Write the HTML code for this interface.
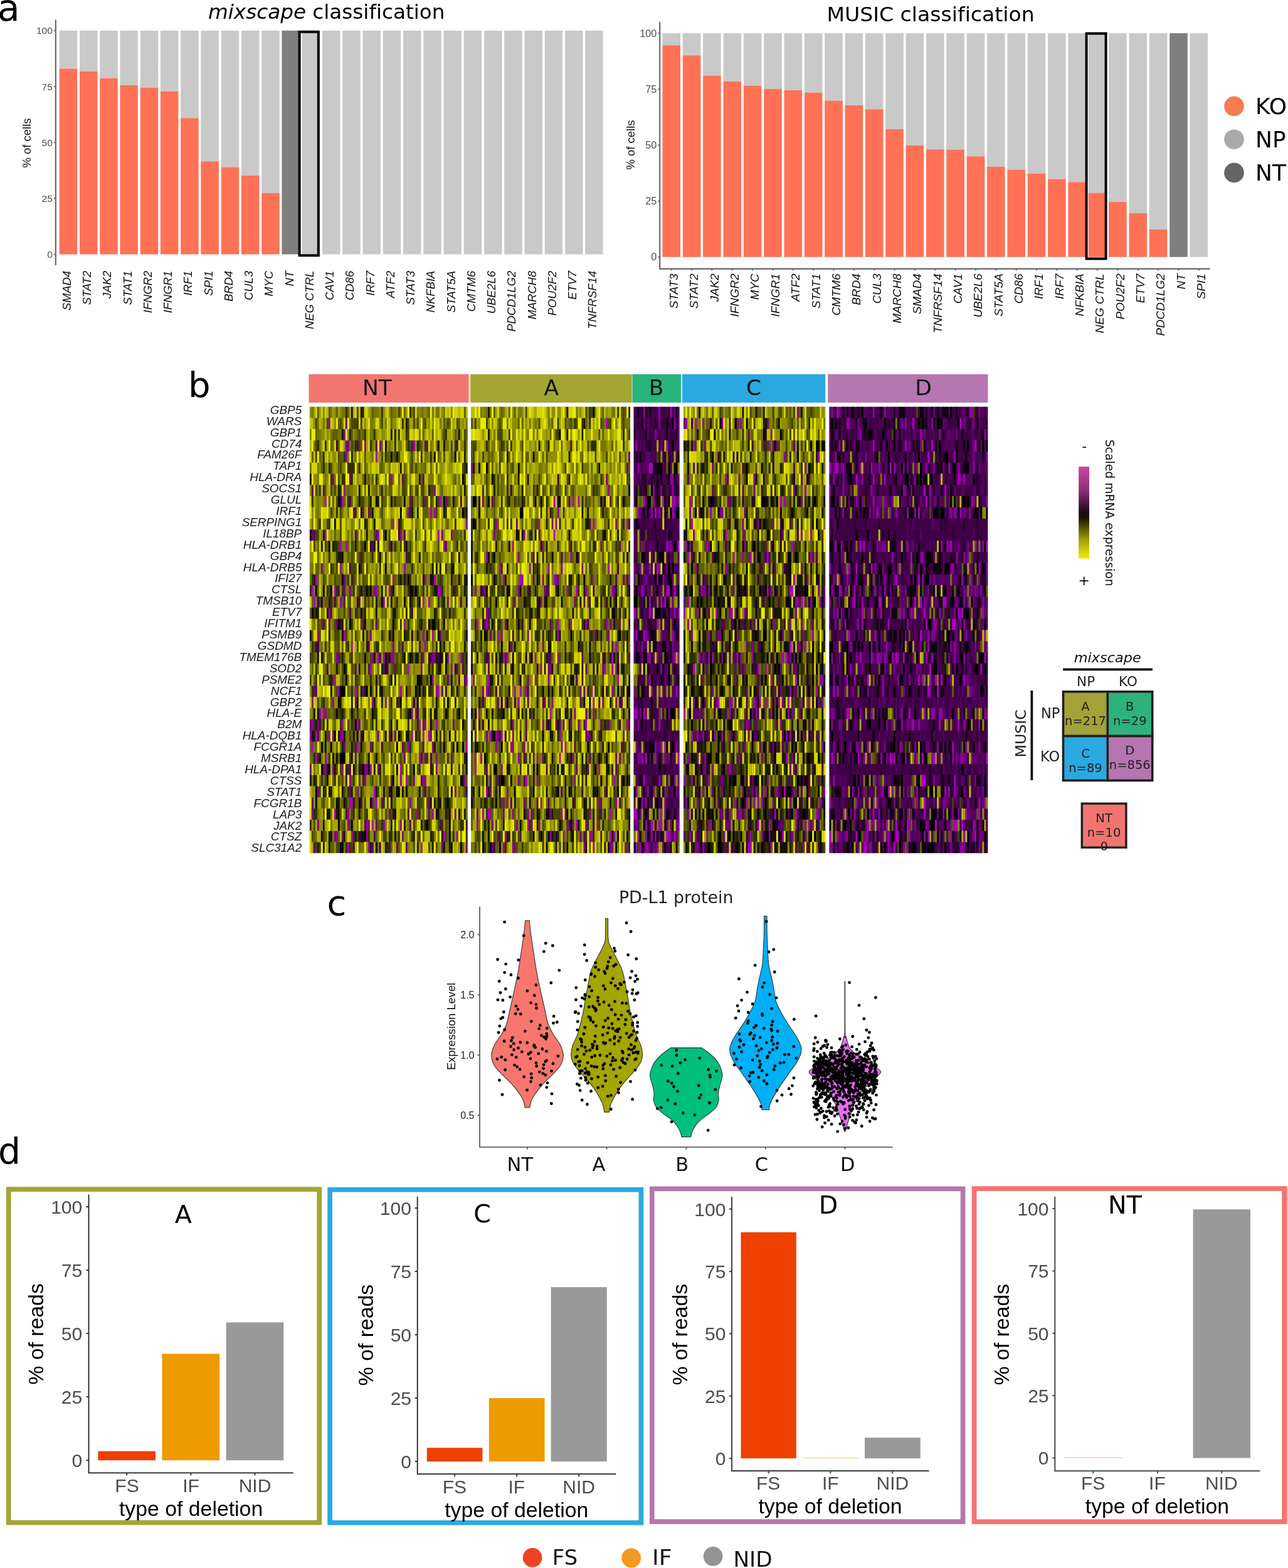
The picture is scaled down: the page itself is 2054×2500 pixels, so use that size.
<!DOCTYPE html>
<html lang="en">
<head>
<meta charset="utf-8">
<title>Figure: mixscape vs MUSIC classification</title>
<style>
html,body{margin:0;padding:0;background:#fff}
body{width:2054px;height:2500px;overflow:hidden}
svg{display:block}
text{white-space:pre;font-variant-ligatures:none;font-kerning:normal}
.s{font-family:"Liberation Sans", sans-serif}
.si{font-family:"Liberation Sans", sans-serif;font-style:italic}
.d{font-family:"DejaVu Sans", "Liberation Sans", sans-serif}
.di{font-family:"DejaVu Sans", "Liberation Sans", sans-serif;font-style:italic}
</style>
</head>
<body>
<svg width="2054" height="2500" viewBox="0 0 2054 2500">
<rect width="2054" height="2500" fill="#fff"/>
<g id="panel_a">
<path fill="#C9C9C9" d="M94.7 48.8h28.5V109.5h-28.5zM127 48.8h28.5V114.1h-28.5zM159.2 48.8h28.5V124.8h-28.5zM191.4 48.8h28.5V135.9h-28.5zM223.7 48.8h28.5V139.8h-28.5zM255.9 48.8h28.5V145.8h-28.5zM288.2 48.8h28.5V188.3h-28.5zM320.4 48.8h28.5V257.2h-28.5zM352.7 48.8h28.5V266.4h-28.5zM384.9 48.8h28.5V280h-28.5zM417.2 48.8h28.5V307.8h-28.5zM481.7 48.8h28.5V405.6h-28.5zM514 48.8h28.5V405.6h-28.5zM546.2 48.8h28.5V405.6h-28.5zM578.5 48.8h28.5V405.6h-28.5zM610.7 48.8h28.5V405.6h-28.5zM643 48.8h28.5V405.6h-28.5zM675.2 48.8h28.5V405.6h-28.5zM707.5 48.8h28.5V405.6h-28.5zM739.7 48.8h28.5V405.6h-28.5zM772 48.8h28.5V405.6h-28.5zM804.2 48.8h28.5V405.6h-28.5zM836.5 48.8h28.5V405.6h-28.5zM868.7 48.8h28.5V405.6h-28.5zM901 48.8h28.5V405.6h-28.5zM933.2 48.8h28.5V405.6h-28.5z"/>
<path fill="#FF7256" d="M94.7 109.5h28.5V405.6h-28.5zM127 114.1h28.5V405.6h-28.5zM159.2 124.8h28.5V405.6h-28.5zM191.4 135.9h28.5V405.6h-28.5zM223.7 139.8h28.5V405.6h-28.5zM255.9 145.8h28.5V405.6h-28.5zM288.2 188.3h28.5V405.6h-28.5zM320.4 257.2h28.5V405.6h-28.5zM352.7 266.4h28.5V405.6h-28.5zM384.9 280h28.5V405.6h-28.5zM417.2 307.8h28.5V405.6h-28.5z"/>
<path fill="#7F7F7F" d="M449.4 48.8h28.5V405.6h-28.5z"/>
<rect x="477.6" y="50.8" width="30.2" height="356.5" fill="none" stroke="#000" stroke-width="4"/>
<path d="M88.8 31.5V423M86.2 405.6h2.6M86.2 316.4h2.6M86.2 227.2h2.6M86.2 138h2.6M86.2 48.8h2.6" fill="none" stroke="#666" stroke-width="2.1"/>
<text class="s" font-size="15.5" text-anchor="end" fill="#4d4d4d" x="83.8" y="411.2">0</text>
<text class="s" font-size="15.5" text-anchor="end" fill="#4d4d4d" x="83.8" y="322">25</text>
<text class="s" font-size="15.5" text-anchor="end" fill="#4d4d4d" x="83.8" y="232.8">50</text>
<text class="s" font-size="15.5" text-anchor="end" fill="#4d4d4d" x="83.8" y="143.6">75</text>
<text class="s" font-size="15.5" text-anchor="end" fill="#4d4d4d" x="83.8" y="54.4">100</text>
<text class="s" font-size="18.5" text-anchor="middle" fill="#111" transform="translate(49 228) rotate(-90)">% of cells</text>
<g class="si" font-size="18.4" text-anchor="end" fill="#111"><text transform="translate(112.8 431.7) rotate(-90)">SMAD4</text><text transform="translate(145 431.7) rotate(-90)">STAT2</text><text transform="translate(177.2 431.7) rotate(-90)">JAK2</text><text transform="translate(209.5 431.7) rotate(-90)">STAT1</text><text transform="translate(241.8 431.7) rotate(-90)">IFNGR2</text><text transform="translate(274 431.7) rotate(-90)">IFNGR1</text><text transform="translate(306.2 431.7) rotate(-90)">IRF1</text><text transform="translate(338.5 431.7) rotate(-90)">SPI1</text><text transform="translate(370.8 431.7) rotate(-90)">BRD4</text><text transform="translate(403 431.7) rotate(-90)">CUL3</text><text transform="translate(435.2 431.7) rotate(-90)">MYC</text><text transform="translate(467.5 431.7) rotate(-90)">NT</text><text transform="translate(499.8 431.7) rotate(-90)">NEG CTRL</text><text transform="translate(532 431.7) rotate(-90)">CAV1</text><text transform="translate(564.2 431.7) rotate(-90)">CD86</text><text transform="translate(596.5 431.7) rotate(-90)">IRF7</text><text transform="translate(628.8 431.7) rotate(-90)">ATF2</text><text transform="translate(661 431.7) rotate(-90)">STAT3</text><text transform="translate(693.2 431.7) rotate(-90)">NKFBIA</text><text transform="translate(725.5 431.7) rotate(-90)">STAT5A</text><text transform="translate(757.8 431.7) rotate(-90)">CMTM6</text><text transform="translate(790 431.7) rotate(-90)">UBE2L6</text><text transform="translate(822.2 431.7) rotate(-90)">PDCD1LG2</text><text transform="translate(854.5 431.7) rotate(-90)">MARCH8</text><text transform="translate(886.8 431.7) rotate(-90)">POU2F2</text><text transform="translate(919 431.7) rotate(-90)">ETV7</text><text transform="translate(951.2 431.7) rotate(-90)">TNFRSF14</text></g>
<path fill="#C9C9C9" d="M1056.4 53h28.6V72.3h-28.6zM1088.8 53h28.6V88.3h-28.6zM1121.1 53h28.6V120.4h-28.6zM1153.5 53h28.6V129.7h-28.6zM1185.8 53h28.6V136.5h-28.6zM1218.2 53h28.6V141.8h-28.6zM1250.5 53h28.6V144h-28.6zM1282.9 53h28.6V147.6h-28.6zM1315.2 53h28.6V160.4h-28.6zM1347.6 53h28.6V167.9h-28.6zM1379.9 53h28.6V174.3h-28.6zM1412.2 53h28.6V206.1h-28.6zM1444.6 53h28.6V232.1h-28.6zM1477 53h28.6V238.2h-28.6zM1509.3 53h28.6V238.5h-28.6zM1541.7 53h28.6V249.2h-28.6zM1574 53h28.6V266h-28.6zM1606.4 53h28.6V270.6h-28.6zM1638.7 53h28.6V276.7h-28.6zM1671.1 53h28.6V285.6h-28.6zM1703.4 53h28.6V290.3h-28.6zM1735.8 53h28.6V307.4h-28.6zM1768.1 53h28.6V321.7h-28.6zM1800.5 53h28.6V339.9h-28.6zM1832.8 53h28.6V365.9h-28.6zM1897.5 53h28.6V409.8h-28.6z"/>
<path fill="#FF7256" d="M1056.4 72.3h28.6V409.8h-28.6zM1088.8 88.3h28.6V409.8h-28.6zM1121.1 120.4h28.6V409.8h-28.6zM1153.5 129.7h28.6V409.8h-28.6zM1185.8 136.5h28.6V409.8h-28.6zM1218.2 141.8h28.6V409.8h-28.6zM1250.5 144h28.6V409.8h-28.6zM1282.9 147.6h28.6V409.8h-28.6zM1315.2 160.4h28.6V409.8h-28.6zM1347.6 167.9h28.6V409.8h-28.6zM1379.9 174.3h28.6V409.8h-28.6zM1412.2 206.1h28.6V409.8h-28.6zM1444.6 232.1h28.6V409.8h-28.6zM1477 238.2h28.6V409.8h-28.6zM1509.3 238.5h28.6V409.8h-28.6zM1541.7 249.2h28.6V409.8h-28.6zM1574 266h28.6V409.8h-28.6zM1606.4 270.6h28.6V409.8h-28.6zM1638.7 276.7h28.6V409.8h-28.6zM1671.1 285.6h28.6V409.8h-28.6zM1703.4 290.3h28.6V409.8h-28.6zM1735.8 307.4h28.6V409.8h-28.6zM1768.1 321.7h28.6V409.8h-28.6zM1800.5 339.9h28.6V409.8h-28.6zM1832.8 365.9h28.6V409.8h-28.6z"/>
<path fill="#7F7F7F" d="M1865.2 53h28.6V409.8h-28.6z"/>
<rect x="1732.6" y="53.4" width="31" height="359.1" fill="none" stroke="#000" stroke-width="4"/>
<path d="M1052.2 35V428.6H1929.7M1049.6 409.8h2.6M1049.6 320.6h2.6M1049.6 231.4h2.6M1049.6 142.2h2.6M1049.6 53h2.6M1070.7 428.6v2.6M1103 428.6v2.6M1135.4 428.6v2.6M1167.8 428.6v2.6M1200.1 428.6v2.6M1232.5 428.6v2.6M1264.8 428.6v2.6M1297.2 428.6v2.6M1329.5 428.6v2.6M1361.9 428.6v2.6M1394.2 428.6v2.6M1426.5 428.6v2.6M1458.9 428.6v2.6M1491.2 428.6v2.6M1523.6 428.6v2.6M1556 428.6v2.6M1588.3 428.6v2.6M1620.7 428.6v2.6M1653 428.6v2.6M1685.4 428.6v2.6M1717.7 428.6v2.6M1750 428.6v2.6M1782.4 428.6v2.6M1814.8 428.6v2.6M1847.1 428.6v2.6M1879.5 428.6v2.6M1911.8 428.6v2.6" fill="none" stroke="#666" stroke-width="2.1"/>
<text class="s" font-size="16.2" text-anchor="end" fill="#4d4d4d" x="1047.3" y="415.4">0</text>
<text class="s" font-size="16.2" text-anchor="end" fill="#4d4d4d" x="1047.3" y="326.2">25</text>
<text class="s" font-size="16.2" text-anchor="end" fill="#4d4d4d" x="1047.3" y="237">50</text>
<text class="s" font-size="16.2" text-anchor="end" fill="#4d4d4d" x="1047.3" y="147.8">75</text>
<text class="s" font-size="16.2" text-anchor="end" fill="#4d4d4d" x="1047.3" y="58.6">100</text>
<text class="s" font-size="18.5" text-anchor="middle" fill="#111" transform="translate(1011.5 231) rotate(-90)">% of cells</text>
<g class="si" font-size="18.8" text-anchor="end" fill="#111"><text transform="translate(1081 436.3) rotate(-90)">STAT3</text><text transform="translate(1113.3 436.3) rotate(-90)">STAT2</text><text transform="translate(1145.7 436.3) rotate(-90)">JAK2</text><text transform="translate(1178 436.3) rotate(-90)">IFNGR2</text><text transform="translate(1210.4 436.3) rotate(-90)">MYC</text><text transform="translate(1242.8 436.3) rotate(-90)">IFNGR1</text><text transform="translate(1275.1 436.3) rotate(-90)">ATF2</text><text transform="translate(1307.5 436.3) rotate(-90)">STAT1</text><text transform="translate(1339.8 436.3) rotate(-90)">CMTM6</text><text transform="translate(1372.2 436.3) rotate(-90)">BRD4</text><text transform="translate(1404.5 436.3) rotate(-90)">CUL3</text><text transform="translate(1436.8 436.3) rotate(-90)">MARCH8</text><text transform="translate(1469.2 436.3) rotate(-90)">SMAD4</text><text transform="translate(1501.5 436.3) rotate(-90)">TNFRSF14</text><text transform="translate(1533.9 436.3) rotate(-90)">CAV1</text><text transform="translate(1566.2 436.3) rotate(-90)">UBE2L6</text><text transform="translate(1598.6 436.3) rotate(-90)">STAT5A</text><text transform="translate(1631 436.3) rotate(-90)">CD86</text><text transform="translate(1663.3 436.3) rotate(-90)">IRF1</text><text transform="translate(1695.7 436.3) rotate(-90)">IRF7</text><text transform="translate(1728 436.3) rotate(-90)">NFKBIA</text><text transform="translate(1760.3 436.3) rotate(-90)">NEG CTRL</text><text transform="translate(1792.7 436.3) rotate(-90)">POU2F2</text><text transform="translate(1825.1 436.3) rotate(-90)">ETV7</text><text transform="translate(1857.4 436.3) rotate(-90)">PDCD1LG2</text><text transform="translate(1889.8 436.3) rotate(-90)">NT</text><text transform="translate(1922.1 436.3) rotate(-90)">SPI1</text></g>
<text class="d" font-size="32" x="332" y="30.4" textLength="377.5" lengthAdjust="spacingAndGlyphs"><tspan font-style="italic">mixscape</tspan> classification</text>
<text class="d" font-size="32" x="1318.4" y="34.1" textLength="331.4" lengthAdjust="spacingAndGlyphs">MUSIC classification</text>
<circle cx="1968" cy="169.3" r="15.8" fill="#F47C50"/>
<text class="d" font-size="36" x="2002" y="181.7">KO</text>
<circle cx="1968" cy="222.2" r="15.8" fill="#A9A9AC"/>
<text class="d" font-size="36" x="2002" y="234.6">NP</text>
<circle cx="1968" cy="275.4" r="15.8" fill="#646566"/>
<text class="d" font-size="36" x="2002" y="287.8">NT</text>
<text class="d" font-size="58" x="-4" y="32.6">a</text>
</g>
<g id="panel_b">
<rect x="746" y="596.6" width="5" height="45.3" fill="#FCDDBE"/>
<rect x="492.4" y="596.6" width="254.9" height="45.3" fill="#F27670"/>
<text class="d" font-size="34.5" text-anchor="middle" fill="#111" x="601.4" y="630.3">NT</text>
<rect x="750.4" y="596.6" width="257.3" height="45.3" fill="#A3A533"/>
<text class="d" font-size="34.5" text-anchor="middle" fill="#111" x="879.3" y="630.3">A</text>
<rect x="1008.4" y="596.6" width="77.7" height="45.3" fill="#27B47B"/>
<text class="d" font-size="34.5" text-anchor="middle" fill="#111" x="1046.7" y="630.3">B</text>
<rect x="1087.9" y="596.6" width="228.3" height="45.3" fill="#2AA9E1"/>
<text class="d" font-size="34.5" text-anchor="middle" fill="#111" x="1202.1" y="630.3">C</text>
<rect x="1320.2" y="596.6" width="255.2" height="45.3" fill="#B676B1"/>
<text class="d" font-size="34.5" text-anchor="middle" fill="#111" x="1472.5" y="630.3">D</text>
<filter id="hb" x="-2%" y="-2%" width="104%" height="104%" color-interpolation-filters="sRGB"><feGaussianBlur stdDeviation="0.7 0.5"/></filter>
<clipPath id="hc0"><rect x="493.8" y="648.6" width="252" height="711.7"/></clipPath>
<g clip-path="url(#hc0)"><g filter="url(#hb)">
<rect x="489.8" y="644.6" width="260" height="719.7" fill="#767600"/>
<g transform="translate(493.8 657.5) scale(3 17.7925)" fill="none" stroke-width="1.02">
<path stroke="#a900bc" d="M35 4h1M8 8h1m8 0h1m51 0h1M64 9h1m1 0h1M44 10h1M8 11h1m59 0h1M16 12h1m2 0h1m51 0h1M3 15h1m62 0h1M1 16h1m11 0h1m28 0h1m25 0h1M2 17h1m57 0h1m2 0h1M18 20h1m46 0h1M22 21h1m38 0h1M36 22h1m2 0h1m40 0h1M32 23h1m19 0h1M13 24h1M24 25h1m23 0h1m19 0h1M7 27h1M25 28h1m32 0h1m8 0h1M3 29h1m50 0h1m5 0h1m2 0h1M1 30h1m23 0h1m57 0h1M3 31h1m54 0h1M48 32h1M51 33h1M34 34h1M21 35h2m12 0h1M13 36h1m42 0h1m8 0h1M33 37h1M22 38h1m48 0h1M20 39h1m38 0h1"/>
<path stroke="#9300a4" d="M10 1h1M29 3h1m7 0h1m17 0h1M19 4h1M43 6h1M18 7h1M52 9h1M36 11h1m11 0h1M16 14h1m33 0h1M44 15h1m16 0h1M35 16h1m33 0h1M16 17h1m22 0h1M10 18h1M6 19h1m43 0h1M4 20h1m55 0h1M33 22h1m9 0h2M75 23h1M65 24h1m17 0h1M15 25h1m51 0h1M12 26h1m20 0h1m6 0h1M5 27h1m2 0h1m45 0h1M1 28h1m15 0h1m43 0h1M0 29h1m9 0h1m6 0h1M52 30h1M8 31h1m58 0h1M8 32h1m23 0h1M21 33h1m26 0h1m11 0h2m20 0h1M25 34h1M53 35h1M20 36h1M20 37h1m9 0h1m8 0h1m8 0h1M14 38h1m15 0h1m47 0h1M31 39h1"/>
<path stroke="#7e008d" d="M18 2h1M19 3h2M12 6h1M66 7h1M61 8h1m10 0h1M28 9h1M83 10h1M70 11h1m4 0h1M42 12h1M6 14h1M21 16h1m12 0h1M73 17h1M32 20h1M44 21h1M14 22h1m45 0h1m4 0h2m6 0h1M59 23h1M28 25h1M1 26h1m22 0h1M56 27h1M4 28h1M12 29h1m3 0h1m19 0h1m27 0h1M32 30h1m32 0h1M61 31h1M12 32h1m4 0h1m11 0h2m36 0h1M29 33h1m25 0h1M4 34h1m72 0h1M33 35h1M1 36h1m40 0h1M4 37h1m26 0h1M13 38h1m35 0h1"/>
<path stroke="#6a0076" d="M19 1h1M54 3h1m6 0h1M21 6h1m27 0h1M53 8h1M23 9h1m7 0h1M1 11h1m33 0h1M33 12h1M18 15h1M18 16h1M10 19h1m3 0h1m13 0h1m6 0h1M69 20h1M15 22h1M39 23h1m5 0h1m32 0h1M73 24h1M2 25h1m67 0h1M0 28h1m25 0h1m33 0h1m15 0h1M42 29h1m2 0h1M18 30h1m5 0h1m24 0h1M50 31h1m24 0h1M0 32h1m6 0h1m28 0h1M28 33h1m14 0h1M21 34h1M38 35h1m24 0h1M63 36h1m13 0h1M35 37h1m17 0h1M17 38h1M46 39h1m4 0h1m18 0h1m12 0h1"/>
<path stroke="#54005e" d="M25 3h1m9 0h1M60 6h1M1 7h1m5 0h1M21 8h1m58 0h1M47 10h1M2 11h1m21 0h1m25 0h1M72 12h1M27 13h1m23 0h1M15 16h1M13 17h1m4 0h1m7 0h1m53 0h1M11 18h1m9 0h1M31 21h1m17 0h1m8 0h1M37 22h1m3 0h1m22 0h1M24 23h1m16 0h1m39 0h1M79 24h1m2 0h1M3 25h1M46 26h1M4 29h1M60 30h1M59 31h1m4 0h1M21 32h1M19 33h1m39 0h1M61 34h1M1 35h1M19 36h1m32 0h1M29 37h1m39 0h1M34 38h1M2 39h1m30 0h1m3 0h1m4 0h1"/>
<path stroke="#3f0046" d="M14 3h1m63 0h1M47 11h1M21 14h1M22 15h1M76 16h1M4 17h1m5 0h1M54 18h1M16 19h1M3 21h2M68 22h1M9 23h1M55 26h1M57 27h1M5 28h1M27 29h1M38 30h1M19 32h1m7 0h1m36 0h1M42 34h1m40 0h1M27 35h1M83 37h1M23 39h1"/>
<path stroke="#2a002f" d="M32 12h1M50 15h1m24 0h1M27 16h1M6 17h1m18 0h1m9 0h1M54 20h1M51 25h1M22 31h1M13 32h1M64 35h1M27 38h2"/>
<path stroke="#150018" d="M22 0h1M66 4h1M15 8h1m27 0h1M36 12h1m14 0h1M79 13h1M64 15h1M3 16h1m40 0h1m8 0h1M38 17h1m19 0h1m24 0h1M27 18h1M29 19h1m33 0h1m7 0h1M17 20h1m10 0h1m15 0h1M4 22h1m24 0h1m39 0h1M40 23h1M38 25h1m39 0h1M25 26h1m31 0h1M4 27h1m9 0h1m7 0h1M24 28h1m39 0h1m16 0h1M25 29h1m2 0h1M27 30h1M14 31h1m68 0h1M9 33h1M17 34h1m40 0h1M18 35h1m7 0h1m5 0h1m36 0h1M45 36h1m28 0h1M15 37h1M6 38h1M17 39h1"/>
<path stroke="#000000" d="M40 3h1m27 0h1M43 4h1m33 0h1M81 6h1M26 7h1M35 8h1m14 0h1m20 0h1m4 0h1M27 9h1m5 0h1m14 0h1m32 0h1M13 10h1m20 0h1M0 11h1m39 0h1M10 12h1m18 0h1M17 13h1M26 14h1m13 0h1M17 15h1m34 0h1m30 0h1M7 16h1m3 0h1m18 0h1m1 0h1m21 0h1m1 0h1M50 17h1m2 0h1M1 18h1M15 19h1m5 0h1m22 0h1m20 0h2M0 20h1m41 0h1m25 0h1m14 0h1M69 21h1M6 22h1m33 0h1m9 0h1m2 0h1m18 0h1M18 23h1m53 0h1M19 24h1m23 0h1m13 0h2m5 0h1M11 25h1m4 0h3m11 0h1m1 0h1m23 0h1m1 0h1M15 26h1m32 0h1m24 0h1M33 27h1m19 0h1m18 0h1m6 0h1M13 29h1m33 0h1m19 0h1m6 0h1M6 30h1m4 0h1m34 0h1m24 0h1m6 0h1m2 0h1M16 31h3M6 32h1m3 0h1m12 0h1m4 0h1m17 0h1m8 0h1m27 0h1M44 33h1m35 0h1M3 34h1m39 0h1m2 0h2m1 0h1m1 0h1m23 0h1M3 35h1m10 0h1m28 0h1m29 0h1M9 36h1m57 0h1M22 37h1m39 0h1m11 0h1M29 38h1m44 0h1M16 39h1m18 0h1m39 0h1m4 0h1"/>
<path stroke="#181800" d="M27 0h1M51 1h1M17 2h1m3 0h1m21 0h1m1 0h1m33 0h1M57 3h1m13 0h1M22 4h1m23 0h1m35 0h1M48 5h1m34 0h1M0 6h1m28 0h1m28 0h1M15 7h1m15 0h1m31 0h1m18 0h1M16 8h1m9 0h1m5 0h1m3 0h1m30 0h1M54 9h1m2 0h1m13 0h1m11 0h1M29 10h1M7 11h1m22 0h1M6 12h1m5 0h1m11 0h1m9 0h1m8 0h1M15 13h2m20 0h1m20 0h1M65 14h1m1 0h1m1 0h1m5 0h2M2 15h1m45 0h1m11 0h1m4 0h1m13 0h1m2 0h1M38 16h1m27 0h2m14 0h1M43 17h1m27 0h1M3 18h2m4 0h1m19 0h1m5 0h1m8 0h2m5 0h1m14 0h1m7 0h1M17 19h1m41 0h1M10 20h1m39 0h1m6 0h1m4 0h1M30 21h1m40 0h1m10 0h1M17 22h1m16 0h1m7 0h1m11 0h1m1 0h2m5 0h1m3 0h1m2 0h1m12 0h1M14 23h1m11 0h1m11 0h1m24 0h1m4 0h2m7 0h1M11 24h1m23 0h1m9 0h1m13 0h1m15 0h1M27 25h1m1 0h1m5 0h1m1 0h1m22 0h1m11 0h1m2 0h1M16 26h1m5 0h1m11 0h1m3 0h1m28 0h1m9 0h1M2 27h1m14 0h1m34 0h1m8 0h1m2 0h1m1 0h2M3 28h1m39 0h1m2 0h1M1 29h2m5 0h1m6 0h1m2 0h1m4 0h1m16 0h1m2 0h1m7 0h2m3 0h1M8 30h1m8 0h1m4 0h1m43 0h1m9 0h1M5 31h1m6 0h1m18 0h1m3 0h1m46 0h1M9 32h1m16 0h1m4 0h1m2 0h1m2 0h1m37 0h1M0 33h1m1 0h1m65 0h1m12 0h1M7 34h1m2 0h2m10 0h1m12 0h1m3 0h1m28 0h1M15 35h1m7 0h1m42 0h1m1 0h1m3 0h1M10 36h1m3 0h2m10 0h1m17 0h1m23 0h1m3 0h1m6 0h1m2 0h1M7 37h1m35 0h1m6 0h1m8 0h1m1 0h1M10 38h2m6 0h1m5 0h1m1 0h1m18 0h1m9 0h1m8 0h1m5 0h1M4 39h1m2 0h1m2 0h1m21 0h1m7 0h1m16 0h1m7 0h1m5 0h1m2 0h1"/>
<path stroke="#2f2f00" d="M19 0h1m8 0h1m9 0h1m14 0h1M25 1h1m23 0h1M29 2h1m4 0h1m12 0h1m3 0h1m20 0h1M4 3h1m3 0h1m15 0h1m7 0h1m12 0h1m6 0h1m9 0h1m14 0h1m4 0h1M7 4h1m10 0h1m21 0h1m18 0h1m4 0h1M7 5h1m2 0h1m9 0h4m2 0h1m55 0h1M11 6h1m5 0h2m3 0h1m12 0h1m46 0h1M5 7h1m10 0h1m21 0h1M1 8h1m18 0h1m17 0h1m6 0h1m8 0h1m5 0h1M14 9h1m9 0h1m28 0h1m18 0h1m9 0h1M5 10h1m4 0h1m19 0h1m17 0h1m28 0h1M39 11h1m16 0h1m25 0h1M13 12h2m30 0h1m4 0h1m10 0h1m16 0h1M10 13h1m3 0h1m18 0h1m6 0h1m11 0h2m21 0h1M11 14h1m15 0h1m9 0h1m16 0h1m17 0h1M1 15h1m18 0h1m26 0h1m5 0h1m15 0h1M0 16h1m8 0h1m4 0h1m2 0h1m5 0h1m2 0h1m2 0h1m1 0h1m11 0h1m8 0h1m2 0h1m1 0h1m2 0h1m9 0h1m6 0h1m5 0h1M11 17h1m17 0h1m16 0h1m7 0h1m2 0h1m10 0h1m1 0h1M2 18h1m21 0h1m28 0h1m13 0h1m3 0h1m10 0h1M7 19h1m14 0h1m25 0h1m3 0h1m5 0h1m5 0h1m3 0h1M30 20h1m7 0h1m12 0h2M1 21h1m6 0h1m11 0h1m14 0h2m30 0h1M22 22h1m26 0h1m9 0h1m21 0h1M3 23h1m15 0h1m9 0h1m1 0h1m33 0h1m17 0h1M3 24h1m6 0h1m13 0h1m7 0h1m4 0h1m24 0h1M1 25h1m20 0h1m34 0h1m3 0h1m1 0h2m17 0h1M7 26h1m35 0h1m3 0h1m23 0h1M16 27h1m8 0h1m3 0h1m4 0h2m24 0h1m12 0h1m4 0h1M2 28h1m4 0h1m1 0h1m6 0h1m5 0h1m10 0h1m1 0h1m2 0h1m13 0h1m4 0h1m13 0h1M48 29h1m9 0h1m10 0h1m1 0h1m5 0h1M33 30h1m19 0h1m15 0h1M2 31h1m1 0h1m5 0h1m10 0h1m2 0h1m1 0h1m16 0h1m18 0h1m10 0h1M20 32h1m37 0h1m6 0h1m13 0h1M3 33h1m2 0h1m6 0h1m9 0h1m13 0h1m15 0h1M8 34h1m11 0h1m6 0h1M19 35h1m19 0h1m17 0h1m16 0h1M2 36h2m19 0h1m6 0h1m27 0h1m14 0h1M0 37h1m37 0h1m24 0h1m6 0h1m9 0h2M23 38h1m7 0h1m10 0h2m3 0h1m6 0h1m10 0h1m10 0h1m6 0h1M19 39h1m1 0h1m19 0h1"/>
<path stroke="#464600" d="M25 0h1m21 0h1m7 0h1M3 1h1m5 0h1m6 0h1m5 0h3m2 0h1m10 0h1m13 0h1m2 0h1m1 0h1m3 0h1m11 0h1m4 0h1M26 2h1m25 0h1m18 0h1m10 0h1M3 3h1m18 0h1m3 0h1m26 0h1m4 0h1m16 0h1M3 4h1m11 0h1m22 0h1m6 0h1m1 0h1m6 0h1m16 0h1M11 5h1m4 0h1m37 0h1m1 0h1m24 0h1M15 6h1m26 0h1m7 0h1M3 7h1m7 0h1m1 0h1m35 0h2m2 0h1m2 0h2m1 0h2m3 0h2M14 8h1m12 0h2m2 0h1m30 0h1m1 0h1m3 0h1m4 0h1m9 0h1M11 9h1m4 0h1m15 0h1m5 0h1m28 0h1M9 10h1m6 0h1m43 0h1M3 11h2m11 0h1m17 0h1m7 0h1m18 0h1M2 12h1m5 0h1m6 0h1m6 0h1m4 0h2m19 0h1m4 0h1m14 0h1m11 0h1m2 0h1M22 13h1m3 0h1m1 0h1m7 0h1M12 14h1m1 0h1m7 0h3m5 0h1m12 0h1m16 0h1M7 15h1m5 0h1m9 0h1m4 0h1m11 0h2m9 0h1m16 0h1m1 0h1M10 16h1m17 0h1m11 0h1m9 0h1m11 0h1m2 0h1m9 0h1m2 0h1M5 17h1m15 0h1m9 0h1m1 0h1m7 0h1M18 18h1m6 0h1m2 0h1m28 0h1m12 0h1m1 0h1m3 0h1M4 19h1m8 0h1m5 0h1m7 0h1m5 0h1m11 0h1m21 0h1m15 0h1M5 20h1m7 0h3m3 0h1m4 0h1m18 0h1m28 0h2m8 0h1M2 21h1m7 0h1m4 0h1m3 0h1m5 0h1m21 0h1m6 0h1M0 22h2m5 0h1m8 0h1m4 0h1m10 0h1m13 0h1m5 0h1m29 0h1M17 23h1m4 0h1m21 0h1m1 0h1m1 0h1m18 0h1m14 0h1M0 24h1m6 0h1m4 0h1m4 0h1m7 0h1m16 0h1m28 0h1M14 25h1m10 0h1m39 0h1m10 0h1M4 26h1m1 0h1M13 27h1m1 0h1m2 0h1m4 0h1m19 0h1m4 0h1m2 0h1m31 0h1M20 28h1m2 0h1m5 0h1m12 0h1m27 0h1m11 0h1M9 29h1m11 0h1m35 0h1m25 0h1M23 30h1m26 0h1m24 0h1M27 31h1m11 0h1m5 0h1m2 0h1m4 0h1M14 32h1m1 0h1m7 0h1m14 0h1m13 0h1m3 0h1m14 0h1m8 0h1M8 33h1m6 0h1m1 0h1m8 0h1m6 0h1m38 0h1M5 34h1m12 0h1m17 0h1m23 0h1m2 0h1m9 0h1m8 0h1M7 35h1m21 0h1m11 0h1m16 0h2m2 0h1m8 0h1M16 36h1m5 0h1m6 0h1m5 0h1m4 0h1m2 0h1m10 0h1m2 0h1M2 37h1m15 0h1m2 0h1m23 0h1m9 0h1m12 0h1m3 0h1M1 38h1m5 0h1m17 0h1m13 0h2m16 0h2m13 0h1M3 39h1m1 0h1m8 0h2m6 0h1m32 0h1m7 0h1m3 0h1"/>
<path stroke="#5e5e00" d="M4 0h1m5 0h1m3 0h1m5 0h1m12 0h1m9 0h1m6 0h1m12 0h1m18 0h1M15 1h1m27 0h1m16 0h1m10 0h1m2 0h1m4 0h1M3 2h1m8 0h3m7 0h1m2 0h1m2 0h1m31 0h1m4 0h1m11 0h1m5 0h1M11 3h1m3 0h1m7 0h1m3 0h1m10 0h1m12 0h1m7 0h1M1 4h1m3 0h1m10 0h2m11 0h1m11 0h2m1 0h1m23 0h1m6 0h1m3 0h1M6 5h1m8 0h1m13 0h1m7 0h2m11 0h1m2 0h1m7 0h1m2 0h1m2 0h1M28 6h1m2 0h1m1 0h1m13 0h1m3 0h1m7 0h1m17 0h1M8 7h1m11 0h1m14 0h1m1 0h1m2 0h1m1 0h2m7 0h1m18 0h1m9 0h1M10 8h1m1 0h1m5 0h1m3 0h1m2 0h1m13 0h2m3 0h1m1 0h3m8 0h1m7 0h1m8 0h1m2 0h1M60 9h3m16 0h1M4 10h1m21 0h1m11 0h1m4 0h1m20 0h1m8 0h1M13 11h1m8 0h1m2 0h1m38 0h1m11 0h3m1 0h1M4 12h1m4 0h1m10 0h1m2 0h1m1 0h1m4 0h1m21 0h1m7 0h1m16 0h1m3 0h1M4 13h1m15 0h1m2 0h1m1 0h1m6 0h1m10 0h1m16 0h1m1 0h1m2 0h1m1 0h3m6 0h1m5 0h1M3 14h2m23 0h1m18 0h1m35 0h1M4 15h1m3 0h1m5 0h3m2 0h1m4 0h1m1 0h1m2 0h2m1 0h1m2 0h1m3 0h1m2 0h1m2 0h1m3 0h1m6 0h1m19 0h2m2 0h1M4 16h1m17 0h1m2 0h1m7 0h1m2 0h1m22 0h1m4 0h1m15 0h1M1 17h1m6 0h2m2 0h1m1 0h1m2 0h1m2 0h1m16 0h1m7 0h1m9 0h1m21 0h1M0 18h1m14 0h1m4 0h1m5 0h1m11 0h1m1 0h1m5 0h1m11 0h2m15 0h1m1 0h1M5 19h1m2 0h1m27 0h1m20 0h1m2 0h2m8 0h1m8 0h1M1 20h1m20 0h1m16 0h1m8 0h1m9 0h1m4 0h1m6 0h2M13 21h2m2 0h1m10 0h1m5 0h1m13 0h1m13 0h1m2 0h1m4 0h1m3 0h1m8 0h1M2 22h1m6 0h3m1 0h1m4 0h1m7 0h1m1 0h1m1 0h1m14 0h1m2 0h1m6 0h1m19 0h1M1 23h1m6 0h1m6 0h1m7 0h1m12 0h1m6 0h1m3 0h1m2 0h2m12 0h1m8 0h1m5 0h1M2 24h1m2 0h1m12 0h1m3 0h1m3 0h1m2 0h1m30 0h2m10 0h1m4 0h1M13 25h1m6 0h1m12 0h1m5 0h1m2 0h1m9 0h2m5 0h1m19 0h1M11 26h1m30 0h1m17 0h1m4 0h1m2 0h1m12 0h1M9 27h2m1 0h1m29 0h1m28 0h1m4 0h1m4 0h1M6 28h1m6 0h1m16 0h1m1 0h1m21 0h1m1 0h1m8 0h1m7 0h1m4 0h1m4 0h1M22 29h1m30 0h1m27 0h2M0 30h1m2 0h1m10 0h1m1 0h1m9 0h1m1 0h1m13 0h1m8 0h1m6 0h2m8 0h1m3 0h1M1 31h1m13 0h1m12 0h1m5 0h1m3 0h1m21 0h1m8 0h3m4 0h1M44 32h1m4 0h1m1 0h1m2 0h1m15 0h1M12 33h1m9 0h1m9 0h1m6 0h2m11 0h1m1 0h1m16 0h1m4 0h1m6 0h1M24 34h1m3 0h1m12 0h1m2 0h1m24 0h1m1 0h2m6 0h1M6 35h1m4 0h2m4 0h1m2 0h1m3 0h2m8 0h1m10 0h1m6 0h1m7 0h1m6 0h1m7 0h1m7 0h1M7 36h1m19 0h1m6 0h1m15 0h1m4 0h1m4 0h1m3 0h1m4 0h1M17 37h1m18 0h2m22 0h1m3 0h1m8 0h1m2 0h1m2 0h1M2 38h1m5 0h1m6 0h1m19 0h1m24 0h1m12 0h1M11 39h2m13 0h1m16 0h1m3 0h1m33 0h1"/>
<path stroke="#8d8d00" d="M0 0h1m6 0h1m5 0h1m2 0h1m15 0h1m4 0h1m1 0h1m2 0h1m3 0h1m11 0h1m2 0h1m8 0h1m4 0h1M2 1h1m10 0h1m15 0h1m4 0h1m9 0h2m10 0h1m6 0h1m1 0h1m15 0h1M0 2h1m5 0h2m1 0h1m10 0h1m2 0h1m11 0h1m2 0h2m36 0h1m3 0h1M18 3h1m15 0h1m6 0h1m1 0h1m12 0h1m3 0h1m4 0h1m14 0h2M10 4h1m1 0h2m9 0h1m2 0h1m5 0h1m4 0h1m17 0h1m7 0h1m1 0h1m8 0h1m8 0h1M5 5h1m3 0h1m2 0h1m1 0h1m3 0h1m32 0h1m3 0h1m2 0h1m10 0h2m3 0h2M2 6h2m3 0h1m1 0h1m6 0h1m8 0h1m6 0h1m20 0h1m2 0h2M0 7h1m13 0h1m8 0h2m2 0h1m11 0h1m1 0h1m19 0h1m14 0h1m2 0h1M3 8h1m1 0h2m17 0h1m5 0h1m11 0h1m6 0h1m2 0h1m3 0h1m18 0h1M1 9h1m3 0h1m4 0h1m18 0h1m9 0h1m3 0h1m24 0h1m8 0h1m2 0h1M7 10h2m10 0h1m3 0h1m9 0h1m20 0h1m6 0h1m1 0h1m3 0h1m2 0h1M6 11h1m4 0h1m2 0h2m13 0h1m2 0h2m7 0h1m12 0h1m2 0h2m12 0h1m9 0h1M3 12h1m22 0h1m13 0h1m6 0h1m18 0h2m5 0h2m7 0h1M0 13h2m7 0h1m3 0h1m4 0h2m9 0h1m1 0h1m2 0h1m3 0h1m6 0h2m9 0h2m8 0h1m3 0h1m2 0h1m7 0h1M5 14h1m2 0h2m9 0h1m11 0h1m1 0h1m5 0h1m4 0h1m4 0h1m9 0h1m2 0h1m17 0h1M6 15h1m5 0h1m21 0h1m2 0h1m16 0h2m2 0h1m12 0h1M6 16h1m9 0h1m20 0h1m7 0h1m1 0h2m9 0h1M23 17h2m7 0h1m11 0h1m2 0h2m12 0h1m3 0h1m13 0h1m1 0h2M7 18h1m11 0h1m11 0h1m2 0h1m12 0h1m12 0h1m3 0h2m2 0h1m14 0h1M1 19h1m9 0h1m8 0h1m2 0h1m1 0h1m4 0h2m6 0h1m3 0h1m11 0h1m1 0h1M8 20h1m3 0h1m3 0h1m3 0h1m5 0h1m13 0h1m4 0h1m35 0h1M0 21h1m8 0h1m17 0h1m10 0h1m2 0h2m2 0h1m4 0h1m5 0h1m9 0h1M38 22h1m37 0h1m1 0h1M0 23h1m11 0h1m3 0h1m8 0h1m1 0h2m13 0h1m10 0h1m2 0h3m15 0h1M34 24h1m3 0h1m2 0h1m9 0h1m3 0h1m14 0h1m5 0h1m1 0h1M0 25h1m48 0h1m5 0h1m25 0h1M5 26h1m7 0h2m2 0h1m65 0h1M0 27h1m26 0h1m3 0h1m6 0h1m5 0h1m13 0h2m3 0h1m4 0h1m8 0h1M18 28h1m26 0h1m9 0h1m16 0h1m1 0h1M7 29h1m18 0h1m17 0h1m4 0h1m16 0h1m12 0h1M5 30h1m3 0h1m2 0h1m23 0h1M40 31h2m10 0h1m3 0h1m17 0h1m4 0h1M4 32h1m20 0h1m17 0h1m16 0h1m8 0h1M27 33h1m2 0h2m2 0h1m3 0h1m25 0h1m5 0h1m2 0h1M1 34h2m26 0h1m2 0h2m4 0h1m11 0h1m2 0h1m1 0h2m2 0h1m10 0h1m9 0h1M2 35h1m1 0h1m3 0h2m3 0h1m14 0h1m8 0h1m11 0h2m29 0h1M5 36h1m12 0h1m9 0h1m4 0h1m25 0h1M1 37h1m3 0h2m16 0h1m18 0h1m4 0h1m3 0h1m15 0h1m3 0h1m5 0h1M19 38h1m12 0h2m2 0h1m1 0h1m2 0h1m2 0h1m5 0h2m23 0h1m1 0h1M13 39h1m16 0h1m22 0h2m3 0h1m5 0h1m3 0h2m9 0h1"/>
<path stroke="#a4a400" d="M2 0h1m2 0h1m6 0h1m2 0h1m5 0h1m9 0h1m19 0h1M6 1h1m1 0h1m30 0h1m10 0h1m2 0h2m3 0h1m3 0h1m7 0h1m5 0h1m3 0h1m1 0h1M10 2h1m19 0h1m5 0h1m3 0h1m8 0h2m10 0h1m1 0h1m3 0h1m5 0h2M6 3h1m2 0h1m20 0h1m13 0h1m24 0h2m3 0h1m1 0h1M30 4h2m4 0h1m2 0h1m8 0h2m2 0h1M13 5h1m13 0h1m4 0h1m8 0h1m5 0h1m17 0h1m5 0h1m1 0h1M26 6h2m42 0h1m4 0h1m2 0h1M9 7h1m22 0h1m3 0h1m34 0h2m1 0h1m3 0h1M2 8h1m16 0h1m14 0h1m16 0h1m6 0h1M13 9h1m1 0h1m2 0h2m5 0h1m8 0h1m9 0h1m25 0h1M0 10h1m2 0h1m17 0h1m9 0h1m8 0h3m15 0h1m6 0h1m2 0h1m5 0h2m6 0h1M5 11h1m4 0h1m1 0h1m6 0h1m1 0h1m1 0h1m7 0h1m20 0h1m14 0h1M0 12h1m20 0h1m35 0h1M5 13h1m2 0h1m2 0h2m28 0h1m6 0h1m1 0h1m3 0h1m8 0h1m8 0h1m4 0h1M32 14h1m1 0h1m1 0h1m4 0h2m5 0h1m9 0h1m2 0h1m1 0h1m17 0h1M21 15h1m5 0h1m8 0h1m35 0h1m1 0h1M8 16h1m52 0h1m10 0h1M15 17h1m12 0h1m27 0h1m10 0h1m4 0h1M12 18h1m1 0h1m8 0h1m12 0h2m40 0h1m2 0h1M34 19h1m4 0h1m29 0h1m4 0h1m3 0h1m2 0h1M11 20h1m17 0h1m5 0h3m3 0h1m4 0h1m6 0h1m1 0h1m21 0h1M7 21h1m13 0h1m2 0h1m4 0h1m10 0h1m23 0h1m7 0h1m5 0h1m1 0h2M19 22h2m40 0h1m12 0h1m2 0h1M10 23h1m19 0h1m4 0h1m18 0h1m6 0h2m7 0h1m5 0h1m3 0h1M1 24h1m25 0h1m20 0h3m15 0h1M6 25h1m19 0h1m4 0h1m13 0h1m8 0h1m14 0h1m3 0h1m3 0h1m2 0h1M66 26h1M19 27h1m29 0h1m19 0h1m4 0h1M27 28h1m3 0h1m31 0h1m5 0h1m5 0h1M68 29h1m4 0h1M13 30h1m16 0h2m30 0h1m17 0h1M7 31h1m17 0h1m3 0h1m3 0h1m3 0h1m6 0h1m9 0h2m22 0h1m2 0h1M3 32h1m7 0h1m26 0h1m29 0h1m8 0h1M10 33h1m7 0h1m5 0h1m11 0h1m29 0h2m10 0h1M12 34h1m10 0h1m6 0h2m34 0h1m11 0h1M5 35h1m49 0h1m14 0h1m7 0h2m2 0h1M6 36h1m17 0h1m50 0h1M3 37h1m4 0h1m3 0h3m4 0h1m4 0h1m3 0h1m5 0h1m43 0h1M5 38h1m3 0h1M1 39h1m7 0h1m24 0h1m4 0h1m5 0h1m31 0h1m4 0h1"/>
<path stroke="#bcbc00" d="M9 0h1m13 0h1m2 0h1m13 0h1m25 0h1m2 0h1m3 0h1m5 0h1m3 0h1M1 1h1m3 0h1m6 0h1m15 0h1m1 0h1m11 0h1m3 0h1m1 0h1m18 0h1m9 0h1M8 2h1m22 0h1m5 0h1m4 0h1m1 0h1m1 0h1m8 0h1m8 0h1m4 0h1m5 0h1m5 0h1M0 3h1m45 0h1m2 0h1M2 4h1m5 0h1m2 0h1m2 0h1m13 0h1m31 0h1m9 0h1m1 0h2m6 0h1M31 5h1m3 0h1m4 0h1m3 0h2m16 0h1m13 0h1m1 0h1M23 6h1m10 0h1m13 0h1m3 0h1m8 0h2m4 0h1m3 0h1m1 0h2M6 7h1m3 0h1m14 0h1m20 0h1m1 0h1m6 0h1m6 0h1m5 0h1m4 0h1m7 0h1M13 8h1m9 0h1m9 0h1M30 9h1m4 0h2m3 0h1m1 0h1m3 0h1m9 0h1M20 10h1m16 0h1m8 0h1m24 0h1M37 11h1m31 0h1M11 12h1m47 0h1m2 0h2m1 0h1m13 0h1M44 13h1m14 0h1m11 0h1m8 0h1M18 14h1m37 0h1m11 0h1M5 15h1m3 0h1m47 0h1m1 0h1m21 0h1M12 16h1m11 0h1m16 0h1m21 0h1m10 0h1m4 0h1M34 17h1m7 0h1m6 0h1m12 0h1m11 0h1M41 18h1m37 0h2M3 19h1m68 0h1M21 20h1m11 0h1m41 0h1m2 0h2M16 21h1m15 0h1m13 0h1m6 0h1m3 0h1m15 0h1M2 23h1M14 24h2m7 0h1m30 0h1M5 25h1m2 0h1m3 0h1m21 0h1M3 26h1m6 0h1m28 0h1m4 0h1m19 0h1M3 27h1m16 0h1m18 0h1m30 0h1m4 0h1M14 28h1m19 0h1m1 0h1m14 0h1m7 0h1M30 29h1m1 0h1m4 0h1m8 0h1m12 0h1m2 0h1M34 30h1m2 0h1m10 0h1m6 0h1m17 0h1m3 0h1M11 31h1m7 0h1m3 0h1m33 0h1m5 0h1m8 0h1m4 0h1M59 32h1m18 0h1M42 33h1m2 0h1m3 0h1m6 0h1m5 0h2m10 0h1m4 0h1M0 34h1m36 0h1m10 0h1m18 0h1M30 35h2m4 0h1m9 0h2m28 0h1M39 36h1m6 0h2m3 0h1m14 0h1M9 37h1m44 0h1M4 38h1m11 0h1m4 0h1m30 0h1m8 0h3M24 39h1m19 0h1m31 0h1m1 0h1"/>
<path stroke="#d4d400" d="M3 0h1m2 0h1m1 0h1m15 0h1m4 0h2m10 0h1m14 0h1m15 0h1m1 0h1m2 0h2m1 0h2M0 1h1m10 0h1m6 0h1m7 0h1m8 0h2m4 0h1m22 0h1m3 0h1m6 0h1M41 2h1m6 0h1m4 0h2m2 0h1m1 0h1m2 0h1m5 0h1M7 3h1m5 0h1m2 0h2m13 0h1m18 0h1m12 0h1m2 0h1m12 0h1M0 4h1m8 0h1m17 0h1m6 0h1m21 0h1m21 0h1m2 0h1M1 5h3m24 0h1m4 0h2m1 0h1m6 0h1m2 0h1m2 0h1m2 0h1m10 0h1m4 0h1m3 0h1m4 0h1m1 0h1M10 6h1m13 0h1m12 0h1m1 0h1m14 0h1m25 0h1m2 0h1M2 7h1m14 0h1m10 0h1m1 0h1m13 0h2m12 0h1m8 0h1m7 0h1m1 0h1M0 8h1m8 0h1m1 0h1m25 0h1m3 0h1m24 0h1m12 0h1m1 0h1M2 9h1m4 0h2m12 0h1m23 0h1m1 0h1m2 0h1m7 0h1m15 0h1M11 10h1m2 0h2m1 0h2m6 0h1m2 0h1m3 0h1m2 0h2m13 0h4m1 0h1m6 0h1m6 0h1m6 0h1m1 0h2m1 0h1M17 11h2m7 0h1m1 0h1m15 0h2m5 0h1m7 0h1m2 0h1m9 0h2m9 0h1M5 12h1m1 0h1m27 0h1m19 0h1m2 0h1m10 0h1m5 0h1M42 13h1m6 0h1m14 0h1M2 14h1m17 0h1m4 0h1m19 0h1m31 0h2m3 0h1M25 15h1m7 0h1m4 0h1m4 0h1M5 16h1m33 0h1m6 0h1m2 0h1M0 17h1m18 0h1m2 0h1m4 0h1m24 0h1m6 0h1m18 0h1M8 18h1m4 0h1m16 0h1m1 0h2m8 0h1m5 0h1m6 0h1m6 0h2M18 19h1m5 0h1m1 0h1m10 0h1m24 0h1m12 0h1m1 0h1M2 20h2m3 0h1m15 0h1m3 0h1m6 0h1m29 0h1m2 0h1m8 0h1M11 21h2m5 0h1m4 0h1m2 0h1m6 0h1m29 0h1m4 0h1m10 0h1M8 22h1m3 0h1m10 0h1m38 0h1M20 23h2m12 0h1m25 0h1m5 0h1m4 0h1M21 24h1m6 0h1m10 0h2m39 0h2M4 25h1m14 0h1m16 0h1m13 0h1m15 0h1m4 0h1m2 0h1M0 26h1m1 0h1m15 0h1m1 0h1m5 0h1m1 0h1m1 0h1m1 0h1m4 0h1m3 0h1m3 0h1m4 0h1m1 0h1m5 0h1m4 0h1m5 0h1m2 0h1m5 0h1m3 0h1M30 27h1m5 0h1m3 0h2m13 0h1m9 0h1M8 28h1m1 0h2m3 0h1m21 0h1m2 0h2m2 0h1m2 0h2m1 0h1m2 0h1m8 0h1M6 29h1m22 0h1m3 0h2m6 0h1m19 0h1m8 0h1m4 0h2m1 0h1M15 30h1m29 0h1m10 0h2m3 0h1m1 0h2m9 0h1M20 31h1m11 0h1m13 0h1M1 32h1m13 0h1m17 0h1m1 0h1m4 0h2m3 0h1m10 0h1m4 0h1m12 0h1m1 0h1M4 33h1m6 0h1m2 0h1m10 0h1m21 0h1m9 0h2m16 0h1M6 34h1m2 0h1m3 0h2m1 0h1m59 0h1M40 35h1m1 0h1m5 0h1m2 0h1m4 0h1m20 0h1m3 0h1M0 36h1m11 0h1m4 0h1m13 0h1m5 0h1m23 0h1m14 0h1m1 0h1m2 0h1M32 37h1m8 0h1m2 0h1m12 0h2m6 0h2m8 0h1M0 38h1m19 0h1m27 0h1m7 0h1m10 0h1M0 39h1m7 0h1m29 0h1m11 0h1m5 0h1m3 0h3"/>
<path stroke="#ebeb00" d="M49 0h1m2 0h1m11 0h1m11 0h1M14 1h1m5 0h1m10 0h1m15 0h1m11 0h1m6 0h1M1 2h2m16 0h1m36 0h1m9 0h1M1 3h1m8 0h1m17 0h1m7 0h1m2 0h1M4 4h1m16 0h1m3 0h1m24 0h2m6 0h1m8 0h1M19 5h1m4 0h1m41 0h1m13 0h1M1 6h1m3 0h2m7 0h1m4 0h2m17 0h1m2 0h1m3 0h2m8 0h1m10 0h1m5 0h1M52 7h1M63 8h1M0 9h1m5 0h1m2 0h1m12 0h1m3 0h1m14 0h1m7 0h1m9 0h1m9 0h1m3 0h1m4 0h1M2 10h1m3 0h1m5 0h1m11 0h1m2 0h1m17 0h1m13 0h1m6 0h1m13 0h1M9 11h1m28 0h1m4 0h1m2 0h1m8 0h1m4 0h1m2 0h1m1 0h2m7 0h1M1 12h1m29 0h1m5 0h2m10 0h1m14 0h1m5 0h1M2 13h2m2 0h1m17 0h1m10 0h1m3 0h1m15 0h1m18 0h1m3 0h1M10 14h1m4 0h1m13 0h1m8 0h1m7 0h1m19 0h1m3 0h2M31 15h1M40 17h1m25 0h1m9 0h1M5 18h1m44 0h1m1 0h1m3 0h1m12 0h1M0 19h1m8 0h1m31 0h1m5 0h1m1 0h1m5 0h1m24 0h1M6 20h1m2 0h1m39 0h1m24 0h1m5 0h1M37 21h1m14 0h1m2 0h1m19 0h2M5 22h1m45 0h1m19 0h1M5 23h2m30 0h1m11 0h1M4 24h1m1 0h1m37 0h1m1 0h1m22 0h1M7 25h1m1 0h2m32 0h1m2 0h1m15 0h1M19 26h1m1 0h1m1 0h1m5 0h1m6 0h1m12 0h1m3 0h1m8 0h1m7 0h1m4 0h2M37 27h1m8 0h2m14 0h1m19 0h1M19 28h1m29 0h1m30 0h1M11 29h1m2 0h1m23 0h1m11 0h1m4 0h1m9 0h1m14 0h1M4 30h1m42 0h1M42 31h1m8 0h1m28 0h1M5 32h1m12 0h1m3 0h1m19 0h1m4 0h1m2 0h1m1 0h1m9 0h2m2 0h1m4 0h1m1 0h1m6 0h1M20 33h1m29 0h1M74 34h1M0 35h1m9 0h1m50 0h1m3 0h1M8 36h1m23 0h1m20 0h1M10 37h1m15 0h1m19 0h1m2 0h1m32 0h1M37 38h1m21 0h1m9 0h1m9 0h1m1 0h2M6 39h1m18 0h1m3 0h1m19 0h1m16 0h1"/>
</g></g></g>
<clipPath id="hc1"><rect x="751" y="648.6" width="254.1" height="711.7"/></clipPath>
<g clip-path="url(#hc1)"><g filter="url(#hb)">
<rect x="747" y="644.6" width="262.1" height="719.7" fill="#8d8d00"/>
<g transform="translate(751 657.5) scale(2.9894 17.7925)" fill="none" stroke-width="1.02">
<path stroke="#a900bc" d="M72 1h1M44 8h1m9 0h1m2 0h1M36 10h1m28 0h1m17 0h1M44 11h1M22 12h1M15 14h1m57 0h1M17 15h1m8 0h1m17 0h1m39 0h1M56 16h1M3 19h1m42 0h1m6 0h1M14 20h1M77 21h1M17 22h1m57 0h1M71 23h1M9 24h1m68 0h1M23 25h1m2 0h1m37 0h1M65 26h1M42 27h1M61 28h1M10 29h1m5 0h1M47 31h1M2 32h1m65 0h1M29 33h1m46 0h1M6 36h1m2 0h1m38 0h1m25 0h1M30 37h1m25 0h1M74 38h1"/>
<path stroke="#9300a4" d="M0 5h1M73 7h1M46 9h1M13 10h1m31 0h1M28 11h1M38 12h1M8 13h1m44 0h1M31 14h1m9 0h1M27 15h1M2 16h1m48 0h1m9 0h1m13 0h1M37 17h1M8 19h1m52 0h1m10 0h1M46 20h1M19 22h1m14 0h1m11 0h1M37 23h1m37 0h1m1 0h1M1 24h1m32 0h1M8 25h1m20 0h1M18 26h1m6 0h1M4 27h1m60 0h1M83 28h1M13 29h1m33 0h1m14 0h1M13 30h1m7 0h1m28 0h1M2 31h1m2 0h1m19 0h1m9 0h1M16 32h1M35 33h1m19 0h1M8 34h1M16 35h1m2 0h1m17 0h1m39 0h1M10 36h1m11 0h1m7 0h1M3 37h1m32 0h1m30 0h1M18 38h1m23 0h1m6 0h1m13 0h2m11 0h1M17 39h1m47 0h1"/>
<path stroke="#7e008d" d="M72 6h1M6 8h1M43 10h1m33 0h1M12 11h1M69 12h1M25 13h1M48 14h1m10 0h1M38 15h1m6 0h1M7 16h1m17 0h1M55 17h1M8 18h1M18 19h1m55 0h1M16 20h1m13 0h1m42 0h1M38 21h1M42 23h1M41 24h1M6 25h1m68 0h1M43 26h1m26 0h1m6 0h1M55 27h1M22 28h1m15 0h1M8 29h1m13 0h1M22 30h1m5 0h1m19 0h1M54 31h1M25 33h1M19 34h1M68 35h1M42 36h1m20 0h1M24 37h1m7 0h1m18 0h1m2 0h1M22 39h2m36 0h1m13 0h2m6 0h1"/>
<path stroke="#6a0076" d="M84 4h1M83 5h1M11 8h1M24 10h1M79 12h1M46 15h1m17 0h1m16 0h1M6 16h1m32 0h1m36 0h1M23 17h1M7 19h1m71 0h1M10 20h1m55 0h1M21 21h1m53 0h1M18 22h1M41 23h1m19 0h1m8 0h1M30 24h1M9 25h1m48 0h1m1 0h1M14 26h1m24 0h1m18 0h1M61 27h1M45 28h1m3 0h1m3 0h1m3 0h1m11 0h1m3 0h1m10 0h1M14 29h1m66 0h1M38 31h1m38 0h1m1 0h1M8 32h1m47 0h1M14 33h1M10 34h1M28 35h1m40 0h1M3 36h1m13 0h1m14 0h1m17 0h1M11 37h1m40 0h1m8 0h1M14 38h1m43 0h1M11 39h1"/>
<path stroke="#54005e" d="M53 3h1M52 8h1m21 0h1M63 10h1M36 11h1M33 13h1m14 0h1m8 0h1M33 15h1m43 0h1M40 16h2M60 17h1m2 0h1M9 18h1M9 19h1m32 0h1M9 22h1m21 0h1m9 0h2m16 0h1m24 0h1M9 23h1M56 24h1M6 26h1m23 0h1m7 0h1m41 0h1M29 28h1m17 0h1m12 0h1M2 29h1m12 0h1m13 0h1m31 0h1m1 0h1m4 0h1M55 30h1m24 0h1M28 31h1m34 0h1M40 32h1m21 0h1m14 0h1M10 33h1m17 0h1M48 34h1M21 35h1m19 0h1m13 0h1m23 0h1M69 36h1M26 38h1m33 0h1m8 0h1"/>
<path stroke="#3f0046" d="M46 6h1M21 7h1M42 9h1M53 12h1M78 14h1M30 16h1M72 17h1M27 19h1m34 0h1m21 0h1M22 20h1m41 0h1M8 22h1m62 0h1M21 23h1M59 24h1M13 25h1m16 0h1m41 0h1M23 26h1m44 0h1m10 0h1M4 28h1m1 0h1m33 0h1m38 0h1M75 32h1M80 33h1M59 34h1m12 0h1M35 35h1M20 38h1M12 39h1"/>
<path stroke="#2a002f" d="M65 16h1M76 19h1M78 22h1M0 23h1M1 28h1M70 30h1M0 35h1M65 37h1M45 38h1"/>
<path stroke="#150018" d="M19 4h1M34 8h1m12 0h1m23 0h1M35 13h1M12 15h1M20 16h1m5 0h1m50 0h1m6 0h1M54 18h1m20 0h2M31 19h1M23 21h1m33 0h1M3 22h1m18 0h1m6 0h1M43 23h1m12 0h1m8 0h1m1 0h1M26 24h1m27 0h1M83 25h1M74 26h1M31 27h1M41 28h1M53 31h1m5 0h1M69 33h1m13 0h1M40 34h1M28 36h1m12 0h1M6 38h1m68 0h1m2 0h1M73 39h1"/>
<path stroke="#000000" d="M65 0h1M47 2h1M36 3h1M33 4h1M4 5h1m3 0h1m16 0h1m42 0h1M11 6h1M84 7h1M1 8h2m6 0h1m27 0h1m8 0h1m22 0h1m11 0h1M4 9h1m21 0h2m31 0h1M1 10h1M24 11h1m2 0h1m6 0h1m17 0h1m18 0h1M20 12h1M9 13h1m2 0h1m30 0h1m12 0h1M0 15h1m34 0h1m24 0h1M8 16h1m10 0h1m26 0h1M13 17h1m22 0h1m11 0h1m9 0h1m18 0h1M11 19h1m7 0h1m5 0h1M7 20h1m39 0h1m5 0h1m25 0h1M16 21h1m46 0h1M13 22h1m18 0h1m30 0h1M22 23h1m55 0h1M10 24h1m42 0h1M20 25h1m17 0h1m2 0h1m1 0h1m26 0h1m7 0h1m5 0h1M16 26h1m2 0h1m40 0h1m2 0h1m19 0h1M2 27h1m14 0h1m32 0h1M9 28h1M12 29h1m5 0h1m19 0h1m14 0h1M16 30h1m45 0h1m10 0h1M7 31h1m35 0h1m24 0h1m3 0h1M12 32h2m5 0h1m13 0h1m1 0h1m10 0h1m1 0h1m17 0h1M16 33h2m3 0h1m59 0h1M23 34h1m9 0h1m12 0h1m5 0h1m12 0h1m1 0h1m10 0h1M13 35h1m17 0h1m28 0h1M35 36h1m4 0h1m10 0h1m8 0h1M26 37h1m20 0h1m5 0h1m3 0h1M9 38h1m23 0h1m3 0h1m3 0h1m1 0h1m10 0h1m28 0h1M6 39h1m3 0h1m4 0h1m24 0h1m10 0h1m9 0h1m15 0h1"/>
<path stroke="#181800" d="M9 0h1m41 0h1M60 1h1M9 2h1m41 0h1m7 0h1M41 3h1M52 4h1M1 5h1M25 6h1m4 0h1m21 0h1M12 7h1m14 0h1m7 0h1M4 8h1m15 0h1m6 0h1m12 0h1M62 9h1m7 0h1M2 10h1m37 0h1m6 0h1m13 0h2M25 11h1m44 0h1m7 0h1M0 12h1m12 0h1m23 0h1m2 0h1m5 0h1m18 0h1M0 13h1m37 0h1m44 0h1M8 14h1m10 0h1m13 0h1m1 0h1M18 15h1m22 0h1m10 0h2m3 0h1m16 0h1M5 16h1m25 0h1m2 0h1m10 0h1m14 0h1M19 17h1m8 0h2m5 0h1m3 0h2m28 0h1m4 0h1M24 18h1m6 0h2m2 0h2m26 0h1m15 0h1M6 19h1m53 0h1M5 20h1m2 0h1m26 0h1m2 0h1m2 0h1m3 0h1m21 0h1m1 0h1m8 0h1m4 0h1M20 21h1m20 0h2m40 0h1M15 22h2m23 0h1m9 0h1m19 0h1m3 0h1m1 0h1M15 23h1m2 0h1m9 0h1m6 0h1m3 0h1m15 0h1m3 0h1m20 0h2M11 24h1m2 0h1m66 0h1m2 0h1M35 25h1m11 0h1m4 0h1m9 0h1m18 0h1M4 26h1m30 0h1m15 0h1M0 27h1m7 0h1m2 0h1m4 0h1m8 0h1m1 0h1m1 0h1m3 0h1m13 0h1m3 0h1m1 0h1m9 0h1m17 0h1m2 0h1M21 28h1m24 0h1m5 0h1m18 0h1M0 29h1m10 0h1m14 0h1m15 0h2m2 0h1m5 0h1m11 0h1m4 0h1M2 30h2m34 0h1M39 31h1m11 0h1m9 0h1m3 0h1M20 32h1m9 0h1m18 0h1m9 0h1m1 0h1m10 0h2M8 33h1m6 0h1m17 0h1m16 0h1m10 0h1m10 0h1M1 34h1m2 0h1m4 0h1m3 0h1m1 0h1m29 0h1m4 0h1m2 0h1m12 0h1m13 0h1M7 35h1m3 0h1m11 0h1m26 0h1m3 0h1m6 0h1m1 0h1m10 0h1M36 36h1m6 0h1m9 0h1m7 0h1m3 0h1m5 0h1m5 0h1m6 0h1M7 37h1m1 0h1m7 0h1m17 0h1m34 0h1m13 0h1M19 38h1m26 0h1m6 0h1M45 39h1m3 0h1m21 0h1"/>
<path stroke="#2f2f00" d="M63 0h1m14 0h1m5 0h1M46 1h1m8 0h1m3 0h1m3 0h1M20 2h1m25 0h1m34 0h1M8 3h1m7 0h1m4 0h1m42 0h3m14 0h1M59 5h1M12 6h1m6 0h1m49 0h1M6 7h1m12 0h1m13 0h1m8 0h1m3 0h1m3 0h1m14 0h1M16 8h1m2 0h1m3 0h1m4 0h1m30 0h1m18 0h1M37 9h1m2 0h1m8 0h1M0 10h1m8 0h1m2 0h1m6 0h1m1 0h1m32 0h1m18 0h1m7 0h1m2 0h1M0 11h1m30 0h2m47 0h1M66 12h1m10 0h1m6 0h1M2 13h2m7 0h1m28 0h1m40 0h1M10 14h1m5 0h1m46 0h1M13 15h1m22 0h1m46 0h1M0 16h1m10 0h1m2 0h1m1 0h2m34 0h2m3 0h1m12 0h2m1 0h1m9 0h1M8 17h1m1 0h1m19 0h2m34 0h2m8 0h1m3 0h1M6 18h1m3 0h1m11 0h1m2 0h1m43 0h1m3 0h1m3 0h1m4 0h1M2 19h1m11 0h2m19 0h1m3 0h1m12 0h1m6 0h1m11 0h1M2 20h1m9 0h1m12 0h1m1 0h1m6 0h1m1 0h1m5 0h1m15 0h1m4 0h1m17 0h1M0 21h1m1 0h1m2 0h1m29 0h1m14 0h1m7 0h2M0 22h1m6 0h1m44 0h2M13 23h1m13 0h1m18 0h1m10 0h1M16 24h1m27 0h1m20 0h1M2 25h1m7 0h1m4 0h1m39 0h1m10 0h1m13 0h1M41 26h1M14 27h2m5 0h1m18 0h1m4 0h1m29 0h2M35 28h1m6 0h1m22 0h1m6 0h1M55 29h1m1 0h1M0 30h1m5 0h1m25 0h1m25 0h1m22 0h1M8 31h1m6 0h1m13 0h1m1 0h1m1 0h1m18 0h1m3 0h1m12 0h1M7 32h1m18 0h1m15 0h1m1 0h1m7 0h1m7 0h1m4 0h1m17 0h1M13 33h1m39 0h1m5 0h1m18 0h1m5 0h1M0 34h1m30 0h1m11 0h1m11 0h1m15 0h1m4 0h1M5 35h1m2 0h1m6 0h1M8 36h1m20 0h1m32 0h1m5 0h1m14 0h1M31 37h1m16 0h1m13 0h1M15 38h1m6 0h1m13 0h1m1 0h1m5 0h1m16 0h1m3 0h1M7 39h1m1 0h1m8 0h1m8 0h1m10 0h1m8 0h1m6 0h1m29 0h1"/>
<path stroke="#464600" d="M29 0h1m31 0h1m2 0h1m16 0h1M2 1h1m5 0h1m6 0h1m20 0h1m13 0h1m2 0h1m2 0h1m12 0h1m3 0h2m6 0h1M14 2h3m28 0h1m22 0h1m15 0h1M1 3h2m14 0h1m1 0h1m7 0h1m34 0h1M1 4h1m4 0h1m8 0h1m24 0h1m25 0h1m5 0h1m6 0h1M15 5h1m3 0h1m2 0h1m27 0h1M8 6h1m5 0h1m21 0h1m14 0h1m31 0h2M8 7h1m5 0h1m23 0h1m6 0h1m8 0h1m11 0h2M8 8h1m3 0h1m12 0h1m7 0h1m27 0h1m8 0h1m11 0h1M16 9h1m26 0h1m28 0h1M4 10h1m29 0h2m44 0h1M4 11h1m9 0h1m52 0h1m6 0h1M16 12h1m35 0h1m2 0h1m7 0h1m14 0h1M15 13h1m14 0h1m1 0h1m32 0h1m4 0h1m2 0h1m3 0h2M0 14h1m2 0h1m5 0h1m1 0h1m12 0h1m9 0h1m1 0h1m27 0h1M15 15h1m24 0h1m15 0h1m10 0h1M10 16h1m1 0h1m2 0h1m12 0h1m6 0h1m13 0h1m19 0h1M4 17h1m2 0h1m14 0h1m20 0h2m11 0h1m5 0h1m8 0h1m12 0h1M27 18h1m1 0h1m4 0h1m5 0h1m18 0h1m12 0h1m8 0h1m2 0h1M12 19h1m11 0h1m1 0h1m9 0h2m5 0h1m1 0h1m31 0h2M3 20h1m36 0h1m2 0h1m10 0h1m10 0h1m6 0h1m9 0h1M8 21h1m5 0h1m14 0h1m23 0h1m12 0h1m2 0h1m3 0h1m7 0h1M11 22h1m13 0h2m10 0h1m1 0h1m7 0h1m6 0h1m9 0h2m1 0h2m4 0h1m3 0h1m2 0h1m2 0h1M7 23h1m17 0h1m27 0h1M22 24h1m2 0h1m9 0h1m15 0h1m11 0h1m2 0h1m3 0h1m5 0h1M0 25h1m10 0h1m25 0h1m10 0h1m1 0h1m3 0h1m8 0h1m3 0h1m1 0h1m3 0h1m2 0h1M5 26h1m22 0h1m30 0h1M32 27h1m33 0h1M32 28h1m37 0h1m7 0h1M56 29h1m20 0h1m5 0h1M4 30h1m3 0h1m6 0h1m3 0h1m7 0h1m5 0h1m23 0h1m5 0h1m2 0h1m8 0h1m6 0h1m1 0h1M19 31h1m6 0h1m13 0h1m26 0h1m3 0h1m11 0h2M36 32h1m6 0h1m34 0h1M6 33h1m11 0h1m12 0h1m4 0h1m6 0h1m3 0h1m9 0h1m7 0h1m1 0h1m14 0h1M32 34h1m11 0h1m23 0h1m8 0h1M1 35h1m8 0h1m6 0h1m11 0h1m14 0h1m22 0h1m8 0h1m5 0h1M20 36h1m12 0h1m10 0h4m19 0h1m14 0h1M13 37h1m24 0h1m29 0h1m4 0h1M3 38h2m7 0h1m3 0h1m6 0h1m1 0h1m5 0h2m7 0h1m10 0h1m4 0h1m15 0h1m8 0h1M2 39h1m1 0h1m19 0h1m44 0h1m13 0h1"/>
<path stroke="#5e5e00" d="M12 0h1m3 0h1m3 0h1m2 0h1m46 0h1m9 0h1m1 0h1M0 1h1m24 0h1m1 0h1m15 0h1m8 0h1m8 0h1m8 0h1m9 0h1M42 2h1m27 0h1M0 3h1m8 0h1m5 0h1m24 0h1m7 0h1m7 0h1m18 0h1M0 4h1m8 0h1m1 0h1m4 0h1m3 0h1m6 0h1m1 0h2m7 0h1m20 0h1m22 0h1M9 5h1m1 0h1m9 0h1m7 0h1m26 0h1m7 0h1m2 0h1m16 0h1M0 6h2m14 0h1m23 0h1m21 0h1m3 0h1m3 0h1M16 7h1m8 0h1m8 0h1m1 0h1m2 0h1m7 0h1m5 0h1m7 0h1m2 0h1m3 0h1m9 0h1M0 8h1m23 0h1m1 0h1m3 0h1m5 0h1m1 0h1m2 0h1m9 0h1m10 0h2m1 0h1m11 0h1m2 0h1m2 0h2M8 9h1m3 0h1m2 0h1m53 0h1m1 0h1m6 0h1M14 10h1m12 0h1m4 0h1m38 0h1M13 11h1m1 0h1m48 0h2m6 0h1m8 0h1M3 12h2m3 0h1m61 0h1m1 0h1M42 13h1m4 0h1m2 0h1m3 0h1m7 0h3M7 14h1m4 0h1m30 0h1m11 0h1m5 0h1m8 0h2M2 15h1m6 0h1m1 0h1m13 0h1m21 0h1m2 0h1m3 0h1m8 0h1m1 0h1m6 0h2m1 0h1m6 0h1M24 16h1m4 0h1m3 0h1m13 0h1m14 0h1m17 0h1M14 17h1m10 0h3m51 0h1M2 18h1m9 0h2m12 0h1m3 0h1m12 0h1m7 0h1m4 0h1m1 0h1M16 19h1m52 0h2m2 0h1m1 0h1m5 0h1M15 20h1m4 0h1m3 0h1m27 0h1m7 0h1m7 0h1m11 0h1m3 0h1M1 21h1m2 0h1m2 0h1m14 0h1m9 0h1m21 0h1m6 0h1m3 0h1m12 0h1M43 22h1m7 0h1m14 0h1M2 23h1m13 0h1m65 0h3M8 24h1m20 0h1m17 0h1m1 0h1m17 0h1m14 0h1M16 25h1m1 0h2m8 0h1m3 0h1m3 0h1m5 0h1m14 0h1M7 26h1m5 0h1m6 0h2m62 0h1M1 27h1m7 0h1m3 0h1m5 0h1m4 0h1m10 0h1m2 0h1m7 0h1m21 0h1m9 0h1M2 28h1m8 0h1m2 0h1m9 0h1m1 0h1m7 0h1m1 0h1m37 0h1M20 29h1m13 0h1m13 0h1m9 0h1M9 30h1m4 0h1m15 0h1m12 0h1m21 0h1m3 0h1m7 0h1M0 31h1m19 0h1m23 0h1m5 0h1m11 0h1m18 0h1M0 32h1m9 0h1m4 0h1m39 0h1m11 0h1m14 0h1M0 33h1m1 0h3m14 0h1m6 0h1m19 0h1m5 0h1m1 0h1m9 0h1m10 0h1m1 0h1M12 34h1m68 0h1m1 0h1M6 35h1m5 0h1m5 0h1m21 0h1m6 0h1m11 0h1m5 0h1m14 0h1M0 36h1m10 0h1m2 0h1m1 0h1m6 0h1m1 0h1m13 0h1m14 0h1m18 0h1m1 0h1M0 37h1m7 0h1m14 0h1m15 0h1m6 0h1m27 0h1M2 38h1m10 0h1m70 0h1M13 39h2m14 0h1m20 0h1m5 0h1m6 0h1"/>
<path stroke="#767600" d="M5 0h1m1 0h2m1 0h1m4 0h1m1 0h1m7 0h2m14 0h1m14 0h1m5 0h1m12 0h2M14 1h1m1 0h1m2 0h1m11 0h1m2 0h1m6 0h1m9 0h1m2 0h1m16 0h1m5 0h1m4 0h3M12 2h1m9 0h1m7 0h1m2 0h1m1 0h1m47 0h1M11 3h2m13 0h1m7 0h1m9 0h1m24 0h3m5 0h1M10 4h1m11 0h1m11 0h2m12 0h1m9 0h1m11 0h1M13 5h1m22 0h2m2 0h1m8 0h1m4 0h1m5 0h3m11 0h1m4 0h1m2 0h1M7 6h1m1 0h1m7 0h1m5 0h1m5 0h1m3 0h1m3 0h1m18 0h1m7 0h1m2 0h1M9 7h1m5 0h1m1 0h1m4 0h1m6 0h1m13 0h1m7 0h1m3 0h1m16 0h1m1 0h2m5 0h1M13 8h1m4 0h1m2 0h2m30 0h1m1 0h1m12 0h1M0 9h1m10 0h1m7 0h1m1 0h1m9 0h1m3 0h1m9 0h1m9 0h1m9 0h1m7 0h1m2 0h1m4 0h1M5 10h1m1 0h1m9 0h1m11 0h1m3 0h1m7 0h1m8 0h1m8 0h1m6 0h1m5 0h1m5 0h1M2 11h2m4 0h1m21 0h1m10 0h1m9 0h1m8 0h1m7 0h2m12 0h1M6 12h1m7 0h1m4 0h1m6 0h2m5 0h1m2 0h1m2 0h1m7 0h1m8 0h1m1 0h1m16 0h2m5 0h1M4 13h1m2 0h1m2 0h1m2 0h2m1 0h2m4 0h1m3 0h1m14 0h1m9 0h1m3 0h1m3 0h2m14 0h1M4 14h1m9 0h1m7 0h1m15 0h1m26 0h3m7 0h1m7 0h2M14 15h1m1 0h1m3 0h1m11 0h1m1 0h1m8 0h1m22 0h1m3 0h2m4 0h1M1 16h1m20 0h2m3 0h1m4 0h1m17 0h1m23 0h1m3 0h1M3 17h1m5 0h1m2 0h1m5 0h1m22 0h2m6 0h2m22 0h1M15 18h1m17 0h1m12 0h1m17 0h2m5 0h1m6 0h1M0 19h2m19 0h2m7 0h1m7 0h1m1 0h2m2 0h1m2 0h1m17 0h1M4 20h1m4 0h1m1 0h1m16 0h1m3 0h1m23 0h1m13 0h1M12 21h1m2 0h1m8 0h1m5 0h1m15 0h2m16 0h1m6 0h1m4 0h1m3 0h1m3 0h1M6 22h1m7 0h1m9 0h1m23 0h1m11 0h3m9 0h1m8 0h1M1 23h1m28 0h1m3 0h1m15 0h1m11 0h1m10 0h1M12 24h1m11 0h1m3 0h1m2 0h1m29 0h1m2 0h1m4 0h1m7 0h1M5 25h1m16 0h1m16 0h2m3 0h1m11 0h1M0 26h1m1 0h1m39 0h1m11 0h1m20 0h1M5 27h1m22 0h1m48 0h1m2 0h1m1 0h1M0 28h1m4 0h1m10 0h1m2 0h2m12 0h1m14 0h1m9 0h1m16 0h1m5 0h2M7 29h1m1 0h1m14 0h1m3 0h1m7 0h1m7 0h1m20 0h1m1 0h1m3 0h1m12 0h1M1 30h1m3 0h1m6 0h1m22 0h1m5 0h1m4 0h1m6 0h1m2 0h1m11 0h1m3 0h1m3 0h1M1 31h1m7 0h1m1 0h1m2 0h1m7 0h2m12 0h2m26 0h1m1 0h1m6 0h1M1 32h1m12 0h1m9 0h1m28 0h1m10 0h1M9 33h1m2 0h1m10 0h1m3 0h1m4 0h1m7 0h2m2 0h1m6 0h1m14 0h1M3 34h1m2 0h1m7 0h1m5 0h1m15 0h1m1 0h1m3 0h1m6 0h1m7 0h1m3 0h2M3 35h2m4 0h1m4 0h1m10 0h1m6 0h1m1 0h1m7 0h1m8 0h1m21 0h1m1 0h1M1 36h1m13 0h1m18 0h1m2 0h1m18 0h1m7 0h1m5 0h1M4 37h1m1 0h1m9 0h1m8 0h1m1 0h1m16 0h1m13 0h1m12 0h2m4 0h1m3 0h1m1 0h1M7 38h1m22 0h1m19 0h1m1 0h1m4 0h1m1 0h1M0 39h2m1 0h1m4 0h1m16 0h2m1 0h1m1 0h1m1 0h1m11 0h1m22 0h1m10 0h1"/>
<path stroke="#a4a400" d="M13 0h1m4 0h1m15 0h1m5 0h1m16 0h1m15 0h2M3 1h1m43 0h1m17 0h1m1 0h1M17 2h2m6 0h1m12 0h2m1 0h1m20 0h2m1 0h3m3 0h2m2 0h1M3 3h2m5 0h1m11 0h1m6 0h1m2 0h2m3 0h1m7 0h2m26 0h1m8 0h1M2 4h1m2 0h1m7 0h1m9 0h1m2 0h1m42 0h1m7 0h1m2 0h2m1 0h1M3 5h1m1 0h1m8 0h1m8 0h2m7 0h1m1 0h2m12 0h1m8 0h1m12 0h1m2 0h1m1 0h1M10 6h1m20 0h1m10 0h1m11 0h1m8 0h1m4 0h1m6 0h2m1 0h1M11 7h1m6 0h1m5 0h1m19 0h1m11 0h1m12 0h1m1 0h1m7 0h2M10 8h1m18 0h1m5 0h1m22 0h1m7 0h1M7 9h1m16 0h1m7 0h1m8 0h1m8 0h1m1 0h1m10 0h2m1 0h1m10 0h1m2 0h1m2 0h1M3 10h1m35 0h1m17 0h1m17 0h1M5 11h1m13 0h1m3 0h1m9 0h1m12 0h1m30 0h1m5 0h1M15 12h1m2 0h1m2 0h1m2 0h1m6 0h1m12 0h2m8 0h1m7 0h1m1 0h1m3 0h1m4 0h1m7 0h1M1 13h1m16 0h2m16 0h1m30 0h1m1 0h1m1 0h1M23 14h1m15 0h1m4 0h2m26 0h1m6 0h3M7 15h2m13 0h1m26 0h1m12 0h1m16 0h1M36 16h1m17 0h1m4 0h1m6 0h1M0 17h1m4 0h1m10 0h1m16 0h1M1 18h1m12 0h1m27 0h1m10 0h1m8 0h1m7 0h1m9 0h1M23 19h1m33 0h1m6 0h1M6 20h1m6 0h1m4 0h1m20 0h1m10 0h1m10 0h2m14 0h1M17 21h2m18 0h1m13 0h1m3 0h2m5 0h1m4 0h1m2 0h1m8 0h1M28 22h1m4 0h1m1 0h1M3 23h1m7 0h1m2 0h1m8 0h1m20 0h1m18 0h1m5 0h1m9 0h1M5 24h1m17 0h1m13 0h2m3 0h1m2 0h1M3 25h1m20 0h2m5 0h1m1 0h1m11 0h1m7 0h1m14 0h1m8 0h1M1 26h1m8 0h1m4 0h1m17 0h1m37 0h1m6 0h1M10 27h1m43 0h1m17 0h2M23 28h1m6 0h1m8 0h1m11 0h1m2 0h1m12 0h1M39 29h1m1 0h1m7 0h1M7 30h1m32 0h1m1 0h1m2 0h1m5 0h1m22 0h1m8 0h1M16 31h2m6 0h1m2 0h1m6 0h1m7 0h1m15 0h1m23 0h1M22 32h2m8 0h1m48 0h1M1 33h1m36 0h1m6 0h1m22 0h1m2 0h1m1 0h1M2 34h1m38 0h1m9 0h1M20 35h1m5 0h2m2 0h1m7 0h1m4 0h1m1 0h1m10 0h1m13 0h3M13 36h1m10 0h1m1 0h1m11 0h1m13 0h1m4 0h2m13 0h1M1 37h2m17 0h1m16 0h1m5 0h1m19 0h1m5 0h1M5 38h1m4 0h1m18 0h1m5 0h1m30 0h1m13 0h1m1 0h1M34 39h2m5 0h1m10 0h1m15 0h1m7 0h1"/>
<path stroke="#bcbc00" d="M0 0h2m1 0h1m15 0h1m4 0h1m3 0h1m1 0h1m2 0h1m25 0h1m11 0h1M13 1h1m7 0h1m6 0h1m1 0h1m1 0h1m4 0h1m2 0h1m8 0h1m25 0h1m2 0h1M5 2h1m1 0h1m3 0h1m1 0h1m5 0h1m49 0h1m6 0h2M5 3h2m23 0h1m4 0h1m14 0h1m3 0h1m2 0h1m2 0h2m5 0h1M25 4h1m5 0h1m5 0h1m1 0h1m7 0h1m1 0h3m4 0h1m7 0h1m2 0h1m5 0h1M12 5h1m4 0h2m11 0h1m2 0h1m7 0h1m3 0h1m6 0h1m10 0h1m1 0h2m2 0h1M2 6h3m1 0h1m20 0h1m4 0h1m5 0h1m5 0h2m4 0h1m20 0h1m5 0h1M0 7h1m22 0h1m8 0h1m19 0h1m9 0h1m14 0h1M15 8h1m26 0h1m2 0h1m10 0h1M2 9h1m2 0h1m8 0h1m10 0h1m22 0h1m4 0h2m1 0h1m3 0h1m6 0h1m16 0h1M31 10h1m5 0h1m10 0h1m18 0h1m2 0h1M7 11h1m14 0h1m16 0h1m5 0h1m1 0h1m9 0h1m17 0h1M9 12h1m2 0h1m28 0h1m6 0h1M28 13h1m2 0h1m7 0h1m36 0h1m2 0h1m2 0h1M13 14h1m7 0h1m8 0h1m1 0h1m17 0h1m11 0h1m13 0h1M5 15h1m31 0h1m1 0h1M44 16h1M24 17h1m7 0h1m12 0h1m1 0h1m4 0h1m4 0h1M17 18h1m19 0h2m5 0h1m10 0h1m4 0h1m5 0h1m7 0h1m8 0h1M48 19h1m6 0h2m11 0h1m14 0h1M1 20h1m15 0h1m5 0h1m2 0h1m2 0h1m7 0h1m6 0h1m3 0h1m6 0h1m3 0h1m14 0h1M9 21h2m2 0h1m5 0h1m14 0h1m9 0h1m23 0h1m3 0h1m1 0h1M4 22h1m5 0h1m19 0h1m26 0h1M12 23h1m6 0h1m9 0h1m24 0h1m9 0h1m1 0h1m1 0h1m5 0h1m1 0h1M6 24h2m7 0h1m24 0h1m16 0h1m25 0h1M46 25h1m2 0h1m11 0h1M22 26h1m4 0h1m16 0h1M3 27h1m33 0h1m1 0h1m31 0h1M7 28h1m5 0h1m13 0h1m15 0h1m15 0h1m17 0h1m2 0h1M31 29h1m41 0h1m6 0h1M23 30h1m23 0h1m12 0h1m18 0h1M4 31h1m8 0h1m16 0h1m45 0h1m1 0h1M11 32h1m13 0h1m31 0h1m11 0h1m10 0h1M11 33h1m8 0h1m39 0h1M11 34h1m5 0h1m8 0h1m33 0h1m2 0h1m6 0h1m4 0h1M22 35h1m23 0h1m5 0h2m8 0h1m15 0h1m2 0h1m2 0h1M2 36h1m4 0h1m4 0h1m5 0h1m8 0h1m38 0h1m14 0h1M12 37h1m15 0h1m11 0h1m25 0h1m12 0h2M1 38h1m22 0h1m2 0h2m10 0h1m27 0h1M20 39h2m9 0h1m1 0h1m5 0h1m6 0h1m25 0h1m8 0h1"/>
<path stroke="#d4d400" d="M14 0h1m17 0h1m2 0h3m1 0h1m2 0h1m5 0h1m3 0h2m6 0h1m6 0h1m9 0h1m1 0h1M10 1h1m1 0h1m7 0h1m5 0h1m11 0h1m5 0h1m3 0h1m15 0h1m1 0h1M0 2h1m1 0h3m3 0h1m17 0h1m7 0h1m1 0h1m19 0h1m1 0h1m23 0h1M20 3h1m3 0h2m12 0h1m3 0h2m5 0h1m26 0h1m1 0h2m4 0h1M3 4h1m10 0h1m6 0h1m39 0h1m1 0h1m1 0h1m2 0h1m6 0h1m2 0h1M6 5h1m3 0h1m31 0h1m4 0h1m10 0h1m12 0h1m5 0h1m2 0h2M22 6h1m20 0h1m5 0h1m3 0h1m3 0h1m1 0h1m14 0h1m4 0h1m1 0h1M1 7h1m2 0h2m1 0h1m33 0h1m28 0h1M5 8h1m11 0h1m13 0h2m15 0h1m23 0h1M6 9h1m13 0h1m8 0h1m8 0h2m11 0h1m5 0h1m21 0h1m2 0h1M8 10h1m2 0h1m4 0h1m5 0h1m2 0h1m2 0h1m1 0h1m7 0h1m5 0h1m4 0h1m1 0h2m2 0h1m12 0h2m4 0h1M1 11h1m4 0h1m2 0h2m9 0h1m5 0h1m2 0h1m10 0h1m1 0h2m5 0h2m3 0h3m22 0h1m4 0h1M5 12h1m23 0h2m4 0h1m13 0h1m1 0h1m5 0h1m13 0h1m2 0h1M37 13h1m8 0h1m33 0h1M17 14h1m11 0h1m7 0h1m8 0h1m2 0h1m2 0h2m6 0h1m7 0h1m5 0h1M1 15h1m1 0h2m5 0h1m12 0h1m7 0h1m23 0h1m12 0h1M9 16h1m3 0h1m7 0h1m21 0h1m14 0h1m13 0h1m6 0h1M1 17h1m4 0h1m8 0h1m1 0h1m16 0h1m24 0h1m1 0h1m3 0h1m2 0h1m9 0h1m3 0h1M0 18h1m6 0h1m11 0h1m21 0h1m6 0h1m12 0h1m5 0h1M5 19h1m23 0h1m3 0h1m15 0h1m30 0h1m1 0h1M0 20h1m32 0h1M28 21h1m11 0h1m4 0h1M12 22h1m8 0h1m5 0h1m8 0h1m18 0h2m12 0h1m9 0h1M4 23h1m3 0h1m1 0h1m6 0h1m2 0h1m5 0h1m5 0h1m15 0h2m1 0h2M2 24h1m24 0h1m8 0h1m2 0h1m31 0h1m7 0h2M7 25h1m6 0h1m36 0h1m7 0h1m5 0h1m5 0h1m2 0h1m7 0h1M8 26h1m3 0h1m4 0h1m8 0h1m2 0h1m1 0h1m5 0h1m2 0h1m4 0h2m2 0h1m3 0h1m2 0h2m3 0h1m2 0h1m2 0h1m1 0h1m2 0h1m8 0h2M6 27h1m13 0h1m1 0h2m2 0h1m3 0h1m10 0h1m2 0h1m4 0h1m6 0h1m17 0h1M8 28h1m1 0h1m1 0h1m5 0h1m6 0h1m5 0h1m5 0h1m18 0h1m5 0h2M6 29h1m10 0h1m5 0h1m1 0h1m1 0h1m2 0h1m2 0h1m1 0h1m4 0h1m4 0h1m8 0h1m11 0h1m5 0h1m1 0h1m3 0h2M17 30h1m6 0h1m4 0h1m4 0h1m2 0h1m14 0h1m1 0h1m4 0h1m7 0h1m3 0h1M6 31h1m3 0h1m21 0h1m8 0h1m4 0h1m1 0h2m7 0h1m2 0h1m14 0h1M3 32h4m2 0h1m7 0h2m9 0h1m2 0h1m5 0h3m1 0h1m5 0h1m3 0h1m2 0h1m8 0h1m6 0h2m4 0h1M7 33h1m48 0h1m5 0h1M5 34h1m18 0h2m4 0h1m3 0h1m2 0h1m1 0h1m33 0h1M57 35h1m8 0h1M5 36h1m13 0h1m39 0h1M14 37h1m4 0h1m1 0h1m7 0h1m4 0h1m6 0h1m3 0h1m14 0h1m15 0h1M0 38h1m20 0h1m12 0h1m13 0h1m19 0h1m1 0h1M37 39h1m10 0h1m8 0h1m1 0h1m6 0h1"/>
<path stroke="#ebeb00" d="M2 0h1m1 0h1m6 0h1m9 0h1m9 0h1m6 0h1m6 0h1m3 0h1m4 0h2m12 0h1m14 0h1M5 1h3m9 0h2m20 0h1m5 0h1m11 0h2m9 0h1m7 0h1m2 0h1M1 2h1m19 0h1m2 0h1m3 0h1m2 0h2m4 0h1m5 0h1m4 0h2m2 0h1m1 0h2m4 0h1m3 0h1m8 0h1m4 0h2M13 3h1m14 0h1m18 0h1m7 0h1m2 0h1m9 0h1m11 0h1M18 4h1m5 0h1m3 0h1m7 0h1m9 0h1m7 0h2m1 0h1m2 0h1M7 5h1m8 0h1m11 0h1m15 0h1m1 0h1m4 0h1m3 0h1M18 6h1m7 0h1m1 0h1m10 0h1m8 0h1m9 0h1m2 0h1m20 0h1M3 7h1m6 0h1m17 0h1m8 0h1m11 0h1m13 0h1m12 0h1M39 8h1m3 0h1m6 0h1m22 0h1m2 0h1m2 0h1M18 9h1m9 0h1m1 0h1m2 0h1m2 0h1m21 0h1m9 0h1m5 0h1M10 10h1m4 0h1m2 0h1m1 0h1m2 0h1m18 0h1m3 0h1m9 0h1m1 0h1m17 0h1m2 0h1M17 11h2m2 0h1m13 0h1m2 0h1m19 0h1m3 0h1m3 0h1m6 0h1m2 0h1M11 12h1m11 0h1m4 0h1m3 0h1m1 0h1m24 0h2m6 0h1m15 0h1M5 13h2m16 0h1m5 0h1m4 0h1m23 0h1m7 0h1m5 0h1M1 14h1m16 0h1m6 0h1m1 0h2m13 0h1m8 0h1m6 0h1m23 0h1M6 15h1m14 0h1m6 0h2m12 0h1m8 0h1M42 16h1m21 0h1m16 0h1M2 17h1m17 0h1m43 0h1M16 18h1m6 0h1m21 0h1m1 0h1m9 0h1m10 0h1M13 19h1m20 0h1m19 0h1m3 0h1M21 20h1m9 0h1m44 0h1M11 21h1m15 0h1m3 0h1m11 0h1m38 0h1M1 22h1m21 0h1m14 0h1m6 0h1m12 0h1m23 0h1M5 23h1m32 0h1m1 0h1m17 0h1m1 0h1M13 24h1m7 0h1m11 0h1m9 0h1m2 0h1m3 0h1m7 0h1m1 0h1m11 0h1M21 25h1m12 0h1M9 26h1m1 0h1m35 0h1m4 0h1m9 0h1m3 0h1m6 0h1m2 0h1M48 27h1m8 0h4m18 0h1M3 28h1m13 0h1m26 0h1m5 0h1M1 29h1m1 0h1m15 0h1m1 0h1m29 0h1m7 0h2m14 0h2m5 0h1M20 30h1m10 0h1m7 0h1m9 0h1m14 0h1M3 31h1m14 0h1m2 0h1m52 0h1M27 32h1m1 0h1m20 0h1M48 33h1m9 0h1m4 0h1m10 0h1m4 0h1M7 34h1m8 0h1m62 0h1m4 0h1M36 35h1m2 0h1m18 0h1m5 0h1M49 36h1m28 0h2M5 37h1m12 0h1m3 0h1m10 0h1m25 0h1M11 38h1m5 0h1m37 0h1m6 0h1m16 0h1M5 39h1m30 0h1m5 0h2m11 0h1m6 0h1m1 0h1m5 0h1m8 0h1"/>
</g></g></g>
<clipPath id="hc2"><rect x="1010.5" y="648.6" width="73.2" height="711.7"/></clipPath>
<g clip-path="url(#hc2)"><g filter="url(#hb)">
<rect x="1006.5" y="644.6" width="81.2" height="719.7" fill="#3f0046"/>
<g transform="translate(1010.5 657.5) scale(3.05 17.7925)" fill="none" stroke-width="1.02">
<path stroke="#a900bc" d="M19 0h1M17 3h1M8 5h2M5 8h1m9 0h1m5 0h1M11 9h1m8 0h1M17 12h1m5 0h1M8 14h1m3 0h1M4 16h1m12 0h2m2 0h1M8 17h1m5 0h1m1 0h1M0 18h1m7 0h1m12 0h1M12 19h1M1 20h1m3 0h1M9 25h1m12 0h1M1 27h1m3 0h1M13 28h1M16 30h1M6 31h1m4 0h1m11 0h1M5 33h1M0 36h2m12 0h1M6 37h1m2 0h1m3 0h2M6 38h1m10 0h2m2 0h1M1 39h1m1 0h1m2 0h1"/>
<path stroke="#9300a4" d="M5 0h1m7 0h1M21 1h1M1 3h1M2 5h1M19 6h2M10 7h1m9 0h1M10 8h1m9 0h1M2 9h1m6 0h1m3 0h1M19 12h1M13 14h1M15 15h1M6 20h1m13 0h1M7 22h2m12 0h1m1 0h1M14 23h1M8 24h1M13 25h1M0 27h1m12 0h1M2 28h1M11 30h1m2 0h1m7 0h1M4 31h1M13 33h1M1 34h1m5 0h1m8 0h1M4 35h1m1 0h1M2 38h1m6 0h1m1 0h1M7 39h1m4 0h1"/>
<path stroke="#7e008d" d="M13 1h1M11 2h1M14 7h1M23 8h1M21 9h1M5 12h1m12 0h1M3 14h1M6 15h1m5 0h1M23 18h1M14 20h1M4 21h1m15 0h1M12 22h1m7 0h1M0 25h1M3 27h1m14 0h1M0 28h1M1 30h1M2 31h2m12 0h1m1 0h1M21 33h1M10 34h1m11 0h1M16 35h1M16 36h1M1 37h1m17 0h1m2 0h2M19 38h1M10 39h1"/>
<path stroke="#6a0076" d="M21 0h1M5 1h1M23 2h1M14 3h1M7 4h1M3 9h1M3 12h1M0 14h1m16 0h1M0 15h1m4 0h1m14 0h1M5 16h1m1 0h1M20 17h1M9 18h1m9 0h1M6 19h1M7 20h1m13 0h1M0 21h1m1 0h1m14 0h1M4 22h1M17 23h1M16 24h1M6 27h1M13 30h1M17 31h1M23 33h1M3 36h1m19 0h1M17 37h1M13 38h1m8 0h1"/>
<path stroke="#54005e" d="M12 0h1m4 0h1m2 0h1m2 0h1M7 1h1m15 0h1M1 2h2m4 0h1m4 0h1m1 0h2m2 0h1M3 3h1m1 0h1m15 0h3M6 4h1m1 0h1m1 0h1M0 5h1m2 0h1m1 0h3m7 0h1M0 6h2m1 0h1m3 0h1m8 0h1m6 0h1M0 7h1m16 0h1M0 8h1m5 0h1m10 0h1m4 0h1M6 9h1m1 0h1m3 0h1M8 10h1m3 0h1m10 0h1M0 11h1m16 0h1M0 12h1m6 0h4m9 0h1M9 13h1m9 0h1m3 0h1M5 14h1m1 0h1m11 0h1m1 0h1m1 0h1M7 15h1m8 0h1m6 0h1M2 16h2m4 0h1m2 0h1m1 0h2m5 0h1M10 17h1m2 0h1M5 18h2m10 0h1m2 0h1m1 0h1M1 19h1m18 0h1M0 20h1m15 0h2M12 21h2m7 0h3M0 22h1m9 0h1m3 0h1M3 23h1m5 0h1m6 0h1m3 0h1m2 0h1M7 24h1m4 0h1m4 0h1m1 0h1m1 0h1M15 25h2m1 0h1m1 0h2M0 26h2m3 0h1m1 0h1m2 0h1m3 0h2m1 0h5M8 27h1M5 28h1m1 0h1m3 0h1m2 0h1M7 29h1m10 0h1M5 30h1m6 0h1M8 31h1m11 0h1M1 32h1m10 0h1m8 0h1m1 0h1M1 33h1m4 0h1m1 0h1m5 0h1M4 34h1m1 0h1m12 0h2m2 0h1M0 35h1m7 0h1m8 0h1m3 0h1M20 36h1M0 37h1m1 0h1m5 0h1M20 38h1M5 39h1m2 0h1m2 0h1m3 0h1m1 0h2"/>
<path stroke="#2a002f" d="M4 0h1M11 1h1m3 0h1M19 2h1M7 3h1M1 4h1m14 0h1m1 0h1M4 6h2m3 0h1M3 7h1m1 0h1m5 0h1m3 0h1m6 0h2M10 9h1M2 10h1m8 0h1m4 0h1M4 11h1m6 0h1m7 0h1M15 12h1M10 13h1m7 0h1M9 14h1M6 16h1M4 18h1M2 19h1m4 0h1m10 0h1M2 20h3m3 0h1m2 0h1m6 0h1M1 21h1m17 0h1M19 22h1M15 24h1M5 25h1m4 0h1M4 26h1M1 28h1m4 0h1m5 0h1M16 29h1M19 30h1M16 32h1M4 33h1m14 0h1M9 35h1M2 36h1m15 0h1"/>
<path stroke="#150018" d="M2 0h1m5 0h1m13 0h1M4 1h1m12 0h1M0 2h1m5 0h1m10 0h1m4 0h1M8 3h1M10 5h4m7 0h1M12 6h1m1 0h1m6 0h1M1 7h1m4 0h1m5 0h1M12 8h2m2 0h1M5 9h1M1 10h1M18 11h1M12 12h1M5 13h1m9 0h1M2 15h1m10 0h1m4 0h1M23 16h1M5 17h1m1 0h1m9 0h1m5 0h1M11 18h1m3 0h2m1 0h1M10 20h1m11 0h1M11 21h1m3 0h2M1 22h2m2 0h2m2 0h1m7 0h1M7 23h1m13 0h1M14 24h1M4 27h1m14 0h1m1 0h1M9 28h1M6 30h1m2 0h2M13 31h1m5 0h1M3 33h1m16 0h1M5 34h1m2 0h2m3 0h1m7 0h1M2 35h2m7 0h2M21 36h1M7 37h1M14 38h1M0 39h1m15 0h1m2 0h1"/>
<path stroke="#000000" d="M20 1h1M20 3h1M3 4h1m19 0h1M14 5h1m3 0h1m3 0h1M18 6h1M9 7h1M1 8h1m5 0h2m9 0h1M7 9h1m8 0h1m2 0h1m2 0h2M21 12h1M4 13h1m8 0h2M15 14h1m2 0h1m1 0h1M11 15h1m2 0h1m4 0h1M1 16h1m10 0h1m6 0h1M0 17h2m7 0h1M12 18h2M21 19h1M9 20h1M10 21h1M16 22h1M5 23h1m6 0h1m2 0h1m2 0h1M9 24h1m8 0h1m4 0h1M2 25h1m1 0h1M9 26h1M17 27h1m2 0h1M4 28h1M8 30h1m8 0h1m2 0h1M7 31h1m1 0h1M13 32h1M0 34h1m14 0h1M7 35h1M6 36h1m3 0h1m6 0h1M5 37h1m10 0h1M3 38h1m3 0h1m2 0h1m1 0h1M4 39h1m17 0h1"/>
<path stroke="#181800" d="M6 0h1m11 0h1M16 7h1M8 19h1M9 27h1M17 28h1M10 33h1M12 36h1M20 37h1"/>
<path stroke="#2f2f00" d="M12 34h1"/>
<path stroke="#464600" d="M12 4h1M2 7h1m4 0h1M6 11h1M4 12h1M2 13h1M22 15h1M2 17h1M4 19h1M1 25h1M23 27h1M10 31h1M17 34h1M2 39h1"/>
<path stroke="#5e5e00" d="M17 5h1M3 8h1m5 0h1M3 13h1m17 0h2M1 15h1M9 16h1M2 23h1M3 25h1M16 27h1M21 28h1M15 31h1M3 37h1M4 38h1m18 0h1"/>
<path stroke="#767600" d="M17 4h1M8 7h1M2 8h1m1 0h1M1 9h1M6 17h1m5 0h1M13 19h1m5 0h1M19 20h1M15 22h1M0 24h2m4 0h1m13 0h1M14 27h1M10 28h1M18 33h1M11 34h1M11 36h1m1 0h1M10 37h1m1 0h1m5 0h1M0 38h1m4 0h1M23 39h1"/>
<path stroke="#8d8d00" d="M14 4h1M20 5h1m2 0h1M18 9h1M11 13h1M15 16h1M19 17h1m1 0h2M2 18h1M13 20h1M19 23h1M17 25h1M12 26h1M23 28h1M15 33h1m6 0h1M2 34h1M4 36h1m4 0h1M4 37h1M21 39h1"/>
<path stroke="#a4a400" d="M12 3h1M21 4h1M14 8h1M2 11h1M2 12h1M4 14h1M22 22h1M1 23h1M12 25h1m6 0h1M4 30h1M14 34h1M8 36h1M15 37h1M16 38h1M13 39h2"/>
<path stroke="#bcbc00" d="M16 3h1M19 8h1M0 9h1m14 0h1M16 13h1M21 15h1M10 18h1M3 19h1m11 0h1M12 20h1M7 21h1m1 0h1M11 22h1M6 23h1M14 25h1M7 27h1m14 0h1M15 30h1m2 0h1M22 31h1M0 33h1m15 0h1M3 34h1M10 35h1m4 0h1M15 36h1M20 39h1"/>
<path stroke="#d4d400" d="M15 10h1M8 13h1M10 14h1m3 0h1M0 23h1m3 0h1M8 25h1M20 28h1m1 0h1M0 30h1M1 35h1M21 37h1M1 38h1"/>
</g></g></g>
<clipPath id="hc3"><rect x="1090" y="648.6" width="226.2" height="711.7"/></clipPath>
<g clip-path="url(#hc3)"><g filter="url(#hb)">
<rect x="1086" y="644.6" width="234.2" height="719.7" fill="#181800"/>
<g transform="translate(1090 657.5) scale(3.016 17.7925)" fill="none" stroke-width="1.02">
<path stroke="#a900bc" d="M6 1h1m23 0h1M5 3h1m39 0h1M22 6h1M3 8h1m47 0h1m1 0h1M14 9h1M4 10h1M22 11h1m44 0h1M12 12h1m44 0h1M2 13h1m23 0h1m4 0h1m3 0h1m8 0h1m22 0h1M6 14h1M58 15h1M44 16h1m11 0h2M62 17h1M7 18h1M13 20h1m54 0h1M56 21h1m7 0h1M13 22h1m1 0h1m12 0h1m1 0h1m21 0h1m1 0h1M5 23h1m33 0h1m3 0h1M46 24h1m12 0h1M70 25h1M18 26h1m5 0h1m12 0h1m2 0h1m2 0h1m6 0h1m4 0h1m6 0h1M0 27h1m23 0h1m21 0h1M4 29h1M24 32h1M13 33h1M43 34h1m9 0h1M27 35h1m5 0h1m5 0h1m1 0h1M48 36h1m10 0h1m10 0h1M14 37h1m24 0h1m5 0h1m13 0h1m8 0h1M35 38h1m5 0h1M34 39h1m11 0h1"/>
<path stroke="#9300a4" d="M60 0h1M1 1h1m8 0h1m9 0h1m7 0h1M46 2h1M11 3h1m37 0h1M53 4h1m17 0h1M64 7h1M31 10h1m7 0h1M32 11h1M1 12h1m11 0h1m18 0h1M22 14h1M9 16h1m3 0h1m32 0h1M2 17h1m56 0h2m6 0h1M0 18h1m16 0h1m6 0h2m6 0h1M2 19h1m45 0h1M4 20h1m23 0h1M8 22h1m27 0h1M32 23h1M72 24h2M56 25h1M5 26h1m19 0h1m20 0h1m19 0h1M38 27h1M33 28h1m17 0h1M7 29h1m2 0h1m5 0h1m3 0h1m3 0h1m29 0h1m1 0h1M11 31h1m17 0h1m24 0h1M0 33h1m3 0h1M38 34h1m10 0h1m24 0h1M37 35h1m34 0h1M24 36h1m4 0h2m1 0h1M64 37h1m1 0h1M3 38h1m2 0h1m5 0h1m32 0h1m6 0h1M7 39h1m2 0h1m24 0h1"/>
<path stroke="#7e008d" d="M15 5h1m48 0h1M29 6h1m7 0h1M37 7h1m20 0h1M23 8h1m38 0h1M3 9h1m15 0h2m11 0h1M47 10h1M5 11h1m56 0h1M3 12h1M42 13h1M10 16h2m14 0h1m44 0h1M64 17h1m7 0h1M27 18h1m31 0h1M56 19h1M18 20h2m43 0h1M33 21h1m2 0h1m24 0h1M10 22h1m9 0h1m35 0h1M30 23h1M10 24h1m16 0h1M15 25h1m35 0h1M11 26h1m5 0h1m34 0h1m18 0h1m1 0h1M8 27h1m1 0h1m44 0h1m1 0h1m3 0h1M34 28h1M63 29h1M32 30h1m40 0h1M2 31h1m38 0h1m15 0h1M11 32h1m3 0h1m7 0h1M44 33h1M10 34h1m9 0h1m15 0h1m22 0h1M1 35h1m5 0h1m39 0h1M2 36h1m68 0h1M21 38h1m35 0h1M6 39h1m56 0h1"/>
<path stroke="#6a0076" d="M0 1h1m43 0h1M34 2h1M42 3h1m4 0h1m10 0h1M15 7h1m15 0h1M24 8h1M52 11h1M43 12h1M45 13h1m22 0h1M48 14h1m13 0h1M11 15h1m14 0h1m38 0h1M74 16h1M0 17h1m73 0h1M30 19h1m6 0h1m24 0h1m5 0h1M52 20h1M39 21h1m20 0h1M11 22h1m46 0h1M12 23h1m14 0h1m17 0h1m5 0h1m7 0h1M33 25h1m14 0h1m9 0h1M38 26h1m18 0h1M6 27h1m29 0h1M12 28h1m25 0h1M6 29h1m6 0h1m13 0h1m6 0h1m17 0h1m18 0h1M40 30h1m6 0h1M7 31h1M10 32h1m14 0h1m1 0h1m28 0h1m1 0h1M19 33h2m15 0h1M15 34h1m15 0h1m9 0h1m24 0h1M56 35h1M19 36h2m7 0h1M22 37h3m16 0h1m9 0h1M64 38h1M22 39h1"/>
<path stroke="#54005e" d="M5 5h1m25 0h1m26 0h1M2 6h1m59 0h1m3 0h1M8 9h1M51 10h1m4 0h1M60 11h1M22 12h1m23 0h1M4 13h1m10 0h1m27 0h1m26 0h1M40 14h1M42 17h1m7 0h1M13 18h1M20 19h2m3 0h1M56 20h1M22 21h1M24 22h1m1 0h2m19 0h1m7 0h1M58 23h1M39 24h1m10 0h1m15 0h1M39 25h1m19 0h1M9 26h1m6 0h1m10 0h1m5 0h1M5 27h1m1 0h1m14 0h1m3 0h1m6 0h1m5 0h1M32 28h1m16 0h1m16 0h1M8 29h2m27 0h2m28 0h1M29 30h1m15 0h1m6 0h1m1 0h1M10 31h1m19 0h1m16 0h1M11 33h1m21 0h1m21 0h1m10 0h1m4 0h1M7 34h1m26 0h1m15 0h1m6 0h1m4 0h1M18 35h1m48 0h1M22 36h1m22 0h1m9 0h1m4 0h1M7 37h1m4 0h1m37 0h1m1 0h1m18 0h1M0 38h1m7 0h1m47 0h1M8 39h1m2 0h1m11 0h1m2 0h1m32 0h1m6 0h1m4 0h1"/>
<path stroke="#3f0046" d="M4 1h1m9 0h1M36 3h1M18 4h1M16 8h1m14 0h1M12 11h1m38 0h1M37 13h1M45 14h1m7 0h1M10 15h1m28 0h1M31 16h1m1 0h1m7 0h1m7 0h1M33 18h1m13 0h1M26 19h1m5 0h1m2 0h1m17 0h1M14 21h1m1 0h1m23 0h1M9 22h1m55 0h1M4 23h1m32 0h2m17 0h1M65 25h1M16 27h1m34 0h1M35 28h1M12 29h1m45 0h1m9 0h1M8 30h1m11 0h1m29 0h1M0 31h1M7 32h1m5 0h1m45 0h1m8 0h1m4 0h1M35 33h1m27 0h1M51 34h1M0 35h1m24 0h1m9 0h1m26 0h1m10 0h1M46 36h1M3 37h1m30 0h1m3 0h1m23 0h1M33 38h1M33 39h1"/>
<path stroke="#2a002f" d="M43 2h1M0 3h1M26 4h1M42 6h1M36 8h1M24 10h1m12 0h1M51 12h1M24 14h1m29 0h1M2 15h1m11 0h1m56 0h1M61 16h1M10 18h1M48 21h1m9 0h1M12 22h1M50 25h1M68 26h1M42 27h1m30 0h1M1 32h1m18 0h1M51 33h1M47 34h1M16 35h1M4 36h1m57 0h1M42 38h1m8 0h1M20 39h1m21 0h1"/>
<path stroke="#150018" d="M42 2h1M15 4h1m12 0h1M58 6h1m6 0h1M43 8h1M51 9h1m13 0h1m7 0h1M27 10h1m14 0h1M47 12h1M16 13h1m39 0h1M7 15h1m48 0h1m13 0h1M1 16h1m10 0h1m1 0h1m2 0h1m25 0h1m15 0h2m7 0h1M23 17h1m14 0h1m15 0h1m3 0h1m7 0h1M11 18h1m26 0h1m29 0h1M73 19h1M24 20h1m26 0h1m22 0h1M0 21h1m3 0h1m12 0h1m6 0h1m29 0h1m7 0h1M21 22h1m46 0h1M2 23h1m7 0h1m54 0h1M14 24h1m16 0h1m9 0h1M73 25h1M49 26h1M21 28h1m2 0h1m35 0h1m7 0h1M15 29h1m10 0h1m26 0h1M21 30h1m20 0h1m16 0h1m3 0h1M14 31h1m50 0h1M2 32h1m6 0h1M30 33h1m31 0h1m1 0h2m7 0h1M8 34h1m3 0h1M13 35h1m44 0h1M10 36h1m2 0h1m3 0h1m17 0h1m11 0h1m1 0h1m14 0h1M26 37h1m21 0h2m10 0h1M48 38h1m5 0h1M39 39h1m8 0h1m2 0h1m1 0h1"/>
<path stroke="#000000" d="M19 1h1m7 0h1m5 0h1M16 2h1m34 0h1M48 3h1m18 0h1m2 0h2m1 0h1M60 4h1M2 5h1m30 0h1m7 0h1m24 0h1M33 6h1M10 8h1m3 0h2m25 0h2m3 0h1m2 0h1m16 0h1m2 0h1M6 9h1m2 0h1m8 0h1m38 0h1M40 10h1m11 0h1m17 0h1M44 11h1m26 0h1M2 12h1m11 0h1m16 0h1m5 0h1M0 13h1m38 0h1m15 0h1m3 0h1M4 14h1m28 0h1m22 0h1M21 15h1m6 0h1M4 16h1m24 0h1m2 0h1m7 0h1m7 0h1m15 0h2M7 17h1m1 0h1m8 0h1m5 0h1m20 0h1m9 0h1m13 0h1m3 0h1M19 18h1m8 0h1M12 19h1m14 0h1m1 0h1m9 0h1M0 20h1m7 0h1m11 0h1m6 0h1m10 0h1m3 0h2M8 21h1m32 0h1m26 0h1M14 22h1m29 0h1m4 0h1m9 0h1m1 0h1m9 0h1m1 0h1M14 23h1m33 0h1m1 0h1m19 0h1m2 0h1M0 24h1m6 0h1m9 0h1m6 0h1m8 0h1m9 0h1m8 0h1m7 0h1m7 0h1M4 25h1m4 0h1m10 0h1m5 0h1m10 0h1m25 0h1m2 0h1M6 26h1m3 0h1m59 0h1M3 27h1m15 0h1m15 0h1m11 0h1m1 0h1M4 28h1m5 0h1m6 0h1m7 0h1m38 0h1m8 0h1M18 29h1m17 0h1m23 0h1m1 0h1M1 30h1m16 0h1m17 0h1m11 0h1m8 0h1M4 31h1m8 0h1m3 0h1m30 0h1m14 0h1m2 0h1m4 0h1M6 32h1m14 0h1m27 0h1m4 0h1M24 33h1m1 0h2m3 0h1m6 0h1m2 0h1m18 0h1M0 34h1m31 0h1m19 0h1m2 0h2m8 0h1m5 0h1M2 35h1m28 0h1m11 0h1m6 0h1m8 0h1m5 0h1M6 36h1m8 0h1m23 0h1m3 0h1m10 0h1m2 0h1m5 0h1m10 0h1M47 37h1M19 38h1m4 0h1m1 0h1m3 0h1m12 0h2m1 0h1m3 0h1m16 0h1m1 0h1m2 0h1M1 39h1m7 0h1m3 0h1m4 0h2m8 0h1m2 0h1m9 0h1m30 0h1"/>
<path stroke="#2f2f00" d="M24 1h1m41 0h1M13 2h1m17 0h1M1 3h1m7 0h1m33 0h1M2 4h1m8 0h2m1 0h1m4 0h1m23 0h1m12 0h1M7 5h1m4 0h1m4 0h1m14 0h1m12 0h1m16 0h1m4 0h2M23 6h1m24 0h1m8 0h1M8 7h1m12 0h2m6 0h1m16 0h1m1 0h1m2 0h1m16 0h1M17 8h1m1 0h1m7 0h1m28 0h1m7 0h1m5 0h1M12 9h1m9 0h1m3 0h1m11 0h2m5 0h1m10 0h1m1 0h1m5 0h1m3 0h1M23 10h1m20 0h1m17 0h1M55 11h1M33 12h1m7 0h2m10 0h1m5 0h1m1 0h1m8 0h1m2 0h1M12 13h1m34 0h2m2 0h1m6 0h1m7 0h1M2 14h1m15 0h1m7 0h1m9 0h1m4 0h1m32 0h1M8 15h1m3 0h1m11 0h1m5 0h1m2 0h1m8 0h1m2 0h1m1 0h2m18 0h1m6 0h1M0 16h1m19 0h1m14 0h2m18 0h1M4 17h1m3 0h1m1 0h1m3 0h1m2 0h1m19 0h1m1 0h1m1 0h1m2 0h1m16 0h1M18 18h1m21 0h1m2 0h1M10 19h1m4 0h1m3 0h1m11 0h1m1 0h1m17 0h1m7 0h1M3 20h1m13 0h1m32 0h1m9 0h1m1 0h1m1 0h1M23 21h1m4 0h1m13 0h1m2 0h1m5 0h1m19 0h1m2 0h1M3 22h3m10 0h1m5 0h1m15 0h3m21 0h1m3 0h2M8 23h1m7 0h1m4 0h1m2 0h1m4 0h1m1 0h1m15 0h1m14 0h2M2 24h1m2 0h1m3 0h1m2 0h1m15 0h1m3 0h1m14 0h1m1 0h1m1 0h1m2 0h1m7 0h1m7 0h1M1 25h1m5 0h1m2 0h1m3 0h1m2 0h1m3 0h1m5 0h2m2 0h2m14 0h1m4 0h2m17 0h1M0 26h1m13 0h1m7 0h2m29 0h1m5 0h2m11 0h1M9 27h1m2 0h1m7 0h2m23 0h1m24 0h1M2 28h1m11 0h2m21 0h1m14 0h2M2 29h1m2 0h1m19 0h1m14 0h1m2 0h1m20 0h1m5 0h1M2 30h1m1 0h1m5 0h1m13 0h1m1 0h1m4 0h1m17 0h1m8 0h1m3 0h1m8 0h1M9 31h1m10 0h3m2 0h1m2 0h1m3 0h2m2 0h1m9 0h1m9 0h1m3 0h1M8 32h1m17 0h1m2 0h1m1 0h1m8 0h1m12 0h1m11 0h1M2 33h2m8 0h1m2 0h1m2 0h1m2 0h1m28 0h1m3 0h1m1 0h2M2 34h1m19 0h2m2 0h1m6 0h1m1 0h1m3 0h1m33 0h1M8 35h1m2 0h2m7 0h1m21 0h1m1 0h1m3 0h1m2 0h1m18 0h1M31 36h1m8 0h1m3 0h1m7 0h1m19 0h1M10 37h1m5 0h1m12 0h1m6 0h1m24 0h1m5 0h1m6 0h1M2 38h1m1 0h1m22 0h1m6 0h1m2 0h2m20 0h1m11 0h1M2 39h1m12 0h1m5 0h1m21 0h2m16 0h2m2 0h1m2 0h1m4 0h1"/>
<path stroke="#464600" d="M19 0h1m15 0h1m11 0h1m3 0h1m6 0h1m8 0h1M37 1h1m11 0h1m7 0h1M12 2h1m15 0h1m23 0h1m3 0h1m8 0h1M6 3h1m7 0h1m16 0h1m12 0h1m5 0h1m3 0h1m7 0h1m1 0h1M30 4h1m8 0h1m6 0h1m7 0h1m8 0h1m4 0h1M11 5h1m7 0h1m3 0h1m10 0h1m3 0h1m4 0h1m8 0h1M11 6h1m7 0h1m12 0h1m14 0h1M4 7h1m2 0h1m3 0h1m4 0h1m25 0h2m9 0h1m6 0h1m9 0h1m3 0h1M6 8h1m1 0h1m16 0h1m3 0h1m3 0h1m14 0h1m16 0h1M24 9h1m2 0h1m15 0h1m23 0h1M3 10h1m6 0h1m4 0h1m1 0h1m23 0h1m3 0h2m10 0h1m9 0h1M15 11h1m13 0h1m1 0h1m4 0h1m10 0h1m25 0h1M11 12h1m11 0h1m14 0h1m19 0h1m1 0h1m7 0h1M1 13h1m26 0h1m4 0h2m6 0h1m10 0h1m11 0h1M23 14h1m4 0h1m13 0h1m30 0h1M4 15h1m18 0h1m13 0h1m2 0h1m3 0h1m5 0h1m1 0h1M2 16h1m19 0h1m2 0h1M1 17h1m4 0h1m4 0h1m1 0h1m15 0h1m6 0h1m6 0h1m2 0h1m1 0h2m1 0h1M6 18h1m5 0h1m26 0h1m4 0h1m21 0h2M4 19h1m2 0h1m14 0h2m4 0h1m5 0h1m1 0h1m10 0h1m1 0h1m2 0h1m2 0h1m9 0h1m1 0h1m2 0h1m3 0h1M12 20h1m8 0h1m3 0h1m3 0h1m2 0h2m11 0h1m19 0h1m5 0h1M7 21h1m4 0h2m12 0h1m7 0h2m1 0h1M6 22h1m36 0h1m6 0h1m9 0h1m9 0h1m1 0h1M7 23h1m3 0h1m14 0h1m14 0h1m19 0h1m4 0h1M3 24h1m9 0h1m1 0h2m2 0h2m5 0h1m11 0h1m1 0h1m1 0h1m13 0h1m7 0h1m2 0h1M6 25h1m5 0h1m11 0h1m5 0h1m36 0h1M48 26h1m9 0h1m2 0h1M2 27h1m29 0h1m15 0h1m9 0h1m9 0h1M5 28h2m23 0h1m8 0h2m2 0h1m4 0h1M44 29h2m1 0h1m1 0h1M53 30h1m1 0h1m11 0h2m1 0h1M3 31h1M18 32h2m2 0h1m5 0h1m19 0h1m1 0h1m11 0h2M1 33h1m6 0h1m7 0h2m5 0h1m8 0h1m9 0h1m3 0h1m12 0h1m10 0h1m1 0h1m1 0h1M4 34h1m14 0h1m5 0h1m3 0h1m18 0h1m9 0h1m8 0h3M5 35h1m58 0h1m4 0h1M1 36h1m36 0h1m27 0h1M2 37h1m10 0h1m6 0h1m25 0h1m6 0h1m2 0h1M1 38h1m14 0h1m3 0h1m8 0h1m6 0h1m18 0h1m5 0h1m8 0h1M40 39h1m16 0h1m2 0h1m13 0h1"/>
<path stroke="#5e5e00" d="M15 0h1m4 0h1m3 0h1m14 0h2m9 0h1m3 0h1m1 0h1m4 0h1m3 0h2m1 0h1M12 1h2m3 0h1m11 0h1m17 0h1m8 0h1m3 0h1m1 0h1M4 2h1m1 0h1m3 0h2m24 0h1m17 0h1m3 0h1m7 0h1m4 0h1M10 3h1m9 0h1m1 0h1m18 0h1m15 0h1m8 0h1M0 4h1M27 5h1m14 0h1m27 0h1M9 6h1m33 0h2m9 0h1m1 0h1m16 0h1M0 7h1m16 0h1m2 0h1m2 0h1m10 0h2m19 0h2m5 0h1M0 8h1m3 0h1m6 0h1m6 0h1m13 0h1m1 0h1m19 0h2m17 0h1M5 9h1m10 0h1m27 0h1m2 0h1m1 0h1m5 0h1m3 0h1m2 0h2m10 0h1M14 10h1m6 0h1m12 0h1m24 0h1m11 0h1M9 11h1m7 0h1m6 0h1m16 0h1m6 0h2m22 0h1M0 12h1m20 0h1m7 0h1m10 0h1m3 0h1m10 0h2m10 0h1M6 13h1m6 0h1m5 0h2m2 0h2m4 0h2m1 0h1m5 0h1m7 0h1m16 0h1m10 0h1M5 14h1m2 0h3m1 0h1m1 0h1m2 0h1m7 0h1m1 0h1m7 0h1m2 0h2m12 0h1m10 0h1m1 0h1M3 15h1m9 0h1m2 0h1m19 0h1m1 0h1m2 0h1M18 16h1m20 0h1m7 0h1m2 0h1m1 0h1m1 0h1M5 17h1m27 0h1m18 0h1m12 0h1M3 18h1m19 0h1m5 0h1m6 0h2m15 0h1m16 0h1M45 19h1M15 20h2m13 0h1m9 0h1m6 0h1m6 0h2m3 0h1M38 21h1m8 0h1m15 0h1m2 0h1m3 0h1M18 22h1m12 0h1m19 0h1M0 23h2m11 0h1m5 0h1m2 0h1m2 0h1m2 0h1m4 0h2m7 0h1m11 0h2m11 0h1m6 0h1M44 24h1m12 0h1m5 0h1M3 25h1m36 0h1m19 0h1M12 26h1m23 0h1m5 0h1m1 0h1m20 0h1M13 27h1m9 0h1m19 0h1m16 0h1m8 0h1M0 28h1m2 0h1m9 0h1m2 0h1m12 0h1m1 0h1m4 0h1m4 0h1m5 0h1m26 0h1M17 29h1m5 0h1m4 0h1m32 0h1M15 30h3m1 0h1m2 0h2m6 0h1m4 0h1m1 0h1m3 0h1m19 0h1m4 0h1M1 31h1m13 0h2m7 0h1m13 0h1m3 0h1m21 0h1m7 0h1m1 0h1M32 32h1m18 0h1M6 33h1m41 0h1m3 0h1M1 34h1m1 0h1m38 0h1m27 0h1M9 35h1m16 0h1m2 0h1m22 0h1m10 0h1m7 0h1M0 36h1m6 0h1m17 0h1m7 0h1m3 0h1m3 0h1m11 0h1m4 0h1m9 0h1M0 37h2m30 0h1m4 0h1m4 0h1m12 0h1m7 0h1m9 0h1M14 38h1m10 0h1M17 39h1"/>
<path stroke="#767600" d="M7 0h1m4 0h1m9 0h2m12 0h2m17 0h1m13 0h3M7 1h2m6 0h1m15 0h1m3 0h1m9 0h1m9 0h1m2 0h1m4 0h1m1 0h1m8 0h1M2 2h1m5 0h1m9 0h1m1 0h1m1 0h1m3 0h2m5 0h1m1 0h1m3 0h1m1 0h1m18 0h1M3 3h1m15 0h1m4 0h1m5 0h1m2 0h1m12 0h1M22 4h1m9 0h1m3 0h1m5 0h1m15 0h2m2 0h1m1 0h2m1 0h1m6 0h1M16 5h1m3 0h1m5 0h1m1 0h2m31 0h1m12 0h1M1 6h1m1 0h2m2 0h1m4 0h2m1 0h2m14 0h1m7 0h1m9 0h1m17 0h2M10 7h1m8 0h1m4 0h1m1 0h1m12 0h1m29 0h1m1 0h1m1 0h1M7 8h1m13 0h1m13 0h1m9 0h1m6 0h1M23 9h1m12 0h1m4 0h1m11 0h1M16 10h1m5 0h1m6 0h1m42 0h1m1 0h1M11 11h1m1 0h1m9 0h1m14 0h1m4 0h1m6 0h1m8 0h1M5 12h2m3 0h1m6 0h1m9 0h1m35 0h1m2 0h1M10 13h1m43 0h1m2 0h1m3 0h2m6 0h1M3 14h1m11 0h2m2 0h1m9 0h1m1 0h1m28 0h1m7 0h1m2 0h1M6 15h1m20 0h1M6 16h2m7 0h1m22 0h1m28 0h1M27 17h1m25 0h1m9 0h1M15 18h1m42 0h1m2 0h1m12 0h1M0 19h1m7 0h2m14 0h1m38 0h1m2 0h1M23 20h1m10 0h1m31 0h2M3 21h1m5 0h1m11 0h1m21 0h2M7 22h1m24 0h1m2 0h1m12 0h1m4 0h1m9 0h2M17 23h1m17 0h1m4 0h1m3 0h1m1 0h1m5 0h1m4 0h1M6 24h1m4 0h1m10 0h1m13 0h2M34 26h1M15 27h1m11 0h1m36 0h1m2 0h1M7 28h1m11 0h1m2 0h1m33 0h1m4 0h2m2 0h1m1 0h1M42 29h1m7 0h1M3 30h1m8 0h1m20 0h1m31 0h1M44 31h1m10 0h1M0 32h1m37 0h1m2 0h1m18 0h1m6 0h1M28 33h2m15 0h1m23 0h1M9 34h1m1 0h1m2 0h1m2 0h1m10 0h1m1 0h1m30 0h1M3 35h1m2 0h1m8 0h1m1 0h1m4 0h1m11 0h1m1 0h1m20 0h1M9 36h1m6 0h1m1 0h1m31 0h1m18 0h1m3 0h1M5 37h2m4 0h1m6 0h1m14 0h1m20 0h1m17 0h1M13 38h1m3 0h1m22 0h1m17 0h1m3 0h1m2 0h1M30 39h1m7 0h1"/>
<path stroke="#8d8d00" d="M2 0h1m2 0h1m21 0h1m5 0h1m7 0h1m3 0h2m5 0h1m4 0h1m5 0h1m9 0h1M11 1h1m10 0h1m3 0h1m7 0h1m11 0h1m1 0h1m3 0h3m13 0h1M29 2h1m10 0h1m8 0h2m2 0h1m19 0h1M17 3h1m3 0h1m15 0h1m1 0h1m12 0h2m1 0h1m3 0h1m3 0h1m4 0h1m3 0h1M1 4h1m7 0h1m7 0h1m19 0h1m2 0h2m2 0h1m7 0h1M1 5h1m1 0h1m4 0h1m13 0h1m12 0h2m7 0h1m20 0h1M0 6h1m5 0h1m1 0h1m8 0h1m3 0h1m5 0h1m22 0h1m9 0h1m9 0h1M5 7h1m26 0h1m3 0h1m12 0h1m11 0h1m4 0h1M12 8h1m15 0h1m28 0h1m9 0h1m3 0h2M13 9h1m1 0h1m9 0h1m2 0h1m5 0h2m4 0h1m1 0h1m9 0h1m1 0h1m5 0h2m4 0h1m3 0h2M26 10h1m3 0h1m18 0h1M25 11h1m8 0h1m2 0h1m16 0h1m13 0h1M7 12h1m11 0h2m9 0h1m4 0h1m12 0h1m1 0h1M3 13h1m5 0h1m4 0h1M11 14h1m1 0h1m7 0h1m22 0h1m1 0h1m2 0h1m9 0h1M0 15h1m14 0h1m2 0h1m1 0h1m30 0h1m11 0h1m2 0h1m1 0h1M21 16h1m2 0h1m2 0h1m44 0h1M3 17h1m67 0h1M20 18h1m10 0h1m13 0h1m9 0h1m13 0h1m2 0h1M60 19h1M2 20h1m4 0h1m14 0h1m21 0h1m8 0h1m7 0h1m8 0h1m2 0h1M2 21h1m3 0h1m12 0h1m10 0h1m1 0h1m19 0h1m4 0h1M1 22h1m32 0h1m10 0h1M6 23h1m57 0h1m6 0h1M18 24h1m16 0h1m17 0h1m1 0h1m13 0h1m1 0h1M18 25h1m15 0h1m6 0h1m27 0h1M26 26h1M11 27h1m2 0h1m35 0h1M1 28h1m9 0h1m30 0h1m15 0h2m12 0h1M3 29h1m18 0h1m8 0h1m42 0h1M13 30h1m14 0h1m9 0h1m5 0h1m11 0h1M40 31h1m4 0h1M4 32h1m9 0h1m24 0h1M14 33h1m32 0h1m1 0h1m3 0h1M45 34h1m18 0h1M40 35h1m4 0h2M3 36h1m17 0h1M17 37h1m7 0h1m2 0h1m1 0h1m34 0h1M31 38h1M0 39h1m54 0h1m14 0h1"/>
<path stroke="#a4a400" d="M0 0h1m3 0h1m6 0h1m6 0h1m2 0h1m22 0h1m3 0h2m24 0h1M2 1h1m2 0h1m45 0h1m7 0h1m10 0h3M5 2h1m19 0h1m4 0h1m17 0h1m15 0h1m5 0h1m3 0h1M18 3h1m6 0h1m6 0h1m18 0h1m4 0h1m4 0h1M10 4h1m2 0h1m2 0h1m16 0h1m14 0h2m1 0h1m3 0h1M0 5h1m12 0h1m23 0h1m2 0h1m7 0h3m5 0h2m1 0h1m12 0h1M18 6h1m1 0h1m9 0h1m20 0h1m7 0h1m3 0h2m6 0h2M1 7h1m11 0h2m48 0h1m1 0h1m6 0h1M9 8h1m12 0h1m7 0h1m19 0h1m8 0h1m3 0h1M0 9h1m10 0h1m18 0h1m15 0h1m1 0h1m1 0h1M12 10h1m12 0h1m27 0h1m9 0h1m1 0h1M2 11h1m27 0h1m11 0h1m21 0h2M34 12h1m27 0h1m2 0h1M11 13h1m13 0h1m1 0h1m43 0h1M1 14h1m30 0h1m17 0h1m6 0h1m8 0h1m2 0h1m2 0h1M5 15h1m3 0h1m25 0h1m17 0h1m5 0h1m12 0h1M69 16h1M15 17h1M1 18h1m3 0h1m3 0h1m11 0h1m41 0h1m7 0h1M6 19h1m4 0h1m4 0h1m24 0h1m2 0h1m26 0h1M9 20h1m31 0h1M5 21h1m23 0h1m1 0h1m18 0h1m14 0h1m3 0h1M25 22h1M29 24h1m4 0h1m26 0h1M13 25h1m2 0h1m5 0h2m1 0h1m23 0h1m14 0h1M1 26h1m72 0h1M17 27h1m11 0h1m14 0h1m8 0h1m17 0h2M27 28h1m17 0h1m8 0h1m14 0h1m1 0h1M27 30h1m23 0h1m8 0h1m11 0h1M19 31h1m7 0h1m6 0h1m27 0h1M3 32h1M27 34h1m35 0h1M14 35h1m23 0h1M11 36h1M4 37h1m22 0h1m30 0h1M11 38h1m20 0h1M50 39h1"/>
<path stroke="#bcbc00" d="M9 0h1m4 0h1m11 0h1m3 0h1M9 1h1m28 0h1m2 0h1m19 0h1M3 2h1m5 0h1m7 0h1m3 0h1m22 0h2m9 0h1m6 0h1m5 0h1M7 3h1m4 0h2m13 0h3m8 0h1M7 4h2m11 0h1m3 0h1m9 0h1m15 0h1m10 0h1M30 5h1m15 0h1M26 6h1m1 0h1m11 0h1m4 0h2m5 0h1m16 0h1M2 7h1m22 0h1m7 0h1m4 0h1m1 0h1M20 8h1m17 0h1M1 9h1m2 0h1m16 0h1m9 0h1m40 0h1M7 10h1m28 0h1M6 11h1m9 0h1m1 0h1m1 0h1m12 0h1M16 12h1m52 0h1m1 0h2M7 13h1m13 0h1m14 0h1m35 0h1M30 14h1M34 16h1m18 0h1M70 17h1M1 19h1m3 0h1m32 0h1m30 0h1m2 0h1M31 20h1m3 0h1m33 0h1M25 21h1m33 0h1M69 22h1M9 23h1M21 24h1m3 0h1m4 0h1M45 25h1M8 26h1M34 27h1m28 0h1M9 28h1m8 0h1m1 0h1m29 0h1M35 29h1m36 0h1M5 30h1m28 0h1M61 31h1M16 32h1m18 0h1M13 34h1m58 0h1M21 35h1m31 0h1m1 0h1M27 36h1M15 38h1"/>
<path stroke="#d4d400" d="M10 0h1m2 0h1m2 0h2m10 0h2m13 0h1m9 0h1m5 0h1m4 0h1m7 0h1M3 1h1m12 0h1m1 0h1m4 0h1m15 0h1m24 0h1m2 0h1M0 2h1m22 0h1m8 0h1m4 0h2m22 0h1m10 0h1M15 3h1m7 0h1m2 0h1m13 0h1m28 0h1M4 4h3m20 0h1m1 0h1m1 0h1m13 0h1m11 0h1m8 0h1m2 0h1m2 0h1M4 5h1m1 0h1m7 0h1m3 0h1m5 0h1m14 0h1m14 0h2m4 0h1M10 6h1m3 0h1m9 0h1m10 0h2m4 0h1m11 0h1m1 0h1m18 0h1M6 7h1m2 0h1m2 0h1m14 0h1m2 0h1m13 0h2m8 0h1m2 0h1m9 0h1M1 8h2M2 9h1m4 0h1m9 0h1m51 0h1M2 10h1m3 0h1m1 0h1m9 0h3m11 0h1m17 0h1m3 0h2m2 0h1m2 0h1m4 0h1M3 11h1m15 0h1m7 0h1m7 0h1m17 0h1m2 0h3m2 0h1m4 0h1M8 12h2m35 0h1m8 0h1M49 13h1m3 0h1m11 0h1M0 14h1m42 0h1m7 0h1m6 0h1M31 15h1m17 0h1M5 16h1m52 0h1m7 0h1m3 0h1M22 17h1m3 0h1m4 0h2m1 0h2m4 0h1m16 0h1M4 18h1m9 0h1m1 0h1m9 0h1m3 0h1m4 0h1m16 0h1m1 0h1m5 0h1m4 0h1M3 19h1m9 0h2m25 0h1m9 0h1m6 0h2m2 0h1m2 0h1M1 20h1m3 0h2m39 0h1m2 0h1M1 21h1m44 0h1m2 0h1m17 0h1M2 22h1m20 0h1M53 23h1m15 0h1M1 24h1m46 0h1m9 0h1M2 25h1m8 0h1m17 0h1m6 0h1m6 0h1m18 0h1m9 0h1M13 26h1m5 0h1m1 0h1m9 0h1m13 0h1m5 0h1m2 0h1m1 0h1m10 0h1m1 0h1M1 27h1m2 0h1m26 0h1m20 0h1m21 0h1M44 28h1m1 0h1m8 0h1m14 0h1M0 29h1m28 0h1m11 0h1m6 0h1m2 0h1m13 0h1m3 0h1M6 30h1m32 0h1m29 0h1M8 31h1m14 0h1m7 0h1m17 0h3m7 0h1m9 0h2M5 32h1m11 0h1m16 0h1m1 0h1m18 0h1m1 0h1m3 0h1m2 0h1m5 0h1m1 0h1m1 0h1M9 33h1m48 0h1M5 34h1m34 0h1M4 35h1m5 0h1m49 0h1m5 0h1M5 36h1m20 0h1m9 0h1M31 37h1m8 0h1m28 0h1M5 38h1m33 0h1m13 0h1m19 0h1M3 39h1m12 0h1m7 0h1m7 0h1m3 0h1m10 0h1m10 0h1m5 0h1m2 0h1"/>
<path stroke="#ebeb00" d="M1 0h1m1 0h1m2 0h1m18 0h1m6 0h1m1 0h1M21 1h1m3 0h1m6 0h1m3 0h1m3 0h1m28 0h1m3 0h1M1 2h1m12 0h2m3 0h1m27 0h1m9 0h1m1 0h1m3 0h1m3 0h1m1 0h1M8 3h1m7 0h1m18 0h1m29 0h1M3 4h1m19 0h1m1 0h1m12 0h1m34 0h1M21 5h1m31 0h1m9 0h1m5 0h1m1 0h1M5 6h1m19 0h1m8 0h1m26 0h1M3 7h1m14 0h1m9 0h1m18 0h1m2 0h1M5 8h1m33 0h2M29 9h1m7 0h1M0 10h1m4 0h1m3 0h1m1 0h1m1 0h1m21 0h1m12 0h1m15 0h1m4 0h1m3 0h1M4 11h1m2 0h2m5 0h1m11 0h1m13 0h1m5 0h1m16 0h1m5 0h2m3 0h1M15 12h1m9 0h2m22 0h1m2 0h1m21 0h1M34 14h1m26 0h1M1 15h1m17 0h1m5 0h1m8 0h1m11 0h1m10 0h1m11 0h1M25 17h1M2 18h1m31 0h1m6 0h2m3 0h1m17 0h1M54 19h1M26 20h1m31 0h1m13 0h1M18 21h1m53 0h1M74 22h1M23 23h1M8 24h1m36 0h1M2 26h1m1 0h1m10 0h1m4 0h1m7 0h1m3 0h1m2 0h1m5 0h1m22 0h1M30 27h1m9 0h1m18 0h1M26 28h1m1 0h1M1 29h1m12 0h1m15 0h1m2 0h1m12 0h1m12 0h1M0 30h1m24 0h1m38 0h1M37 32h1m4 0h1m3 0h1m5 0h1m18 0h1M34 33h1m5 0h1m26 0h1M24 35h1m24 0h1M67 36h1M21 37h1m35 0h1M10 38h1m11 0h1m26 0h1m18 0h1m5 0h1M69 39h1"/>
</g></g></g>
<clipPath id="hc4"><rect x="1322.4" y="648.6" width="253" height="711.7"/></clipPath>
<g clip-path="url(#hc4)"><g filter="url(#hb)">
<rect x="1318.4" y="644.6" width="261" height="719.7" fill="#3f0046"/>
<g transform="translate(1322.4 657.5) scale(3.0119 17.7925)" fill="none" stroke-width="1.02">
<path stroke="#a900bc" d="M4 0h1M44 1h1m24 0h1M23 3h1m16 0h1m13 0h1m22 0h1M52 4h1m13 0h1M0 5h1m2 0h2m17 0h1m9 0h1m30 0h1M14 6h1m8 0h1m5 0h1m38 0h1m2 0h1M50 7h1m10 0h1M23 8h1m27 0h1M25 9h1m15 0h1m5 0h1M3 12h1m12 0h1m1 0h1m45 0h1m12 0h1m5 0h1M43 13h1M10 14h1m3 0h1m7 0h1m56 0h1M5 15h1m29 0h1m11 0h1m22 0h1M13 16h1m10 0h1M13 17h1m3 0h1m8 0h2m17 0h1m2 0h1m11 0h2M4 18h1m12 0h1m9 0h1m9 0h1m12 0h1m17 0h1m1 0h1m10 0h1M8 19h1m8 0h1m13 0h1m19 0h1m13 0h2M10 20h1m13 0h1m23 0h1m33 0h1M16 22h1m5 0h1m12 0h1m3 0h1m42 0h1M53 23h1m26 0h1M9 24h1m3 0h1m6 0h1m26 0h1m1 0h1m3 0h1m2 0h1m2 0h1m11 0h1M2 25h1m1 0h1m47 0h1m4 0h1M9 27h2m31 0h1m7 0h1M44 28h1m13 0h1m9 0h1m10 0h1M65 30h1M1 31h1m13 0h1m16 0h1m1 0h1m11 0h1m2 0h1m5 0h1m27 0h1M49 33h2m15 0h1M31 34h1m29 0h1M0 35h1m22 0h1m26 0h1m28 0h1m2 0h1M13 36h1m9 0h1m26 0h1m21 0h1m6 0h1M20 37h1m9 0h1m4 0h1m5 0h1m14 0h1m9 0h2m2 0h1m5 0h1M0 38h1m3 0h1m9 0h1m20 0h2m5 0h1m21 0h1m12 0h1M18 39h2m14 0h1"/>
<path stroke="#9300a4" d="M1 0h1m21 0h1m5 0h1m44 0h2M9 1h2m29 0h1m13 0h1M16 2h1m31 0h1m9 0h1m23 0h1M5 3h1M3 4h1M7 5h1m8 0h1m9 0h1m7 0h1m16 0h1m16 0h1m7 0h1M2 6h1m14 0h1M7 7h1m14 0h1m16 0h1m13 0h1M14 8h1m60 0h2M7 9h1m24 0h1m2 0h1m9 0h1m18 0h1m1 0h1m2 0h1m4 0h1M6 12h1m34 0h1m17 0h1m2 0h1m18 0h1M33 13h1m15 0h1m17 0h1m3 0h1M36 14h1m28 0h1M9 15h1m19 0h1m19 0h1m25 0h1M1 16h1m3 0h2m22 0h1m47 0h1m2 0h1M71 17h1m1 0h1m7 0h1M6 18h1m32 0h1m3 0h1m14 0h1M3 19h1m11 0h1m25 0h1m13 0h2m14 0h1M52 20h1m19 0h1M11 21h1m10 0h1m7 0h1m21 0h1m13 0h1M1 22h1m23 0h2m2 0h1m3 0h1m2 0h1m14 0h1m2 0h1m11 0h1m4 0h1M11 23h1M2 24h1m25 0h1m7 0h1M28 25h1m45 0h1M16 27h1m5 0h1m15 0h1m15 0h2m2 0h2m22 0h1M1 28h1m36 0h1m8 0h1m23 0h1M20 30h1m36 0h1m14 0h1M27 31h1m12 0h1m13 0h1m10 0h1m4 0h1m4 0h1M2 33h1m21 0h1M12 34h1m2 0h1m12 0h1m10 0h1m6 0h1m16 0h1m2 0h1M14 35h1m10 0h1m20 0h1M7 36h1m18 0h1m33 0h1M3 37h1m18 0h1m19 0h1m8 0h1m12 0h1M9 38h1m9 0h2m3 0h1m6 0h1m18 0h1m1 0h1m18 0h1m4 0h1M1 39h1m19 0h1m9 0h1m9 0h1m28 0h1"/>
<path stroke="#7e008d" d="M5 0h1m73 0h1M15 1h1m22 0h1m32 0h1m4 0h1M42 3h1m5 0h1m27 0h1M19 4h1m56 0h1m6 0h1M2 5h1m3 0h1m32 0h1m1 0h1m4 0h1m8 0h1M7 6h1m37 0h1m23 0h1M0 7h1m39 0h1m2 0h1M5 8h1m11 0h1m11 0h1m3 0h1m19 0h1m29 0h1M21 9h1m1 0h1m43 0h1m3 0h1M25 12h1m2 0h2m33 0h1m9 0h1M48 13h1m24 0h1M0 14h1m7 0h1m15 0h1m3 0h1m35 0h1m9 0h1m8 0h1M2 15h1m11 0h1m19 0h1m20 0h1m23 0h1M8 16h1m28 0h1m2 0h1m30 0h1m3 0h1M0 17h1m11 0h1m37 0h1m16 0h1M2 18h1m41 0h1m21 0h1m2 0h1M6 19h1m62 0h1M54 20h2m11 0h1M64 21h1m12 0h1m5 0h1M5 22h1m8 0h1m12 0h1m2 0h1m13 0h1m18 0h1M17 23h1m16 0h1m11 0h1M42 24h1m21 0h1m8 0h1M8 25h1m3 0h1m7 0h1m18 0h1m13 0h1M1 27h2m75 0h1m4 0h1M5 28h2m23 0h1m2 0h1m7 0h1m1 0h1M2 30h1m8 0h1m2 0h2m13 0h1m7 0h2m6 0h1m33 0h1M2 31h1m15 0h1m11 0h1m2 0h1m33 0h1m1 0h1m1 0h1M26 33h1m28 0h1m21 0h1M7 34h1m10 0h1m8 0h1m5 0h1m7 0h1m29 0h1m9 0h1M34 35h1m9 0h1m15 0h2m11 0h1M11 36h1m29 0h1m1 0h1m21 0h1m2 0h1M19 37h1m3 0h1m2 0h1m18 0h1m31 0h1M8 38h1m9 0h1m9 0h1m1 0h1m27 0h1m21 0h1M0 39h1m21 0h1m16 0h1m24 0h1m4 0h1m1 0h1m7 0h1"/>
<path stroke="#6a0076" d="M55 0h1M60 1h1M3 2h1m11 0h1m34 0h1m12 0h1m3 0h1M13 3h1m15 0h1m50 0h1M44 4h1M24 5h1m2 0h1m32 0h1m18 0h1M66 7h1M10 8h1m14 0h3m2 0h1m7 0h1m3 0h1m5 0h1m6 0h2m6 0h1M26 9h1m36 0h1M17 12h1m3 0h1m4 0h2m16 0h1m23 0h1M6 13h2M47 14h1m2 0h1M10 15h1m42 0h1m5 0h1m13 0h1m9 0h1M9 16h1m6 0h1m15 0h1m13 0h1m5 0h1m21 0h1m3 0h1M3 17h1m1 0h1m31 0h1m1 0h1m11 0h1m4 0h1m19 0h1M10 18h1m9 0h2m10 0h1m16 0h1m32 0h1M14 19h1m52 0h1m13 0h1M11 20h1m15 0h1m12 0h1M25 21h1m15 0h1m6 0h1m18 0h1m11 0h1M23 22h1m10 0h1m38 0h1M2 23h1m1 0h1m24 0h1m8 0h1m9 0h1m17 0h1m7 0h1M75 25h1M0 27h1m34 0h1m1 0h1M6 30h1m44 0h2M78 31h1M43 33h1m26 0h1M67 34h1m10 0h1M20 35h1m34 0h1m2 0h1m3 0h1m18 0h1M9 36h1m11 0h1m9 0h1m7 0h1m17 0h1m16 0h1M13 37h1m11 0h1m2 0h1m23 0h1m9 0h1m16 0h2M5 38h2m72 0h1m1 0h1M3 39h1m2 0h1m8 0h1"/>
<path stroke="#54005e" d="M0 0h1m5 0h1m1 0h1m9 0h3m3 0h1m6 0h3m1 0h1m5 0h1m1 0h1m1 0h1m6 0h1m10 0h1m6 0h2m8 0h2m1 0h1M11 1h2m3 0h1m3 0h1m5 0h1m1 0h1m8 0h1m4 0h1m2 0h1m6 0h1m8 0h2m12 0h1m3 0h2M0 2h1m3 0h1m1 0h1m3 0h1m13 0h1m6 0h1m3 0h2m1 0h1m1 0h1m1 0h1m1 0h2m3 0h1m5 0h1m6 0h1m1 0h2m9 0h2m2 0h1M4 3h1m3 0h1m7 0h1m1 0h1m2 0h2m1 0h1m3 0h1m3 0h1m2 0h1m3 0h1m1 0h1m9 0h2m4 0h1m3 0h2m1 0h2m9 0h1m6 0h1M2 4h1m3 0h1m1 0h2m5 0h3m3 0h3m4 0h1m1 0h1m1 0h1m5 0h1m2 0h1m6 0h1m14 0h1m1 0h1m9 0h1m3 0h1M1 5h1m3 0h1m2 0h1m4 0h1m1 0h1m2 0h1m1 0h1m2 0h1m1 0h1m3 0h2m5 0h2m7 0h1m4 0h1m3 0h1m9 0h1m2 0h1m6 0h2m4 0h1m1 0h2M5 6h1m2 0h1m6 0h2m5 0h1m2 0h1m6 0h1m3 0h2m4 0h1m1 0h1m10 0h1m2 0h1m1 0h1m6 0h1m2 0h1m2 0h3m5 0h1m1 0h1M3 7h2m3 0h2m5 0h2m4 0h1m1 0h1m3 0h1m2 0h1m2 0h2m21 0h1m1 0h1m3 0h1m7 0h2m4 0h2m2 0h2M0 8h1m2 0h1m9 0h1m1 0h1m4 0h2m9 0h1m7 0h2m8 0h1m8 0h3m20 0h1M0 9h3m1 0h1m1 0h1m8 0h1m8 0h1m4 0h2m3 0h1m14 0h3m2 0h1m6 0h1m3 0h1m4 0h1m1 0h1m2 0h1m3 0h1M2 10h2m16 0h1m23 0h1m9 0h2m1 0h1M0 11h1m1 0h1m38 0h1m6 0h1m27 0h1M2 12h1m4 0h1m2 0h1m2 0h1m1 0h1m4 0h1m15 0h2m2 0h1m2 0h1m2 0h1m6 0h1m1 0h1m10 0h2m12 0h1M0 13h1m1 0h1m1 0h1m7 0h1m13 0h1m3 0h1m5 0h1m4 0h1m13 0h1m1 0h1m2 0h1m15 0h1M3 14h2m2 0h1m15 0h1m1 0h1m7 0h2m7 0h1m1 0h1m15 0h1m7 0h1m6 0h1M3 15h1m4 0h1m4 0h1m4 0h1m2 0h1m2 0h1m1 0h1m1 0h1m8 0h1m3 0h2m1 0h1m1 0h1m9 0h3m1 0h4m1 0h3M2 16h1m9 0h1m2 0h1m2 0h1m4 0h1m2 0h2m2 0h1m7 0h1m12 0h1m10 0h3m7 0h1m3 0h1m2 0h1M15 17h1m5 0h2m8 0h3m4 0h1m1 0h1m3 0h1m8 0h1m1 0h1m1 0h1m4 0h1m3 0h1m10 0h1m2 0h1m1 0h2M3 18h1m3 0h1m5 0h1m1 0h2m6 0h1m1 0h2m13 0h1m1 0h1m3 0h1m4 0h1m12 0h1m9 0h1m8 0h1M20 19h2m21 0h1m5 0h1m4 0h1m7 0h1m17 0h1m2 0h1M4 20h4m4 0h2m1 0h1m1 0h1m2 0h1m1 0h2m12 0h1m8 0h2m2 0h3m5 0h1m8 0h1m4 0h1m8 0h1M2 21h3m1 0h1m3 0h1m7 0h2m7 0h3m1 0h2m12 0h1m1 0h1m17 0h1m2 0h1m1 0h1m4 0h1M3 22h2m2 0h1m7 0h1m1 0h4m7 0h1m18 0h1m9 0h1m7 0h1m1 0h2m7 0h2M5 23h2m6 0h1m1 0h2m1 0h1m3 0h1m1 0h1m6 0h1m3 0h1m4 0h1m6 0h1m2 0h1m1 0h1m4 0h1m6 0h1m6 0h1m1 0h1M5 24h1m2 0h1m9 0h1m6 0h1m1 0h1m4 0h1m1 0h1m5 0h1m4 0h1m9 0h1m16 0h1m1 0h1m1 0h2M11 25h1m15 0h1m4 0h1m3 0h1m7 0h1m4 0h1m18 0h1m1 0h1m5 0h2m1 0h1m2 0h1M7 26h1m5 0h3m6 0h1m3 0h1m1 0h2m2 0h1m2 0h1m1 0h1m1 0h1m4 0h1m3 0h2m5 0h1m1 0h1m2 0h1m3 0h2m3 0h1m2 0h1m3 0h2m1 0h3M6 27h1m1 0h1m8 0h1m7 0h1m1 0h1m15 0h2m3 0h1m4 0h1m6 0h2m1 0h2m1 0h2m2 0h1m2 0h2M13 28h2m12 0h1m14 0h1m2 0h1m2 0h4m13 0h1m1 0h1m4 0h1m4 0h1M6 29h1m9 0h1m9 0h1m2 0h1m2 0h1m15 0h1m1 0h1m4 0h1m4 0h1m7 0h1m7 0h1m2 0h1M3 30h1m6 0h1m5 0h1m9 0h1m1 0h1m6 0h1m24 0h1m1 0h1m4 0h1m9 0h1m2 0h1M0 31h1m5 0h1m3 0h1m1 0h1m3 0h1m3 0h2m3 0h1m5 0h1m4 0h1m8 0h1m11 0h2m1 0h1m2 0h1m4 0h1m3 0h1m3 0h2m1 0h3M2 32h2m31 0h1m12 0h1m11 0h1m6 0h1m4 0h1m2 0h1m3 0h1m1 0h1M0 33h1m2 0h1m1 0h2m1 0h1m5 0h1m1 0h1m12 0h1m1 0h2m6 0h3m9 0h1m4 0h3m8 0h1m5 0h1m2 0h1m4 0h1m1 0h1M8 34h2m7 0h1m3 0h2m2 0h2m15 0h1m2 0h1m29 0h1m4 0h1M1 35h2m1 0h1m1 0h2m8 0h1m9 0h1m1 0h2m8 0h1m1 0h1m10 0h2m14 0h1m2 0h1m5 0h1m1 0h1M3 36h1m1 0h1m12 0h1m10 0h1m6 0h1m9 0h1m26 0h1m1 0h3M16 37h1m21 0h2m4 0h1m13 0h3m8 0h1m1 0h1m11 0h1M7 38h1m14 0h1m3 0h2m4 0h1m6 0h1m4 0h4m12 0h1m1 0h1m4 0h1m7 0h1M5 39h1m11 0h1m10 0h1m1 0h1m1 0h1m24 0h2m1 0h1m4 0h1m11 0h1m2 0h1"/>
<path stroke="#2a002f" d="M9 0h1m24 0h1m16 0h1m21 0h1m4 0h1M8 1h1m22 0h1m18 0h1m12 0h1m10 0h1m8 0h1M2 2h1m6 0h1m9 0h2m8 0h1m27 0h1m22 0h1M6 3h1m4 0h1m24 0h1m9 0h1M7 4h1m5 0h1m10 0h1m20 0h1m14 0h1M21 5h1m6 0h1m13 0h1m15 0h1m19 0h1M18 6h1m15 0h1m21 0h1m20 0h2M19 7h1m16 0h1m5 0h1m8 0h1m3 0h1m9 0h1m12 0h1M19 8h1m25 0h2m25 0h1M19 9h1m42 0h1M13 10h1m5 0h1m6 0h1m32 0h1m1 0h1m9 0h1m6 0h1M34 11h1m11 0h1m18 0h1m12 0h1M19 12h1m12 0h1m21 0h1m16 0h1M3 13h1m1 0h1m4 0h1m9 0h1m1 0h2m11 0h1m4 0h1m18 0h1m4 0h2m4 0h1m7 0h1M15 14h1m30 0h1m5 0h1m6 0h1M80 15h1m1 0h1M29 17h1m40 0h1M1 19h1m2 0h1m5 0h1m17 0h1m3 0h1m25 0h1m14 0h1m3 0h1M68 20h1M34 21h1m43 0h1M31 22h1m5 0h1m5 0h1m8 0h1m11 0h1M0 23h1m71 0h1m3 0h1m4 0h1m1 0h1M24 24h1m6 0h1m9 0h1m40 0h1M6 25h1m11 0h1m11 0h1m9 0h1m9 0h1m9 0h1M5 27h1m12 0h1m10 0h1m4 0h1m5 0h1M7 28h1m16 0h1m12 0h1m40 0h1m3 0h1M78 29h1M30 30h2m14 0h1M13 31h1m47 0h1M11 32h1m15 0h1m25 0h1m20 0h1M12 33h1m33 0h1M64 34h1m4 0h1m3 0h1M5 35h1m65 0h1M15 36h1M14 37h2m30 0h1M10 38h1m10 0h1m16 0h1m44 0h1M43 39h1m7 0h1m24 0h1"/>
<path stroke="#150018" d="M7 0h1m7 0h1m22 0h1m10 0h1m7 0h1m3 0h1m5 0h1M5 1h1m8 0h1m3 0h1m15 0h1m1 0h1m10 0h1m3 0h1m6 0h1m9 0h1m9 0h1M1 2h1m3 0h1m12 0h1m18 0h1m22 0h1m9 0h1M1 3h1m1 0h1m10 0h2m11 0h1m9 0h1m6 0h1M4 4h1m9 0h1m10 0h1m55 0h1M9 5h3m2 0h1m42 0h1m1 0h1M4 6h1m5 0h1m10 0h1m13 0h1m7 0h1m9 0h2m11 0h1m9 0h1M25 7h1m6 0h1m8 0h1m2 0h1m14 0h1M4 8h1m6 0h2m24 0h1m3 0h1m10 0h1m17 0h1M5 9h1m2 0h1m5 0h1m1 0h1m3 0h1m21 0h1m1 0h1m3 0h1m8 0h1m18 0h1m1 0h1M1 11h1m26 0h1m2 0h1M0 12h1m7 0h2m13 0h1m10 0h1m4 0h1m18 0h1m2 0h1M1 13h1m9 0h1m35 0h1m3 0h1m2 0h1m11 0h1M5 14h1m6 0h1m13 0h1m8 0h1m20 0h3m4 0h1m8 0h1m3 0h1m5 0h1M0 15h1m11 0h1m4 0h1m4 0h1m8 0h1m11 0h1m6 0h1m18 0h1m2 0h1m3 0h1m4 0h1M0 16h1m3 0h1m9 0h1m2 0h1m7 0h1m2 0h1m4 0h1m1 0h1m5 0h2m1 0h1m3 0h1m4 0h1m6 0h1m4 0h1m16 0h1M1 17h1m8 0h1m5 0h1m3 0h1m3 0h1m39 0h1m7 0h1m2 0h1M8 18h2m1 0h1m12 0h1m9 0h2m21 0h1m20 0h1M7 19h1m1 0h1m8 0h1m6 0h1m1 0h1m10 0h1m13 0h1m17 0h1M3 20h1m27 0h1m3 0h1m11 0h1m10 0h1m1 0h1m4 0h1m4 0h1m7 0h1M7 21h2m8 0h1m15 0h1m3 0h1m11 0h1m5 0h2m1 0h1m2 0h1m9 0h1m1 0h1M6 22h1m14 0h1m18 0h2m13 0h2m3 0h1m1 0h1m6 0h1m2 0h1m6 0h1M9 23h1m17 0h2m14 0h1m11 0h1m9 0h1m4 0h1m11 0h1M0 24h2m1 0h2m5 0h1m6 0h1m20 0h1M16 25h1m8 0h1m17 0h1m37 0h1m1 0h1M4 26h1m16 0h1M7 27h1m4 0h1m2 0h1m8 0h1m1 0h1m3 0h1m5 0h1m2 0h1m5 0h1m25 0h1m9 0h1M0 28h1m19 0h1m15 0h1m18 0h1m18 0h1M42 29h1m11 0h1M12 30h2m18 0h2m10 0h1m5 0h1m8 0h1m3 0h2m17 0h1M3 31h1m1 0h1m5 0h1m23 0h1m2 0h1m12 0h1M59 32h1M19 33h2m14 0h2m16 0h1m5 0h2m2 0h1m1 0h1m6 0h1m5 0h1M3 34h1m1 0h1m8 0h1m14 0h1m10 0h1m6 0h1m3 0h1m1 0h1m5 0h2M32 35h1m2 0h1M1 36h2m3 0h1m5 0h1m14 0h1m4 0h2m6 0h1m14 0h1m2 0h1m2 0h1m4 0h2M2 37h1m4 0h1m9 0h1m19 0h1m12 0h1m2 0h1m1 0h1m1 0h1m17 0h1M2 38h1m8 0h1m4 0h1m6 0h1m1 0h1m14 0h1m16 0h1m7 0h1m3 0h1m12 0h1M9 39h2m12 0h1m18 0h1m6 0h1m3 0h1m1 0h1m3 0h1m6 0h2m5 0h1m1 0h1m2 0h1m3 0h1"/>
<path stroke="#000000" d="M12 0h1m4 0h1m9 0h1m9 0h1m1 0h1m8 0h1m5 0h1m5 0h1m1 0h1m1 0h1M1 1h1m1 0h1m15 0h1m9 0h1m19 0h1m5 0h1m1 0h1m1 0h1M21 2h2m5 0h1m5 0h1m46 0h1M9 3h1m20 0h1m3 0h1m15 0h1m5 0h1m1 0h1m8 0h1m3 0h1m1 0h1m7 0h1m1 0h1M5 4h1m25 0h1m8 0h1m6 0h1m10 0h1m2 0h2m4 0h1m4 0h1M31 5h1m1 0h1m4 0h1m1 0h1m7 0h1m13 0h1m2 0h2m4 0h3M11 6h1m28 0h2m4 0h1m1 0h1m1 0h2M2 7h1m35 0h1m25 0h1M1 8h2m6 0h1m6 0h1m40 0h1m6 0h1m1 0h1m4 0h1m1 0h1m5 0h1M3 9h1m14 0h1m14 0h1m6 0h1m2 0h1m2 0h1m8 0h2m2 0h2m7 0h1m8 0h1m2 0h1m2 0h1M4 10h1M14 11h1m5 0h1M1 12h1m2 0h2m5 0h1m21 0h1m13 0h1m34 0h1M9 13h1m7 0h1m20 0h1m5 0h1m1 0h1m5 0h2m4 0h1M21 14h1m5 0h1m3 0h2m15 0h1m2 0h1m3 0h1m5 0h2m15 0h1m2 0h1M6 15h1m9 0h1m8 0h1m1 0h1m17 0h1m2 0h1m2 0h2m18 0h1M3 16h1m3 0h1m3 0h1m10 0h1m8 0h1m11 0h1m1 0h1m9 0h1m1 0h1m3 0h1m6 0h1M6 17h1m7 0h1m10 0h1m2 0h1m14 0h1m14 0h2m5 0h1m3 0h1m9 0h1M5 18h1m27 0h1m7 0h1m25 0h1m3 0h3M16 19h1m23 0h1m9 0h1m2 0h1m22 0h1m5 0h1M14 20h1m3 0h1m7 0h1m5 0h1m1 0h1m2 0h1m1 0h1m22 0h2m12 0h1M0 21h2m7 0h1m3 0h1m1 0h1m5 0h1m1 0h1m2 0h1m12 0h1m2 0h2m9 0h2m8 0h1m5 0h1m2 0h1M0 22h1m1 0h1m6 0h1m1 0h1m20 0h1m13 0h1m23 0h1m9 0h2M7 23h1m13 0h1m17 0h1m14 0h1m1 0h1m10 0h1m9 0h2M12 24h1m13 0h1m10 0h1m23 0h1m7 0h1M19 25h1m14 0h1m7 0h1m4 0h1m8 0h1m2 0h1m20 0h1M4 27h1m23 0h1m22 0h1m13 0h1m10 0h1M11 28h1m9 0h1m4 0h1m2 0h1m43 0h1m6 0h1M1 29h1m13 0h1m7 0h1m10 0h1m37 0h1M4 30h1m3 0h1m9 0h1m3 0h1m11 0h1m1 0h1m11 0h1m6 0h1m2 0h1m2 0h1m9 0h1m4 0h1M7 31h1m6 0h1m11 0h1m2 0h1m9 0h1m1 0h1m8 0h1m13 0h1M70 32h1M13 33h1m1 0h1m6 0h1m11 0h1m3 0h1m8 0h1m31 0h1m2 0h1M4 34h1m6 0h1m4 0h1m13 0h1m7 0h1m15 0h1m1 0h1m13 0h1m11 0h1M12 35h1m9 0h1m8 0h1m45 0h1M10 36h1m9 0h1m16 0h2m5 0h1m9 0h1m1 0h1m2 0h1m3 0h1M0 37h1m3 0h1m3 0h1m2 0h1m28 0h1m7 0h2m4 0h1m6 0h1m16 0h1m2 0h1M15 38h1m17 0h1m3 0h1m11 0h1m1 0h1m7 0h1m13 0h1m4 0h1M2 39h1m9 0h1m14 0h1m1 0h1m7 0h1m6 0h2m4 0h1m1 0h1m1 0h1m6 0h1"/>
<path stroke="#181800" d="M48 1h1M47 3h1m31 0h1M47 6h1M74 8h1M58 9h1M45 14h1M15 15h1M36 17h1M28 18h1m34 0h1M24 19h1M60 21h1M19 23h1m41 0h1M15 24h1M26 25h1M2 28h1M39 30h1m41 0h1M48 31h1M37 33h1M1 34h1M10 35h1m22 0h1M30 36h1M18 37h1M8 39h1"/>
<path stroke="#464600" d="M46 0h1m29 0h1M33 2h1M11 7h1M18 8h1m48 0h1M53 9h1M75 13h1M49 16h1M2 17h1M36 18h1m23 0h1M79 19h1M24 30h1m15 0h1M24 31h1M27 33h1M19 34h1M37 35h1m27 0h1m3 0h1M16 36h1M12 37h1M68 38h1M36 39h1"/>
<path stroke="#5e5e00" d="M49 3h1M26 4h1M28 8h1m32 0h1M28 9h1M43 14h1m26 0h1M23 15h1m50 0h1m3 0h1M19 16h1m46 0h1m16 0h1M41 17h1M18 18h1m61 0h1M5 19h1m53 0h1M19 20h1m22 0h1M50 21h1m29 0h1M61 22h1M26 23h1m35 0h1M23 24h1M38 25h1m26 0h1M33 27h1M42 30h1m27 0h1M23 31h1M23 33h1m20 0h1m29 0h1M0 34h1m43 0h1M45 35h1M19 36h1m22 0h1m35 0h1M33 37h1m9 0h1m21 0h1M17 38h1m23 0h1m13 0h1m7 0h1M40 39h1m7 0h1"/>
<path stroke="#767600" d="M35 1h1M12 5h1m31 0h1M27 6h1M8 8h1m56 0h1M31 9h1M14 12h1m64 0h1M74 13h1M9 14h1m27 0h1m39 0h1M64 15h1M10 16h1m9 0h1m52 0h1M74 17h1M22 18h1m30 0h1m1 0h1m19 0h1M0 20h1m8 0h1m19 0h1m47 0h1M78 22h1M50 24h1m6 0h1M15 25h1m57 0h1M23 27h1m48 0h1m4 0h1m2 0h1M34 28h1m27 0h1M4 31h1m17 0h1m21 0h1m7 0h1M18 33h1m29 0h1M24 34h1m12 0h1m5 0h1M13 35h1m34 0h1M35 36h1m17 0h1M3 38h1m52 0h1m4 0h1"/>
<path stroke="#8d8d00" d="M55 4h1M47 5h1M14 7h1M35 8h1m8 0h1M11 9h1m69 0h2M8 13h1m12 0h1m34 0h1M18 14h1M36 16h1m10 0h1M8 17h1m38 0h1M63 19h1M45 22h1M32 23h1M9 25h1M11 27h1m19 0h1m36 0h1M64 28h1m10 0h1m5 0h1M17 30h1m7 0h1m47 0h1M47 31h1m5 0h1m2 0h1m2 0h1M21 33h1m6 0h1m16 0h1M34 34h1m17 0h1m4 0h2M18 35h1m64 0h1M62 36h1m18 0h1M6 37h1m14 0h1m46 0h1M29 38h1"/>
<path stroke="#a4a400" d="M7 3h1M11 4h1M13 7h1M6 8h1m27 0h1M38 12h1m37 0h1M73 14h1M4 15h1M56 16h1M45 18h1M61 20h1m7 0h1M5 21h1m34 0h1m3 0h1m36 0h1M49 22h1M8 23h1m5 0h1m48 0h1M52 24h1M19 27h1m12 0h1m16 0h1m2 0h1m26 0h1M9 28h1m6 0h1m44 0h1M21 30h1m25 0h1M19 31h1M10 34h1m44 0h1M21 35h1m2 0h1M8 36h1m8 0h1m53 0h1M1 37h1m22 0h1m6 0h1m50 0h1M1 38h1m51 0h1m16 0h1M13 39h1m67 0h1"/>
<path stroke="#bcbc00" d="M17 5h1M52 6h1m6 0h1M36 8h1m32 0h1m8 0h1M26 11h1M31 12h1m25 0h1M20 15h1M59 16h1M9 17h1m20 0h1m23 0h1M75 19h1M21 20h1m59 0h1m1 0h1M8 22h1m39 0h1M21 24h1m43 0h1M43 31h1m30 0h1M32 34h1m41 0h1M49 35h1m7 0h1M70 36h1M72 38h1M16 39h1m9 0h1"/>
</g></g></g>
<g class="si" font-size="18.9" text-anchor="end" fill="#1c1c1c"><text x="481.2" y="659.8">GBP5</text><text x="481.2" y="677.7">WARS</text><text x="481.2" y="695.6">GBP1</text><text x="481.2" y="713.5">CD74</text><text x="481.2" y="731.4">FAM26F</text><text x="481.2" y="749.3">TAP1</text><text x="481.2" y="767.3">HLA-DRA</text><text x="481.2" y="785.2">SOCS1</text><text x="481.2" y="803.1">GLUL</text><text x="481.2" y="821">IRF1</text><text x="481.2" y="838.9">SERPING1</text><text x="481.2" y="856.8">IL18BP</text><text x="481.2" y="874.7">HLA-DRB1</text><text x="481.2" y="892.6">GBP4</text><text x="481.2" y="910.5">HLA-DRB5</text><text x="481.2" y="928.4">IFI27</text><text x="481.2" y="946.4">CTSL</text><text x="481.2" y="964.3">TMSB10</text><text x="481.2" y="982.2">ETV7</text><text x="481.2" y="1000.1">IFITM1</text><text x="481.2" y="1018">PSMB9</text><text x="481.2" y="1035.9">GSDMD</text><text x="481.2" y="1053.8">TMEM176B</text><text x="481.2" y="1071.7">SOD2</text><text x="481.2" y="1089.6">PSME2</text><text x="481.2" y="1107.5">NCF1</text><text x="481.2" y="1125.5">GBP2</text><text x="481.2" y="1143.4">HLA-E</text><text x="481.2" y="1161.3">B2M</text><text x="481.2" y="1179.2">HLA-DQB1</text><text x="481.2" y="1197.1">FCGR1A</text><text x="481.2" y="1215">MSRB1</text><text x="481.2" y="1232.9">HLA-DPA1</text><text x="481.2" y="1250.8">CTSS</text><text x="481.2" y="1268.7">STAT1</text><text x="481.2" y="1286.7">FCGR1B</text><text x="481.2" y="1304.6">LAP3</text><text x="481.2" y="1322.5">JAK2</text><text x="481.2" y="1340.4">CTSZ</text><text x="481.2" y="1358.3">SLC31A2</text></g>
<text class="d" font-size="56" x="300" y="632.8">b</text>
<defs><linearGradient id="cb" x1="0" y1="0" x2="0" y2="1"><stop offset="0" stop-color="#cf45a4"/><stop offset="0.25" stop-color="#8f2f78"/><stop offset="0.5" stop-color="#1c0a1a"/><stop offset="0.56" stop-color="#1a1600"/><stop offset="0.8" stop-color="#a79f06"/><stop offset="1" stop-color="#f3ea0c"/></linearGradient></defs>
<rect x="1720.2" y="744" width="16.8" height="146.5" fill="url(#cb)"/>
<text class="d" font-size="22" text-anchor="middle" fill="#111" x="1729.3" y="719">-</text>
<text class="d" font-size="22" text-anchor="middle" fill="#111" x="1728.6" y="932.6">+</text>
<text class="d" font-size="19.2" fill="#111" textLength="234" lengthAdjust="spacingAndGlyphs" transform="translate(1762.5 700.7) rotate(90)">Scaled mRNA expression</text>
<text class="di" font-size="22" text-anchor="middle" fill="#111" textLength="107" lengthAdjust="spacingAndGlyphs" x="1766.3" y="1055.5">mixscape</text>
<path d="M1695.2 1067.4H1838M1645.4 1101V1244" stroke="#111" stroke-width="3.8" fill="none"/>
<text class="d" font-size="21.5" text-anchor="middle" fill="#222" x="1731.6" y="1094">NP</text>
<text class="d" font-size="21.5" text-anchor="middle" fill="#222" x="1799" y="1094">KO</text>
<text class="d" font-size="22.5" text-anchor="end" fill="#222" x="1690.3" y="1144.6">NP</text>
<text class="d" font-size="22.5" text-anchor="end" fill="#222" x="1690.3" y="1214">KO</text>
<text class="d" font-size="23.5" text-anchor="middle" fill="#222" textLength="76.5" lengthAdjust="spacingAndGlyphs" transform="translate(1635.5 1169.3) rotate(-90)">MUSIC</text>
<rect x="1695.5" y="1102.8" width="71.4" height="70.8" fill="#A3A236" stroke="#1f1f1f" stroke-width="3.6"/>
<rect x="1766.3" y="1102.8" width="71.4" height="70.8" fill="#2DB27C" stroke="#1f1f1f" stroke-width="3.6"/>
<rect x="1695.5" y="1173.6" width="71.4" height="70.8" fill="#2BA9E0" stroke="#1f1f1f" stroke-width="3.6"/>
<rect x="1766.3" y="1173.6" width="71.4" height="70.8" fill="#B575B0" stroke="#1f1f1f" stroke-width="3.6"/>
<text class="d" font-size="19.5" text-anchor="middle" fill="#1f1f1f" x="1731" y="1133.3">A</text>
<text class="d" font-size="19.5" text-anchor="middle" fill="#1f1f1f" x="1731" y="1156.3">n=217</text>
<text class="d" font-size="19.5" text-anchor="middle" fill="#1f1f1f" x="1801.8" y="1133.3">B</text>
<text class="d" font-size="19.5" text-anchor="middle" fill="#1f1f1f" x="1801.8" y="1156.3">n=29</text>
<text class="d" font-size="19.5" text-anchor="middle" fill="#1f1f1f" x="1731" y="1207.6">C</text>
<text class="d" font-size="19.5" text-anchor="middle" fill="#1f1f1f" x="1731" y="1230.6">n=89</text>
<text class="d" font-size="19.5" text-anchor="middle" fill="#1f1f1f" x="1801.8" y="1202.6">D</text>
<text class="d" font-size="19.5" text-anchor="middle" fill="#1f1f1f" x="1801.8" y="1225.6">n=856</text>
<rect x="1725.3" y="1281.2" width="70.6" height="70" fill="#F27470" stroke="#1f1f1f" stroke-width="3.4"/>
<text class="d" font-size="19.5" text-anchor="middle" fill="#1f1f1f" x="1760.6" y="1311">NT</text>
<text class="d" font-size="19.5" text-anchor="middle" fill="#1f1f1f" x="1760.6" y="1333.6">n=10</text>
<text class="d" font-size="19.5" text-anchor="middle" fill="#1f1f1f" x="1760.6" y="1356">0</text>
</g>
<g id="panel_c">
<path d="M844.4 1467.8C844.7 1471.1 845.3 1479.3 846.3 1487.3C847.3 1495.3 849.3 1507.8 850.5 1515.7C851.6 1523.6 852.3 1528.3 853.3 1534.6C854.3 1541 855.3 1547.3 856.5 1553.6C857.7 1559.9 859.1 1566.2 860.5 1572.5C861.9 1578.8 863.2 1585.1 864.7 1591.4C866.1 1597.7 867.6 1604 869 1610.4C870.4 1616.7 871.9 1624.6 873.2 1629.3C874.5 1634 875.5 1635.6 877 1638.8C878.4 1641.9 879.8 1645.1 881.7 1648.2C883.6 1651.4 886.3 1654.5 888.3 1657.7C890.4 1660.8 892.5 1664 894 1667.1C895.5 1670.3 896.7 1673.9 897.4 1676.6C898.1 1679.3 898.3 1680.7 898.2 1683.2C898.1 1685.8 897.8 1688.8 896.8 1691.8C895.8 1694.7 894.3 1698.1 892.1 1701.2C889.9 1704.4 886.6 1707.5 883.6 1710.7C880.6 1713.8 877.3 1717 874.1 1720.1C871 1723.3 867.5 1726.5 864.7 1729.6C861.8 1732.8 859.5 1735.9 857.1 1739.1C854.7 1742.2 852.3 1745.4 850.5 1748.5C848.7 1751.7 847.2 1755.1 846.3 1758C845.4 1760.9 845 1764.6 844.8 1766L837.2 1766C837 1764.6 836.6 1760.9 835.7 1758C834.8 1755.1 833.3 1751.7 831.5 1748.5C829.7 1745.4 827.3 1742.2 824.9 1739.1C822.5 1735.9 820.2 1732.8 817.3 1729.6C814.5 1726.5 811 1723.3 807.9 1720.1C804.7 1717 801.4 1713.8 798.4 1710.7C795.4 1707.5 792.1 1704.4 789.9 1701.2C787.7 1698.1 786.2 1694.7 785.2 1691.8C784.2 1688.8 783.9 1685.8 783.8 1683.2C783.7 1680.7 783.9 1679.3 784.6 1676.6C785.3 1673.9 786.5 1670.3 788 1667.1C789.5 1664 791.6 1660.8 793.7 1657.7C795.7 1654.5 798.4 1651.4 800.3 1648.2C802.2 1645.1 803.6 1641.9 805 1638.8C806.5 1635.6 807.5 1634 808.8 1629.3C810.1 1624.6 811.6 1616.7 813 1610.4C814.4 1604 815.9 1597.7 817.3 1591.4C818.8 1585.1 820.1 1578.8 821.5 1572.5C822.9 1566.2 824.3 1559.9 825.5 1553.6C826.7 1547.3 827.7 1541 828.7 1534.6C829.7 1528.3 830.4 1523.6 831.5 1515.7C832.7 1507.8 834.7 1495.3 835.7 1487.3C836.7 1479.3 837.3 1471.1 837.6 1467.8Z" fill="#F8766D" stroke="#333" stroke-width="1.1" stroke-linejoin="round"/>
<path d="M969.5 1464.2C969.6 1469.7 969.4 1489.8 969.9 1496.8C970.3 1503.8 971.2 1503.1 972.3 1506.3C973.5 1509.4 975.1 1512.6 976.7 1515.7C978.3 1518.9 980.2 1522 981.8 1525.2C983.4 1528.3 985 1531.5 986.5 1534.6C988.1 1537.8 990 1541 991.3 1544.1C992.5 1547.3 993 1548.8 994.1 1553.6C995.2 1558.3 996.7 1566.2 997.9 1572.5C999.1 1578.8 1000.2 1585.1 1001.3 1591.4C1002.4 1597.7 1003.2 1604 1004.5 1610.4C1005.8 1616.7 1007.3 1623 1008.9 1629.3C1010.4 1635.6 1012.5 1643.5 1014 1648.2C1015.5 1652.9 1016.4 1654.5 1017.8 1657.7C1019.1 1660.8 1021.1 1664 1022.1 1667.1C1023.2 1670.3 1023.6 1673.9 1024 1676.6C1024.4 1679.3 1024.6 1680.7 1024.4 1683.2C1024.1 1685.8 1023.8 1688.8 1022.5 1691.8C1021.2 1694.7 1019.7 1697.4 1016.8 1701.2C1014 1705 1008.8 1710.7 1005.5 1714.5C1002.1 1718.3 999.6 1720.8 996.9 1723.9C994.3 1727.1 991.7 1730.2 989.4 1733.4C987.1 1736.5 985 1739.7 983.1 1742.9C981.2 1746 979.6 1749.2 978 1752.3C976.4 1755.5 974.8 1758.3 973.7 1761.8C972.6 1765.3 971.8 1771.3 971.4 1773.1L963.8 1773.1C963.4 1771.3 962.6 1765.3 961.5 1761.8C960.4 1758.3 958.8 1755.5 957.2 1752.3C955.6 1749.2 954 1746 952.1 1742.9C950.2 1739.7 948.1 1736.5 945.8 1733.4C943.5 1730.2 940.9 1727.1 938.3 1723.9C935.6 1720.8 933.1 1718.3 929.7 1714.5C926.4 1710.7 921.2 1705 918.4 1701.2C915.5 1697.4 914 1694.7 912.7 1691.8C911.4 1688.8 911.1 1685.8 910.8 1683.2C910.6 1680.7 910.8 1679.3 911.2 1676.6C911.6 1673.9 912 1670.3 913.1 1667.1C914.1 1664 916.1 1660.8 917.4 1657.7C918.8 1654.5 919.7 1652.9 921.2 1648.2C922.7 1643.5 924.8 1635.6 926.3 1629.3C927.9 1623 929.4 1616.7 930.7 1610.4C932 1604 932.8 1597.7 933.9 1591.4C935 1585.1 936.1 1578.8 937.3 1572.5C938.5 1566.2 940 1558.3 941.1 1553.6C942.2 1548.8 942.7 1547.3 943.9 1544.1C945.2 1541 947.1 1537.8 948.7 1534.6C950.2 1531.5 951.8 1528.3 953.4 1525.2C955 1522 956.9 1518.9 958.5 1515.7C960.1 1512.6 961.7 1509.4 962.9 1506.3C964 1503.1 964.9 1503.8 965.3 1496.8C965.8 1489.8 965.6 1469.7 965.7 1464.2Z" fill="#A3A500" stroke="#333" stroke-width="1.1" stroke-linejoin="round"/>
<path d="M1119 1670.6C1121.5 1672.5 1129.9 1678 1134.2 1682C1138.6 1685.9 1142.4 1690 1145.1 1694.1C1147.8 1698.1 1149.3 1702.5 1150.4 1706.2C1151.6 1709.8 1152.3 1711.8 1151.9 1715.8C1151.5 1719.9 1149.1 1725.9 1148 1730.3C1147 1734.8 1145.9 1738.4 1145.6 1742.4C1145.3 1746.5 1146.6 1750.9 1146.1 1754.5C1145.6 1758.2 1144.9 1761 1142.7 1764.2C1140.5 1767.4 1136.8 1770.7 1133 1773.9C1129.2 1777.1 1123.5 1780.4 1119.7 1783.6C1115.9 1786.8 1112.6 1790 1110 1793.3C1107.5 1796.5 1105.9 1799.7 1104.5 1802.9C1103.1 1806.2 1102 1811 1101.6 1812.6L1087 1812.6C1086.6 1811 1085.5 1806.2 1084.1 1802.9C1082.7 1799.7 1081.1 1796.5 1078.6 1793.3C1076 1790 1072.7 1786.8 1068.9 1783.6C1065.1 1780.4 1059.4 1777.1 1055.6 1773.9C1051.8 1770.7 1048.1 1767.4 1045.9 1764.2C1043.7 1761 1043 1758.2 1042.5 1754.5C1042 1750.9 1043.3 1746.5 1043 1742.4C1042.7 1738.4 1041.6 1734.8 1040.6 1730.3C1039.5 1725.9 1037.1 1719.9 1036.7 1715.8C1036.3 1711.8 1037 1709.8 1038.2 1706.2C1039.3 1702.5 1040.8 1698.1 1043.5 1694.1C1046.2 1690 1050 1685.9 1054.4 1682C1058.7 1678 1067.1 1672.5 1069.6 1670.6Z" fill="#00BF7D" stroke="#333" stroke-width="1.1" stroke-linejoin="round"/>
<path d="M1223 1460.6C1223 1465.2 1223 1479.7 1223.2 1488.4C1223.4 1497.1 1223.8 1504.5 1224.2 1512.6C1224.6 1520.7 1225 1530.7 1225.6 1536.8C1226.3 1542.8 1227.2 1544.8 1228.1 1548.9C1228.9 1552.9 1230.1 1556.9 1231 1561C1231.8 1565 1232.7 1569 1233.4 1573.1C1234.1 1577.1 1234.6 1581.1 1235.3 1585.2C1236 1589.2 1236.4 1593.2 1237.7 1597.3C1239 1601.3 1241 1605.3 1243.1 1609.4C1245.1 1613.4 1247.5 1617.4 1249.8 1621.5C1252.2 1625.5 1254.5 1629.5 1257.1 1633.6C1259.7 1637.6 1262.9 1641.6 1265.6 1645.7C1268.2 1649.7 1270.9 1654.1 1272.8 1657.8C1274.7 1661.4 1276.1 1664.6 1276.9 1667.4C1277.8 1670.3 1278 1672.3 1277.9 1674.7C1277.8 1677.1 1277.7 1678.7 1276.4 1682C1275.2 1685.2 1272.8 1690 1270.4 1694.1C1268 1698.1 1264.8 1702.1 1261.9 1706.2C1259.1 1710.2 1256.3 1714.2 1253.5 1718.2C1250.6 1722.3 1247.7 1726.3 1245 1730.3C1242.3 1734.4 1239.7 1738.4 1237.3 1742.4C1234.8 1746.5 1232.2 1750.9 1230.5 1754.5C1228.7 1758.2 1227.5 1761.7 1226.8 1764.2C1226.2 1766.7 1226.8 1768.7 1226.8 1769.5L1214.8 1769.5C1214.8 1768.7 1215.4 1766.7 1214.8 1764.2C1214.1 1761.7 1212.9 1758.2 1211.1 1754.5C1209.4 1750.9 1206.8 1746.5 1204.3 1742.4C1201.9 1738.4 1199.3 1734.4 1196.6 1730.3C1193.9 1726.3 1191 1722.3 1188.1 1718.2C1185.3 1714.2 1182.5 1710.2 1179.7 1706.2C1176.8 1702.1 1173.6 1698.1 1171.2 1694.1C1168.8 1690 1166.4 1685.2 1165.2 1682C1163.9 1678.7 1163.8 1677.1 1163.7 1674.7C1163.6 1672.3 1163.8 1670.3 1164.7 1667.4C1165.5 1664.6 1166.9 1661.4 1168.8 1657.8C1170.7 1654.1 1173.4 1649.7 1176 1645.7C1178.7 1641.6 1181.9 1637.6 1184.5 1633.6C1187.1 1629.5 1189.4 1625.5 1191.8 1621.5C1194.1 1617.4 1196.5 1613.4 1198.5 1609.4C1200.6 1605.3 1202.6 1601.3 1203.9 1597.3C1205.2 1593.2 1205.6 1589.2 1206.3 1585.2C1207 1581.1 1207.5 1577.1 1208.2 1573.1C1208.9 1569 1209.8 1565 1210.6 1561C1211.5 1556.9 1212.7 1552.9 1213.5 1548.9C1214.4 1544.8 1215.3 1542.8 1216 1536.8C1216.6 1530.7 1217 1520.7 1217.4 1512.6C1217.8 1504.5 1218.2 1497.1 1218.4 1488.4C1218.6 1479.7 1218.6 1465.2 1218.6 1460.6Z" fill="#00B0F6" stroke="#333" stroke-width="1.1" stroke-linejoin="round"/>
<path d="M1347.6 1564.6C1347.7 1578.3 1347.5 1632.2 1347.8 1646.9C1348 1661.6 1348.7 1650.3 1349.3 1652.9C1350 1655.5 1350.7 1659.4 1351.8 1662.6C1352.8 1665.8 1353.4 1669.1 1355.9 1672.3C1358.4 1675.5 1362.5 1678.7 1366.8 1682C1371 1685.2 1376.4 1688.4 1381.3 1691.6C1386.1 1694.9 1391.9 1698.5 1395.8 1701.3C1399.7 1704.1 1404.1 1706.2 1404.7 1708.6C1405.3 1711 1402.9 1712.2 1399.4 1715.8C1395.9 1719.5 1388.1 1725.9 1383.7 1730.3C1379.3 1734.8 1375.8 1738.4 1372.8 1742.4C1369.8 1746.5 1367.7 1750.5 1365.5 1754.5C1363.4 1758.6 1361.6 1762.6 1360 1766.6C1358.4 1770.7 1357.2 1774.7 1355.9 1778.7C1354.5 1782.8 1353 1786.6 1351.8 1790.8C1350.5 1795.1 1348.7 1801.9 1348.1 1804.1L1346.7 1804.1C1346.1 1801.9 1344.3 1795.1 1343 1790.8C1341.8 1786.6 1340.3 1782.8 1338.9 1778.7C1337.6 1774.7 1336.4 1770.7 1334.8 1766.6C1333.2 1762.6 1331.4 1758.6 1329.3 1754.5C1327.1 1750.5 1325 1746.5 1322 1742.4C1319 1738.4 1315.5 1734.8 1311.1 1730.3C1306.7 1725.9 1298.9 1719.5 1295.4 1715.8C1291.9 1712.2 1289.5 1711 1290.1 1708.6C1290.7 1706.2 1295.1 1704.1 1299 1701.3C1302.9 1698.5 1308.7 1694.9 1313.5 1691.6C1318.4 1688.4 1323.8 1685.2 1328 1682C1332.3 1678.7 1336.4 1675.5 1338.9 1672.3C1341.4 1669.1 1342 1665.8 1343 1662.6C1344.1 1659.4 1344.8 1655.5 1345.5 1652.9C1346.1 1650.3 1346.8 1661.6 1347 1646.9C1347.3 1632.2 1347.1 1578.3 1347.2 1564.6Z" fill="#E76BF3" stroke="#333" stroke-width="1.1" stroke-linejoin="round"/>
<path d="M804.6 1470.1h0M835.2 1491.8h0M870.2 1503.9h0M881.3 1507.8h0M867.4 1517.1h0M793.6 1529.7h0M826.7 1530.6h0M806.6 1537.1h0M891.9 1547.1h0M804.7 1550.6h0M814.9 1554.2h0M826.4 1559.5h0M796.2 1564.5h0M878.8 1567h0M854.9 1570.5h0M806.3 1576.7h0M840.8 1579.9h0M798 1582.8h0M852.3 1587.2h0M813.6 1589.6h0M793.9 1594.1h0M801.8 1594.8h0M846.6 1598.9h0M855 1601.6h0M823.1 1604.1h0M855.6 1607.5h0M825.9 1609.2h0M803.3 1613.4h0M822.2 1616.2h0M830.3 1616.8h0M883.1 1620.2h0M801.8 1622.2h0M798.8 1624.1h0M847.3 1628.5h0M888.3 1629.7h0M882.5 1631.3h0M861.4 1634.7h0M796.8 1635.9h0M872.3 1639.5h0M859.7 1640.1h0M804.7 1641.8h0M837.4 1644.1h0M795 1646.2h0M871.8 1648.3h0M863.3 1650.9h0M872.1 1652.3h0M867.6 1653.4h0M817.3 1654.5h0M870.6 1656.4h0M815.4 1659.3h0M804.1 1660h0M829.8 1661.9h0M840.8 1662.4h0M819.2 1663.9h0M851.8 1666.5h0M851.5 1667.5h0M814.5 1668.5h0M853.5 1669.9h0M826.4 1671h0M864.9 1672.5h0M819.6 1673.7h0M871.5 1676.1h0M832.3 1676.9h0M846.4 1677.8h0M858.7 1679.9h0M842.9 1680.5h0M816.3 1681.7h0M889.9 1683.7h0M799.8 1685.4h0M823.1 1685.6h0M846 1687.9h0M792.9 1688.5h0M805.8 1689.7h0M871.5 1690.9h0M869.9 1692.6h0M855 1694.6h0M882 1695.7h0M867.1 1697.6h0M820.5 1698.1h0M855.8 1699.7h0M824.7 1701h0M866.5 1703.6h0M829.2 1705.1h0M805.6 1705.8h0M879.4 1707.6h0M860.4 1709.1h0M866 1711.6h0M847.1 1712.1h0M869.9 1714h0M835.7 1716.7h0M847.7 1718.5h0M796.4 1722.2h0M846.6 1724.4h0M873.1 1726.6h0M862 1730h0M871.9 1733.6h0M840.6 1738h0M879.9 1743.9h0M801 1745.3h0M879.3 1759.5h0M999.1 1471.4h0M1006.1 1485.3h0M932.2 1506.6h0M979.5 1511.9h0M980.8 1516.5h0M932.1 1521.6h0M1001.6 1522.5h0M973.1 1526.7h0M1014.7 1528.8h0M935.6 1531.4h0M970.1 1533.6h0M949.6 1534.9h0M982.1 1537.7h0M978.6 1540.2h0M968.9 1540.8h0M949.7 1542.2h0M968 1544.1h0M954.6 1546.4h0M1007.5 1548.8h0M963.7 1548.9h0M965.1 1551.9h0M943 1552.8h0M942.5 1553.6h0M1013.9 1555.6h0M948.6 1556.7h0M1005.2 1558.9h0M977.3 1560.1h0M1016.6 1561.2h0M933.3 1562.5h0M1012.6 1564.8h0M995.4 1566h0M974.5 1566.9h0M988.9 1568.3h0M990.3 1570h0M962.3 1571.7h0M981.3 1571.8h0M939.9 1573.2h0M918.8 1574.8h0M985.6 1576.3h0M965 1577h0M1009 1578.3h0M943.5 1579.7h0M1000 1581.2h0M1017.2 1582.9h0M1008.2 1584h0M1015 1584.5h0M932.8 1585.7h0M933.4 1587.4h0M939.9 1589.1h0M953.5 1590.4h0M928.4 1590.9h0M932 1592.7h0M918.5 1593.9h0M1011.8 1594.5h0M953.4 1596h0M980.5 1596.7h0M963 1597.6h0M992.4 1599.3h0M998.8 1599.8h0M955.7 1601.6h0M971.2 1602.9h0M926.5 1604.1h0M945.7 1604.7h0M939.3 1605.5h0M948.1 1607.4h0M949.7 1608.5h0M975.3 1609.7h0M950.5 1610.3h0M949.9 1611.5h0M1001.4 1612.2h0M917.8 1613.1h0M917.1 1614.3h0M922.4 1615.8h0M1004.9 1616.4h0M981.2 1617.8h0M990.9 1618.6h0M1014.3 1619.6h0M938.8 1621.2h0M1010.4 1621.4h0M941.3 1622.7h0M969.5 1623.4h0M986.1 1625.1h0M997.9 1625.7h0M941.9 1626.5h0M965.3 1627.3h0M921.3 1628.7h0M946 1629.5h0M1016.7 1630.2h0M1008.9 1631h0M976 1632.3h0M996.8 1633.4h0M1008.6 1634.3h0M950.4 1635.6h0M1016.6 1636.5h0M962.3 1637.5h0M932.8 1638.3h0M970.7 1638.9h0M977.2 1639.8h0M987.3 1640.6h0M985 1641.5h0M920.8 1642.1h0M981.8 1643.6h0M1010.6 1644h0M985 1644.7h0M1016.1 1646h0M968.8 1647.1h0M999.2 1647.7h0M930.9 1648.5h0M1007.9 1649.6h0M961.1 1650h0M1006 1650.7h0M949.3 1652h0M980.3 1652.8h0M1003 1653.9h0M989.2 1654.3h0M979.8 1655.5h0M1015.6 1655.6h0M925.6 1656.5h0M927 1657.7h0M972.9 1658.2h0M1014 1658.9h0M986.6 1659.7h0M948.2 1660.7h0M927.6 1661.4h0M962.3 1662.3h0M965.6 1663.3h0M964.4 1663.7h0M979.8 1664.3h0M944.4 1665.3h0M1006.4 1665.7h0M946 1666.7h0M927.5 1667.4h0M952.2 1668.1h0M1012 1668.6h0M932.9 1669.7h0M944.9 1670.5h0M1011.1 1671.3h0M952.1 1672.2h0M1002.6 1672.4h0M921.2 1673.4h0M1007.2 1673.9h0M940.8 1674.5h0M935 1675.7h0M992.3 1676.3h0M1017.5 1677.1h0M1014.4 1677.7h0M993.3 1678.5h0M1009.9 1678.7h0M1017.3 1679.3h0M973 1680.1h0M931.4 1681h0M1003.2 1681.9h0M957 1682.4h0M948.5 1683.2h0M967.7 1684h0M920.2 1684.2h0M918.5 1685.4h0M943.6 1685.6h0M977.4 1686.5h0M993 1687.5h0M1014.2 1688.2h0M1000.1 1688.8h0M1012.6 1689.4h0M981.5 1690.5h0M991.5 1690.8h0M976.5 1691.4h0M924.9 1692.3h0M922.9 1692.8h0M994.1 1694.1h0M937.2 1694.4h0M997.2 1695.8h0M963.9 1696h0M917.3 1696.8h0M973.9 1697.8h0M961.8 1698.4h0M924.1 1699.2h0M943.2 1699.8h0M947.9 1700.8h0M951.9 1701.3h0M988.7 1702.3h0M933.7 1703.7h0M961.8 1704h0M978.5 1704.9h0M1013.1 1706.1h0M928.3 1707.2h0M924.7 1707.6h0M936.2 1708.6h0M939.1 1709.9h0M933.2 1710.9h0M924.4 1711.7h0M938 1712.3h0M939.4 1713.3h0M965.5 1715h0M982.7 1716h0M953.7 1717.3h0M933.8 1718.3h0M926.3 1719.1h0M943.4 1719.9h0M934 1722.2h0M965.7 1723.2h0M1005.5 1724.4h0M989.7 1726h0M937.3 1727h0M920.3 1728.5h0M923.5 1730.5h0M961.1 1732h0M953.7 1734.3h0M986.2 1736.7h0M925.2 1738.6h0M942.6 1739.8h0M986.5 1742.2h0M974.5 1746.4h0M969.3 1747.9h0M1008.6 1752.8h0M928.2 1754h0M936.5 1760.8h0M974.3 1768.5h0M1078.7 1674.5h0M1078.9 1682.5h0M1115.8 1687.2h0M1092.4 1689.8h0M1084.9 1694.6h0M1054.8 1698.2h0M1072.1 1699.9h0M1129.7 1705.3h0M1142.4 1707.8h0M1081.4 1711.5h0M1132.1 1714.3h0M1132.4 1717.3h0M1065.5 1723.8h0M1071.2 1727h0M1114.3 1730.8h0M1074.5 1732.8h0M1140.7 1737.1h0M1080.5 1740h0M1117.8 1745.6h0M1115.4 1750.4h0M1065.1 1754h0M1131.6 1758.5h0M1076.8 1759.9h0M1054.5 1765.8h0M1048.4 1767.6h0M1089.4 1774.5h0M1107.9 1777.7h0M1071 1788.6h0M1129.2 1802.2h0M1222.2 1469.2h0M1233.8 1513.9h0M1226 1517.8h0M1204.2 1539.1h0M1235.2 1549.7h0M1178.3 1560.8h0M1218.7 1567.1h0M1216 1573.7h0M1191.5 1581.9h0M1227.7 1585.8h0M1238.1 1590.9h0M1182.6 1594.6h0M1200.1 1600.8h0M1176.1 1603.6h0M1230.7 1608.1h0M1178.1 1612h0M1193.2 1614.2h0M1215.5 1616.6h0M1215.9 1618.9h0M1173.2 1623.2h0M1266.4 1625.3h0M1193.3 1627.8h0M1232 1628.7h0M1192.5 1631.4h0M1230.6 1634.4h0M1205.8 1635.2h0M1202.3 1638.3h0M1218.2 1639.6h0M1229.6 1640.9h0M1230.8 1643h0M1240 1644.2h0M1197.2 1646.9h0M1179.1 1648.6h0M1195.6 1649.1h0M1203.1 1651.1h0M1231.8 1653.4h0M1212.1 1654.1h0M1201.5 1656.1h0M1179.8 1657.9h0M1230.7 1659h0M1181 1659.8h0M1222.5 1662.4h0M1240 1663.5h0M1233.4 1664.7h0M1186.1 1665.7h0M1206.1 1667.4h0M1265.8 1668.5h0M1179.1 1669.5h0M1239 1670.8h0M1214.3 1672.1h0M1232.4 1673.6h0M1210 1675h0M1182.4 1676.9h0M1227.2 1678.1h0M1170.4 1679.5h0M1257.9 1681.2h0M1251.3 1681.5h0M1207.9 1683.3h0M1224.6 1684.3h0M1223.6 1686.2h0M1269.7 1687.1h0M1174.3 1688.5h0M1200.2 1690.1h0M1211.3 1692h0M1250.1 1694.1h0M1244.3 1694.9h0M1213 1697.2h0M1171 1698h0M1235.9 1699.7h0M1211.3 1701.7h0M1181.7 1702.8h0M1234.2 1705.2h0M1215.2 1707.3h0M1201.1 1709.7h0M1197.3 1710.2h0M1222.9 1713.8h0M1195.1 1715.4h0M1209.9 1717.7h0M1265.9 1718.8h0M1218.5 1723.4h0M1195.7 1724.4h0M1223 1728h0M1263.4 1731.1h0M1258.2 1735.8h0M1238.9 1738.4h0M1261.5 1744.7h0M1247 1745.9h0M1239.2 1755.2h0M1213.5 1764.2h0M1354.6 1566.6h0M1396.4 1590.5h0M1370 1602.9h0M1301.2 1619.9h0M1377.8 1624.2h0M1381.9 1642.2h0M1386.3 1646h0M1359.8 1652.5h0M1300.2 1654.5h0M1384.9 1654.6h0M1339.4 1656.5h0M1316.5 1658.6h0M1317.7 1659.7h0M1317 1660.4h0M1379.6 1660.9h0M1303.8 1661.8h0M1390.1 1662.9h0M1298.1 1664.3h0M1370.1 1664.9h0M1319.9 1665.4h0M1348.9 1666.3h0M1314.5 1667h0M1388.2 1667.3h0M1312.3 1668.2h0M1344 1668.4h0M1358.5 1669h0M1342.6 1669.4h0M1318.5 1670h0M1326 1670.7h0M1391.7 1671h0M1309.2 1671.7h0M1298.2 1672h0M1389.1 1672.7h0M1386.8 1672.9h0M1366.3 1673.3h0M1344.5 1673.7h0M1393.5 1674.2h0M1338.5 1674.7h0M1297.7 1675h0M1340.8 1675.3h0M1350.4 1675.6h0M1352.3 1675.9h0M1387 1676.1h0M1303.3 1676.4h0M1383.5 1676.9h0M1349.7 1677h0M1371.1 1677.4h0M1338.6 1677.5h0M1326.6 1677.8h0M1330.6 1678h0M1324.4 1678.4h0M1342.7 1678.7h0M1357.4 1678.9h0M1381.2 1679.2h0M1314.2 1679.3h0M1342.3 1679.6h0M1350.7 1679.8h0M1379.9 1680.1h0M1368.8 1680.2h0M1360 1680.6h0M1365.2 1680.8h0M1342.1 1681h0M1378.7 1681.1h0M1381.8 1681.4h0M1354.2 1681.6h0M1308.3 1681.8h0M1339.9 1681.9h0M1323.4 1682.3h0M1316 1682.4h0M1326.7 1682.7h0M1380 1682.7h0M1331.9 1683h0M1340.2 1683.2h0M1335.4 1683.4h0M1315.2 1683.6h0M1354.7 1683.7h0M1338.9 1683.9h0M1391.9 1684.1h0M1359.5 1684.2h0M1396.2 1684.4h0M1384 1684.6h0M1346.5 1684.8h0M1298.1 1684.9h0M1318.1 1685.1h0M1308.6 1685.3h0M1371.6 1685.3h0M1310.5 1685.6h0M1362.2 1685.8h0M1329.3 1685.9h0M1345.4 1686h0M1373.6 1686.2h0M1326.8 1686.3h0M1313.9 1686.5h0M1325.8 1686.6h0M1392.6 1686.8h0M1352.8 1686.9h0M1325.7 1687.1h0M1311.3 1687.2h0M1303.4 1687.4h0M1330.5 1687.5h0M1359 1687.7h0M1343 1687.7h0M1379.2 1688h0M1397.9 1688h0M1354.6 1688.1h0M1331.6 1688.3h0M1377.5 1688.4h0M1305.4 1688.6h0M1373.9 1688.7h0M1386.3 1688.8h0M1375.6 1689h0M1306.5 1689.1h0M1355.7 1689.3h0M1378.2 1689.4h0M1338.4 1689.5h0M1382.5 1689.6h0M1313.3 1689.8h0M1350.3 1689.9h0M1353.3 1690h0M1376.8 1690.1h0M1338.4 1690.3h0M1322.7 1690.4h0M1369 1690.5h0M1308.1 1690.7h0M1333.9 1690.7h0M1344.1 1690.8h0M1376.8 1691h0M1339.7 1691.2h0M1353.7 1691.3h0M1365.6 1691.3h0M1365.3 1691.5h0M1394.7 1691.5h0M1343.6 1691.7h0M1354.7 1691.8h0M1298.4 1691.9h0M1316 1692.1h0M1321.8 1692.1h0M1317.9 1692.3h0M1349.3 1692.4h0M1316.7 1692.5h0M1354.5 1692.6h0M1380.6 1692.7h0M1303.8 1692.9h0M1321.2 1692.9h0M1347.1 1693.1h0M1301.1 1693.2h0M1311 1693.3h0M1355 1693.4h0M1337.1 1693.5h0M1388.6 1693.6h0M1354.6 1693.7h0M1373.6 1693.8h0M1331.7 1693.9h0M1334.9 1694.1h0M1383.5 1694.1h0M1359.2 1694.2h0M1389.7 1694.4h0M1322.1 1694.4h0M1308.1 1694.5h0M1365.5 1694.7h0M1309.2 1694.7h0M1304.2 1694.8h0M1336.2 1694.9h0M1366.4 1695h0M1333.2 1695.1h0M1373.2 1695.3h0M1342.8 1695.3h0M1325.5 1695.4h0M1350.9 1695.5h0M1358.1 1695.7h0M1311.7 1695.7h0M1356.7 1695.8h0M1313.6 1696h0M1395.2 1696.1h0M1350.6 1696.1h0M1317.4 1696.3h0M1300.7 1696.3h0M1318.3 1696.4h0M1328.9 1696.5h0M1354.9 1696.6h0M1364.1 1696.7h0M1369 1696.8h0M1341.4 1696.9h0M1360.7 1697h0M1352.9 1697.1h0M1326.6 1697.1h0M1318.7 1697.3h0M1337.1 1697.4h0M1366.7 1697.5h0M1310.1 1697.6h0M1361.3 1697.7h0M1298.5 1697.7h0M1315.1 1697.9h0M1364.7 1698h0M1378.8 1698h0M1374.7 1698.1h0M1366.1 1698.2h0M1322.3 1698.3h0M1397.2 1698.4h0M1357.7 1698.4h0M1389.2 1698.6h0M1391.9 1698.7h0M1320.7 1698.7h0M1395.3 1698.8h0M1304.7 1698.9h0M1361.4 1699h0M1322.6 1699.1h0M1306 1699.2h0M1354.5 1699.2h0M1318.1 1699.3h0M1376.6 1699.5h0M1343.5 1699.5h0M1323.9 1699.6h0M1297.6 1699.7h0M1367 1699.7h0M1361.3 1699.8h0M1378.5 1700h0M1335.5 1700h0M1389.7 1700.1h0M1298.8 1700.2h0M1390.1 1700.3h0M1374.4 1700.3h0M1306.8 1700.5h0M1397.1 1700.5h0M1305.6 1700.6h0M1373 1700.7h0M1321.3 1700.8h0M1366.9 1700.9h0M1381.8 1700.9h0M1308.4 1701h0M1329.5 1701.1h0M1387.7 1701.2h0M1345.1 1701.3h0M1312 1701.4h0M1305.3 1701.4h0M1308.9 1701.5h0M1307.2 1701.6h0M1332.8 1701.7h0M1375.6 1701.8h0M1342.6 1701.8h0M1306.4 1701.9h0M1332.4 1702h0M1345.7 1702.1h0M1342.1 1702.2h0M1361.8 1702.2h0M1365.8 1702.3h0M1372.7 1702.4h0M1351.1 1702.5h0M1299.5 1702.6h0M1374.9 1702.7h0M1376.3 1702.8h0M1370.8 1702.8h0M1341 1702.9h0M1386.9 1702.9h0M1306.2 1703h0M1371.9 1703.1h0M1357.2 1703.2h0M1367.8 1703.3h0M1303.3 1703.3h0M1395.2 1703.4h0M1299.5 1703.5h0M1314.4 1703.6h0M1349.1 1703.7h0M1354.8 1703.7h0M1314.5 1703.8h0M1325.7 1703.9h0M1389.7 1704h0M1329.2 1704h0M1341.8 1704.1h0M1307.8 1704.2h0M1354.4 1704.3h0M1367.9 1704.3h0M1372 1704.4h0M1320.1 1704.5h0M1334.1 1704.6h0M1363.1 1704.6h0M1395.6 1704.7h0M1374.9 1704.8h0M1318.8 1704.9h0M1303.1 1705h0M1329.9 1705h0M1350.4 1705.1h0M1324.1 1705.2h0M1377 1705.3h0M1322.6 1705.3h0M1309 1705.4h0M1357.8 1705.5h0M1373.9 1705.6h0M1317.3 1705.7h0M1330.4 1705.7h0M1322.9 1705.8h0M1299.3 1705.9h0M1366 1705.9h0M1301.6 1706h0M1358.8 1706h0M1360.4 1706.1h0M1350.5 1706.2h0M1300.7 1706.3h0M1300.2 1706.3h0M1348.9 1706.4h0M1346.4 1706.5h0M1298 1706.5h0M1297.5 1706.7h0M1375.3 1706.7h0M1329.5 1706.8h0M1369.5 1706.9h0M1316.7 1706.9h0M1323.5 1707h0M1388 1707.1h0M1316.6 1707.2h0M1338 1707.2h0M1347.3 1707.3h0M1369 1707.3h0M1329.1 1707.4h0M1362.6 1707.5h0M1319.1 1707.5h0M1365.9 1707.6h0M1298.6 1707.7h0M1315.5 1707.8h0M1302.6 1707.9h0M1306.8 1707.9h0M1372.7 1708h0M1343.7 1708h0M1376.3 1708.1h0M1395.8 1708.2h0M1315.4 1708.3h0M1374.8 1708.3h0M1395.5 1708.4h0M1328 1708.4h0M1304.3 1708.5h0M1343.5 1708.6h0M1351.7 1708.6h0M1366.6 1708.7h0M1354.6 1708.8h0M1327.2 1708.9h0M1313 1709h0M1331.1 1709.1h0M1344.2 1709.1h0M1315.3 1709.2h0M1326.9 1709.2h0M1386.6 1709.3h0M1339.6 1709.4h0M1309.2 1709.4h0M1364.3 1709.5h0M1332.6 1709.6h0M1348.9 1709.6h0M1336.5 1709.7h0M1308.1 1709.8h0M1371.6 1709.9h0M1354.4 1709.9h0M1397.3 1710h0M1296.9 1710.1h0M1355.3 1710.2h0M1339.8 1710.2h0M1340.7 1710.3h0M1370.1 1710.3h0M1321.1 1710.5h0M1337.2 1710.5h0M1310 1710.6h0M1354.2 1710.7h0M1341 1710.7h0M1300.7 1710.8h0M1319.9 1710.9h0M1336.7 1710.9h0M1350.7 1711h0M1305.9 1711.1h0M1359.6 1711.1h0M1379.8 1711.2h0M1330.4 1711.3h0M1303.2 1711.4h0M1311.4 1711.4h0M1374.2 1711.5h0M1350.7 1711.6h0M1310.3 1711.7h0M1313.5 1711.7h0M1381.4 1711.8h0M1365.7 1711.9h0M1367.4 1712h0M1310.7 1712h0M1397.4 1712.1h0M1322.3 1712.2h0M1332.5 1712.2h0M1320.3 1712.3h0M1392.5 1712.4h0M1360.8 1712.4h0M1352.8 1712.5h0M1338.6 1712.6h0M1369.5 1712.6h0M1344.2 1712.7h0M1343.5 1712.8h0M1311.9 1712.9h0M1380.4 1713h0M1303.1 1713.1h0M1389 1713.1h0M1389.9 1713.2h0M1349.8 1713.2h0M1313.1 1713.3h0M1318.6 1713.4h0M1310.6 1713.5h0M1367.9 1713.5h0M1333.4 1713.6h0M1396.6 1713.7h0M1331.2 1713.8h0M1330 1713.9h0M1365.4 1713.9h0M1386 1714h0M1350.1 1714.1h0M1308.9 1714.1h0M1313.8 1714.2h0M1369.3 1714.3h0M1374.5 1714.3h0M1397.4 1714.5h0M1354.9 1714.5h0M1376.2 1714.6h0M1365.2 1714.7h0M1352.5 1714.7h0M1378.8 1714.8h0M1317.2 1714.9h0M1312 1715h0M1328 1715h0M1335.7 1715.1h0M1393.2 1715.2h0M1380.5 1715.3h0M1372.3 1715.3h0M1387.3 1715.4h0M1335.5 1715.5h0M1396.8 1715.6h0M1389 1715.6h0M1315.3 1715.8h0M1334.9 1715.8h0M1327.8 1715.9h0M1316.1 1716h0M1392 1716.1h0M1336.2 1716.1h0M1385 1716.2h0M1357.2 1716.2h0M1302.5 1716.3h0M1340.6 1716.4h0M1376 1716.5h0M1328.9 1716.6h0M1326.3 1716.7h0M1305.9 1716.7h0M1344.8 1716.8h0M1392.5 1716.9h0M1298.3 1717h0M1386.8 1717h0M1357.6 1717.1h0M1325 1717.2h0M1388 1717.3h0M1391 1717.4h0M1395.7 1717.5h0M1343.6 1717.5h0M1338.7 1717.6h0M1364.2 1717.7h0M1387.1 1717.8h0M1332.1 1717.9h0M1330.3 1717.9h0M1338.1 1718h0M1298.5 1718.1h0M1382.1 1718.1h0M1343.1 1718.2h0M1344 1718.3h0M1360.9 1718.4h0M1378.9 1718.5h0M1368.4 1718.5h0M1330.4 1718.7h0M1326.5 1718.7h0M1330.4 1718.8h0M1350.7 1718.9h0M1379.1 1719h0M1297.2 1719h0M1358.1 1719.2h0M1382.5 1719.2h0M1353.7 1719.3h0M1335.3 1719.4h0M1344.8 1719.5h0M1348.9 1719.6h0M1360.4 1719.6h0M1304.1 1719.7h0M1377.2 1719.8h0M1352.7 1719.9h0M1324.7 1720h0M1389.8 1720.1h0M1337.1 1720.2h0M1375.4 1720.2h0M1326.7 1720.3h0M1352.3 1720.4h0M1315.8 1720.4h0M1324.3 1720.5h0M1330 1720.6h0M1311 1720.7h0M1374 1720.8h0M1342.4 1720.9h0M1331.8 1721h0M1356.1 1721.1h0M1319.8 1721.2h0M1341.1 1721.3h0M1354.3 1721.4h0M1359.2 1721.5h0M1339.5 1721.5h0M1372.2 1721.6h0M1384.8 1721.7h0M1394.7 1721.7h0M1353.5 1721.9h0M1394.9 1721.9h0M1392.1 1722h0M1363.2 1722.1h0M1310.1 1722.2h0M1361.8 1722.3h0M1350.6 1722.4h0M1368.1 1722.5h0M1324 1722.5h0M1397.7 1722.7h0M1331.7 1722.7h0M1398.4 1722.9h0M1324.6 1722.9h0M1345.1 1723h0M1365.9 1723.1h0M1322.9 1723.2h0M1337.9 1723.3h0M1363.9 1723.4h0M1373.2 1723.5h0M1389.9 1723.5h0M1352.7 1723.7h0M1394.6 1723.7h0M1325.2 1723.8h0M1358.5 1723.9h0M1373.7 1724h0M1304.9 1724.1h0M1376.7 1724.2h0M1380 1724.3h0M1353.8 1724.4h0M1390.6 1724.5h0M1367.7 1724.6h0M1333.8 1724.6h0M1378.7 1724.7h0M1349.3 1724.8h0M1366.1 1724.9h0M1397.2 1725.1h0M1367.4 1725.1h0M1375.7 1725.3h0M1379.6 1725.3h0M1316.8 1725.4h0M1300.2 1725.5h0M1304.1 1725.6h0M1343.8 1725.7h0M1394.9 1725.8h0M1341.9 1725.9h0M1390.6 1726.1h0M1326.3 1726.1h0M1310.9 1726.2h0M1337.9 1726.3h0M1382.5 1726.4h0M1395.1 1726.5h0M1351.3 1726.7h0M1335.2 1726.7h0M1376.7 1726.8h0M1339.8 1726.9h0M1327.2 1727h0M1373.5 1727.1h0M1304.9 1727.2h0M1375.6 1727.3h0M1393.7 1727.4h0M1306.9 1727.5h0M1376.2 1727.6h0M1298.8 1727.7h0M1309.1 1727.8h0M1326.3 1727.9h0M1398.3 1728.1h0M1301.8 1728.1h0M1342.9 1728.3h0M1341.5 1728.3h0M1314.5 1728.5h0M1396.1 1728.6h0M1320.5 1728.6h0M1388.3 1728.8h0M1351.8 1728.8h0M1369.1 1728.9h0M1372.2 1729.1h0M1365.2 1729.1h0M1378.9 1729.2h0M1386.3 1729.4h0M1310.8 1729.5h0M1305.5 1729.6h0M1342.7 1729.7h0M1307.4 1729.8h0M1356.7 1730h0M1392.4 1730h0M1348.9 1730.2h0M1313.5 1730.2h0M1308.3 1730.4h0M1350.7 1730.5h0M1372.2 1730.6h0M1378.6 1730.7h0M1373.5 1730.8h0M1343.8 1730.9h0M1385.7 1731h0M1351.6 1731.1h0M1366.1 1731.2h0M1296.7 1731.4h0M1346.4 1731.5h0M1305.2 1731.6h0M1318.1 1731.7h0M1327.1 1731.9h0M1354.9 1731.9h0M1304.2 1732.1h0M1369 1732.1h0M1336.7 1732.3h0M1318.6 1732.4h0M1393.9 1732.4h0M1363.8 1732.7h0M1330.7 1732.8h0M1308.9 1732.9h0M1346.4 1732.9h0M1375.1 1733.1h0M1348.6 1733.2h0M1328 1733.4h0M1307.9 1733.5h0M1319.2 1733.6h0M1377 1733.7h0M1312.7 1733.8h0M1396.5 1733.9h0M1370.8 1734h0M1337.5 1734.2h0M1315.7 1734.3h0M1343.9 1734.4h0M1393.6 1734.6h0M1308.5 1734.7h0M1321.3 1734.8h0M1304.2 1734.8h0M1370.2 1735h0M1393.4 1735.1h0M1353.2 1735.2h0M1326.8 1735.4h0M1394.7 1735.6h0M1356.3 1735.7h0M1394.3 1735.7h0M1334.5 1735.9h0M1311.3 1736.1h0M1303.5 1736.2h0M1323.6 1736.2h0M1340.6 1736.4h0M1374.3 1736.6h0M1344.2 1736.7h0M1323.9 1736.9h0M1388.2 1736.9h0M1355.2 1737.1h0M1357.9 1737.2h0M1380 1737.3h0M1364.8 1737.5h0M1321 1737.5h0M1393.6 1737.8h0M1312.9 1737.9h0M1312.7 1738h0M1362.6 1738.2h0M1355.8 1738.3h0M1319.8 1738.5h0M1368 1738.5h0M1306.5 1738.7h0M1344.9 1738.8h0M1393 1739h0M1387.8 1739.2h0M1358 1739.3h0M1377.3 1739.4h0M1364 1739.5h0M1320.2 1739.7h0M1384 1739.8h0M1358.7 1740h0M1357.2 1740.1h0M1393.6 1740.3h0M1353.4 1740.3h0M1329.6 1740.5h0M1339.5 1740.7h0M1353.1 1740.9h0M1385.3 1741h0M1382.3 1741.1h0M1337 1741.3h0M1346.2 1741.5h0M1301.5 1741.6h0M1361.6 1741.7h0M1378.3 1741.9h0M1316.6 1742.1h0M1361.2 1742.2h0M1310.7 1742.4h0M1382 1742.5h0M1370.9 1742.7h0M1391.7 1742.8h0M1325.4 1742.9h0M1313.8 1743.2h0M1354.6 1743.4h0M1302.3 1743.5h0M1380.1 1743.7h0M1317.2 1743.9h0M1310 1743.9h0M1311.5 1744.1h0M1368.2 1744.3h0M1301.4 1744.5h0M1339.4 1744.7h0M1314.9 1744.8h0M1376 1745h0M1301.9 1745.1h0M1316.4 1745.3h0M1375.1 1745.5h0M1349 1745.6h0M1308.1 1745.8h0M1397.4 1745.9h0M1334.3 1746.1h0M1339.2 1746.4h0M1372 1746.5h0M1346.6 1746.6h0M1381 1746.9h0M1351.1 1747h0M1321.5 1747.1h0M1351.1 1747.4h0M1381.9 1747.5h0M1325 1747.7h0M1361.2 1748h0M1355.5 1748.1h0M1367.1 1748.3h0M1333.1 1748.5h0M1319.5 1748.6h0M1364.2 1748.8h0M1382.9 1749.1h0M1344.5 1749.2h0M1310.3 1749.4h0M1378.4 1749.7h0M1350.3 1749.7h0M1366 1750h0M1306.7 1750.2h0M1376.4 1750.4h0M1334.4 1750.4h0M1387.2 1750.8h0M1321.7 1751h0M1297 1751.1h0M1329 1751.2h0M1370.2 1751.4h0M1369.8 1751.6h0M1382.9 1751.9h0M1317.9 1752.2h0M1357 1752.2h0M1303.8 1752.5h0M1319.3 1752.7h0M1301.1 1752.9h0M1360.5 1753.2h0M1387.7 1753.4h0M1357.7 1753.5h0M1357.9 1753.9h0M1388.6 1754h0M1330 1754.2h0M1353.2 1754.6h0M1379 1754.7h0M1316.2 1754.8h0M1368.1 1755.2h0M1304.3 1755.4h0M1334.1 1755.5h0M1315.3 1755.7h0M1340.5 1755.9h0M1317.2 1756.2h0M1302.7 1756.4h0M1341.7 1756.7h0M1336.2 1757.1h0M1371.3 1757.2h0M1297.8 1757.3h0M1361.2 1757.6h0M1300.9 1757.9h0M1345.9 1758h0M1298.5 1758.4h0M1389.3 1758.6h0M1346.1 1759h0M1345.1 1759.1h0M1303.6 1759.4h0M1376.6 1759.7h0M1323.6 1759.8h0M1344.4 1760.1h0M1370 1760.4h0M1377.1 1760.6h0M1335.8 1760.8h0M1302.6 1761.3h0M1397 1761.3h0M1322.4 1761.8h0M1300.7 1761.9h0M1359.6 1762.1h0M1385.5 1762.6h0M1305.4 1762.8h0M1301.1 1763h0M1365.5 1763.5h0M1354.8 1763.7h0M1322.8 1763.9h0M1323.4 1764.3h0M1374.7 1764.6h0M1298.5 1764.7h0M1320.9 1765.2h0M1333.4 1765.5h0M1375.4 1765.8h0M1328.4 1766.1h0M1301.9 1766.5h0M1372.2 1766.7h0M1366.6 1767h0M1309.4 1767.3h0M1370.7 1767.7h0M1360 1768h0M1333.9 1768.1h0M1355.4 1768.5h0M1347.7 1768.9h0M1377.3 1769.4h0M1393.5 1769.5h0M1331.2 1769.9h0M1305.6 1770.4h0M1333.6 1770.5h0M1357.5 1771h0M1322.6 1771.3h0M1312.2 1771.6h0M1318 1772.2h0M1383 1772.4h0M1369.2 1772.9h0M1309.2 1773.2h0M1326.9 1773.5h0M1324 1774.2h0M1307.9 1774.3h0M1382 1774.8h0M1325.9 1775.4h0M1354 1775.6h0M1335.4 1776.1h0M1303.6 1776.5h0M1300.1 1777h0M1367.3 1777.4h0M1360.5 1777.9h0M1346.6 1778.1h0M1314.5 1778.6h0M1331.1 1779.3h0M1348.1 1779.9h0M1318.4 1780.5h0M1355.2 1780.9h0M1382 1781.3h0M1314.5 1781.9h0M1391.4 1782.5h0M1348.2 1783.1h0M1396.1 1783.8h0M1395.1 1784h0M1302.9 1784.7h0M1365.9 1785.6h0M1321.2 1785.9h0M1359.7 1786.4h0M1387.1 1787.7h0M1343.1 1787.8h0M1363 1789.3h0M1364.5 1790.2h0M1315.6 1790.4h0M1339.8 1791.9h0M1326.1 1792.4h0M1345.7 1793.5h0M1374.2 1795.5h0M1311.2 1796.8h0M1352.8 1798.2h0M1347.8 1799.4h0M1335.7 1804.1h0" stroke="#000" stroke-width="4.9" stroke-linecap="round" fill="none"/>
<path d="M765 1445.5V1829H1423.8M761.5 1490.3h3.5M761.5 1586.3h3.5M761.5 1682.3h3.5M761.5 1778.3h3.5M841 1829v3.5M967.6 1829v3.5M1094.3 1829v3.5M1220.8 1829v3.5M1347.4 1829v3.5" stroke="#4a4a4a" stroke-width="1.6" fill="none"/>
<text class="s" font-size="16" text-anchor="end" fill="#222" x="756.5" y="1496">2.0</text>
<text class="s" font-size="16" text-anchor="end" fill="#222" x="756.5" y="1592">1.5</text>
<text class="s" font-size="16" text-anchor="end" fill="#222" x="756.5" y="1688">1.0</text>
<text class="s" font-size="16" text-anchor="end" fill="#222" x="756.5" y="1784">0.5</text>
<text class="s" font-size="18.3" text-anchor="middle" fill="#111" transform="translate(725.5 1636.5) rotate(-90)">Expression Level</text>
<text class="d" font-size="26.5" fill="#222" textLength="182.6" lengthAdjust="spacingAndGlyphs" x="986.9" y="1440.3">PD-L1 protein</text>
<text class="d" font-size="30.5" text-anchor="middle" fill="#111" x="829.3" y="1867.2">NT</text>
<text class="d" font-size="30.5" text-anchor="middle" fill="#111" x="955" y="1867.2">A</text>
<text class="d" font-size="30.5" text-anchor="middle" fill="#111" x="1087.7" y="1867.2">B</text>
<text class="d" font-size="30.5" text-anchor="middle" fill="#111" x="1214.4" y="1867.2">C</text>
<text class="d" font-size="30.5" text-anchor="middle" fill="#111" x="1351.8" y="1867.2">D</text>
<text class="d" font-size="56" x="521.5" y="1459">c</text>
</g>
<g id="panel_d">
<rect x="13.7" y="1896.2" width="495.5" height="531.4" fill="#fff" stroke="#A3A534" stroke-width="7.7"/>
<rect x="156.3" y="2313.7" width="91.7" height="14.6" fill="#EE4000"/>
<rect x="258.5" y="2158.5" width="91.7" height="169.8" fill="#EE9A00"/>
<rect x="360.6" y="2108.4" width="91.7" height="219.9" fill="#999999"/>
<path d="M141.5 1904.6V2348.3H467.7M137.5 2328.3h4M137.5 2227.2h4M137.5 2126.2h4M137.5 2025.1h4M137.5 1924h4M202.2 2348.3v4M304.4 2348.3v4M406.5 2348.3v4" fill="none" stroke="#222" stroke-width="1.8"/>
<text class="s" font-size="30" text-anchor="end" fill="#4d4d4d" x="131.2" y="2339.1">0</text>
<text class="s" font-size="30" text-anchor="end" fill="#4d4d4d" x="131.2" y="2238">25</text>
<text class="s" font-size="30" text-anchor="end" fill="#4d4d4d" x="131.2" y="2137">50</text>
<text class="s" font-size="30" text-anchor="end" fill="#4d4d4d" x="131.2" y="2035.9">75</text>
<text class="s" font-size="30" text-anchor="end" fill="#4d4d4d" x="131.2" y="1934.8">100</text>
<text class="s" font-size="30" text-anchor="middle" fill="#4d4d4d" x="202.5" y="2379">FS</text>
<text class="s" font-size="30" text-anchor="middle" fill="#4d4d4d" x="304.5" y="2379">IF</text>
<text class="s" font-size="30" text-anchor="middle" fill="#4d4d4d" x="406.5" y="2379">NID</text>
<text class="s" font-size="33.8" text-anchor="middle" fill="#000" x="304.6" y="2417">type of deletion</text>
<text class="s" font-size="33.8" text-anchor="middle" fill="#000" transform="translate(68.5 2127) rotate(-90)">% of reads</text>
<text class="d" font-size="39.6" text-anchor="middle" fill="#000" x="292.3" y="1949.8">A</text>
<rect x="526.1" y="1896.8" width="496.3" height="531" fill="#fff" stroke="#2BA9E0" stroke-width="7.7"/>
<rect x="680.8" y="2308.4" width="88.6" height="21.8" fill="#EE4000"/>
<rect x="779.8" y="2229.2" width="88.7" height="101" fill="#EE9A00"/>
<rect x="878.6" y="2052.2" width="89.2" height="278" fill="#999999"/>
<path d="M665.7 1907.7V2350.2H982.3M661.7 2330.2h4M661.7 2229.2h4M661.7 2128.2h4M661.7 2027.2h4M661.7 1926.2h4M725.1 2350.2v4M824.1 2350.2v4M923.2 2350.2v4" fill="none" stroke="#222" stroke-width="1.8"/>
<text class="s" font-size="30" text-anchor="end" fill="#4d4d4d" x="656" y="2341">0</text>
<text class="s" font-size="30" text-anchor="end" fill="#4d4d4d" x="656" y="2240">25</text>
<text class="s" font-size="30" text-anchor="end" fill="#4d4d4d" x="656" y="2139">50</text>
<text class="s" font-size="30" text-anchor="end" fill="#4d4d4d" x="656" y="2038">75</text>
<text class="s" font-size="30" text-anchor="end" fill="#4d4d4d" x="656" y="1937">100</text>
<text class="s" font-size="30" text-anchor="middle" fill="#4d4d4d" x="724.8" y="2380.9">FS</text>
<text class="s" font-size="30" text-anchor="middle" fill="#4d4d4d" x="823.8" y="2380.9">IF</text>
<text class="s" font-size="30" text-anchor="middle" fill="#4d4d4d" x="923.2" y="2380.9">NID</text>
<text class="s" font-size="33.8" text-anchor="middle" fill="#000" x="823.8" y="2418.6">type of deletion</text>
<text class="s" font-size="33.8" text-anchor="middle" fill="#000" transform="translate(595.3 2128.6) rotate(-90)">% of reads</text>
<text class="d" font-size="39.6" text-anchor="middle" fill="#000" x="769" y="1949.2">C</text>
<rect x="1039.8" y="1895.4" width="495.8" height="530.7" fill="#fff" stroke="#B575B0" stroke-width="7.7"/>
<rect x="1181.5" y="1964.7" width="88.3" height="360.5" fill="#EE4000"/>
<rect x="1280" y="2324.3" width="88.6" height="0.9" fill="#EE9A00" opacity="0.7"/>
<rect x="1379" y="2292.2" width="88.7" height="33" fill="#999999"/>
<path d="M1167 1908.3V2345.2H1481.5M1163 2325.2h4M1163 2225.8h4M1163 2126.4h4M1163 2027.1h4M1163 1927.7h4M1225.7 2345.2v4M1324.3 2345.2v4M1423.3 2345.2v4" fill="none" stroke="#4a4a4a" stroke-width="2.2"/>
<text class="s" font-size="30" text-anchor="end" fill="#4d4d4d" x="1157.4" y="2336">0</text>
<text class="s" font-size="30" text-anchor="end" fill="#4d4d4d" x="1157.4" y="2236.6">25</text>
<text class="s" font-size="30" text-anchor="end" fill="#4d4d4d" x="1157.4" y="2137.2">50</text>
<text class="s" font-size="30" text-anchor="end" fill="#4d4d4d" x="1157.4" y="2037.9">75</text>
<text class="s" font-size="30" text-anchor="end" fill="#4d4d4d" x="1157.4" y="1938.5">100</text>
<text class="s" font-size="30" text-anchor="middle" fill="#4d4d4d" x="1225.2" y="2375.4">FS</text>
<text class="s" font-size="30" text-anchor="middle" fill="#4d4d4d" x="1324.3" y="2375.4">IF</text>
<text class="s" font-size="30" text-anchor="middle" fill="#4d4d4d" x="1423.4" y="2375.4">NID</text>
<text class="s" font-size="33.8" text-anchor="middle" fill="#000" x="1324" y="2412.6">type of deletion</text>
<text class="s" font-size="33.8" text-anchor="middle" fill="#000" transform="translate(1096 2127.7) rotate(-90)">% of reads</text>
<text class="d" font-size="39.6" text-anchor="middle" fill="#000" x="1321" y="1935.4">D</text>
<rect x="1553.6" y="1895.1" width="494.5" height="531.1" fill="#fff" stroke="#F27470" stroke-width="7.7"/>
<rect x="1697" y="2323.7" width="92.4" height="0.9" fill="#EE4000" opacity="0.45"/>
<rect x="1902.6" y="1928.2" width="91.4" height="396.4" fill="#999999"/>
<path d="M1682.3 1907.7V2345.2H2009.4M1678.3 2324.6h4M1678.3 2225.2h4M1678.3 2125.8h4M1678.3 2026.4h4M1678.3 1927h4M1743.2 2345.2v4M1846 2345.2v4M1948.3 2345.2v4" fill="none" stroke="#4a4a4a" stroke-width="2.0"/>
<text class="s" font-size="30" text-anchor="end" fill="#4d4d4d" x="1672.5" y="2335.4">0</text>
<text class="s" font-size="30" text-anchor="end" fill="#4d4d4d" x="1672.5" y="2236">25</text>
<text class="s" font-size="30" text-anchor="end" fill="#4d4d4d" x="1672.5" y="2136.6">50</text>
<text class="s" font-size="30" text-anchor="end" fill="#4d4d4d" x="1672.5" y="2037.2">75</text>
<text class="s" font-size="30" text-anchor="end" fill="#4d4d4d" x="1672.5" y="1937.8">100</text>
<text class="s" font-size="30" text-anchor="middle" fill="#4d4d4d" x="1743.2" y="2375.4">FS</text>
<text class="s" font-size="30" text-anchor="middle" fill="#4d4d4d" x="1845.4" y="2375.4">IF</text>
<text class="s" font-size="30" text-anchor="middle" fill="#4d4d4d" x="1947.8" y="2375.4">NID</text>
<text class="s" font-size="33.8" text-anchor="middle" fill="#000" x="1845.4" y="2412.6">type of deletion</text>
<text class="s" font-size="33.8" text-anchor="middle" fill="#000" transform="translate(1608.5 2127.7) rotate(-90)">% of reads</text>
<text class="d" font-size="39.6" text-anchor="middle" fill="#000" x="1794" y="1935.4">NT</text>
<rect x="2052" y="1891.3" width="2" height="538.8" fill="#FBB8B1"/>
<circle cx="849.1" cy="2483.4" r="15.4" fill="#EF4423"/>
<text class="d" font-size="34.5" fill="#111" textLength="40.3" lengthAdjust="spacingAndGlyphs" x="880.8" y="2494.6">FS</text>
<circle cx="1006.7" cy="2484" r="15.4" fill="#F19A21"/>
<text class="d" font-size="34.5" fill="#111" textLength="31.4" lengthAdjust="spacingAndGlyphs" x="1040" y="2494.6">IF</text>
<circle cx="1137.1" cy="2481.3" r="15.4" fill="#939393"/>
<text class="d" font-size="34.5" fill="#111" textLength="62.2" lengthAdjust="spacingAndGlyphs" x="1169.4" y="2498">NID</text>
<text class="d" font-size="56.7" x="-3" y="1855.4">d</text>
</g>
</svg>
</body>
</html>
